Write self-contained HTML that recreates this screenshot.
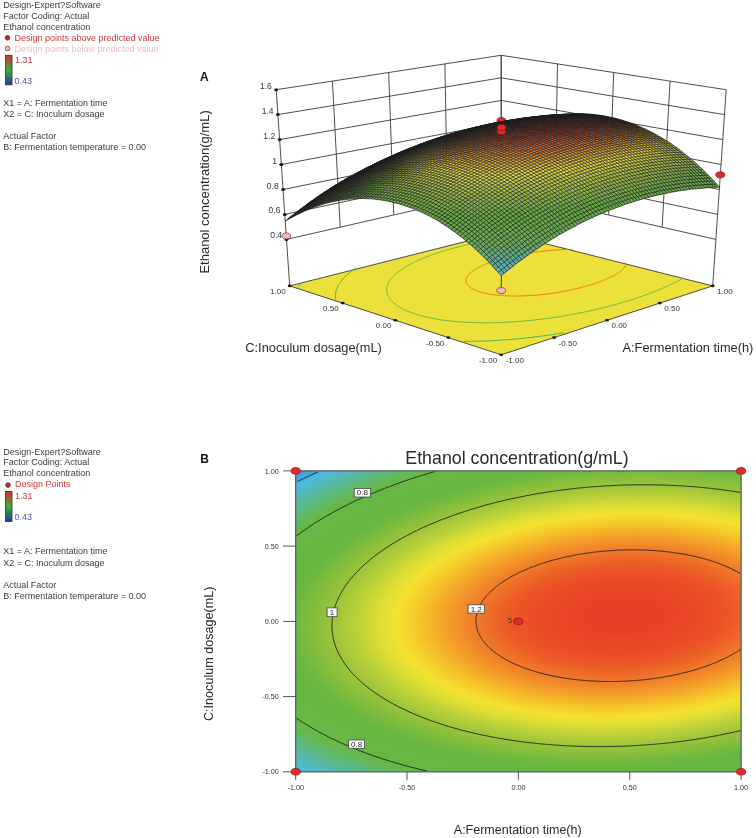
<!DOCTYPE html>
<html><head><meta charset="utf-8"><style>
html,body{margin:0;padding:0;background:#fff;width:756px;height:838px;overflow:hidden;position:relative}
svg{will-change:transform}
</style></head><body>
<svg width="756" height="838" viewBox="0 0 756 838" style="position:absolute;left:0;top:0" font-family="Liberation Sans, sans-serif">
<defs>
<linearGradient id="cb" x1="0" y1="0" x2="0" y2="1"><stop offset="0" stop-color="#d8302a"/><stop offset="0.5" stop-color="#3cae3c"/><stop offset="1" stop-color="#1c3c9c"/></linearGradient>
<radialGradient id="hm" gradientUnits="userSpaceOnUse" cx="0" cy="0" r="1" gradientTransform="matrix(500.5277 -10.4647 15.4902 -226.1302 621.59 615.69)"><stop offset="0.000" stop-color="#e84026"/><stop offset="0.025" stop-color="#e84026"/><stop offset="0.050" stop-color="#e84026"/><stop offset="0.075" stop-color="#e84226"/><stop offset="0.100" stop-color="#e94426"/><stop offset="0.125" stop-color="#e94726"/><stop offset="0.150" stop-color="#ea4a26"/><stop offset="0.175" stop-color="#eb4e26"/><stop offset="0.200" stop-color="#eb5326"/><stop offset="0.225" stop-color="#ec5a26"/><stop offset="0.250" stop-color="#ee6527"/><stop offset="0.275" stop-color="#ef7228"/><stop offset="0.300" stop-color="#f17f28"/><stop offset="0.325" stop-color="#f28f28"/><stop offset="0.350" stop-color="#f49f28"/><stop offset="0.375" stop-color="#f4b029"/><stop offset="0.400" stop-color="#f5c22a"/><stop offset="0.425" stop-color="#f5d22b"/><stop offset="0.450" stop-color="#f4e22e"/><stop offset="0.475" stop-color="#e5e032"/><stop offset="0.500" stop-color="#d3da36"/><stop offset="0.525" stop-color="#bdd238"/><stop offset="0.550" stop-color="#adcc39"/><stop offset="0.575" stop-color="#9dc43a"/><stop offset="0.600" stop-color="#8ec03c"/><stop offset="0.625" stop-color="#7fbd3d"/><stop offset="0.650" stop-color="#70b83f"/><stop offset="0.675" stop-color="#66b640"/><stop offset="0.700" stop-color="#66b742"/><stop offset="0.725" stop-color="#66b743"/><stop offset="0.750" stop-color="#66b744"/><stop offset="0.775" stop-color="#66b846"/><stop offset="0.800" stop-color="#62b860"/><stop offset="0.825" stop-color="#5db880"/><stop offset="0.850" stop-color="#57b8a0"/><stop offset="0.875" stop-color="#51babe"/><stop offset="0.900" stop-color="#4abbdc"/><stop offset="0.925" stop-color="#43a7e1"/><stop offset="0.950" stop-color="#3a85d4"/><stop offset="0.975" stop-color="#306dc6"/><stop offset="1.000" stop-color="#2554b6"/></radialGradient>
<clipPath id="cp"><rect x="295.7" y="470.9" width="445.4" height="300.9"/></clipPath>
</defs>
<text x="3.3" y="8.4" font-size="9" fill="#3c3c3c">Design-Expert?Software</text><text x="3.3" y="18.8" font-size="9" fill="#3c3c3c">Factor Coding: Actual</text><text x="3.3" y="30.0" font-size="9" fill="#3c3c3c">Ethanol concentration</text><circle cx="7.5" cy="37.8" r="2.3" fill="#b83030" stroke="#602020" stroke-width="0.8"/><text x="14.5" y="40.8" font-size="9" fill="#d23a3a">Design points above predicted value</text><circle cx="7.5" cy="48.5" r="2.3" fill="#f0c0c0" stroke="#604040" stroke-width="0.8"/><text x="14.5" y="51.5" font-size="9" fill="#f2bcbc">Design points below predicted value</text><rect x="5.5" y="55.3" width="6.5" height="29.5" fill="url(#cb)" stroke="#303030" stroke-width="0.8"/><text x="15" y="62.6" font-size="9" fill="#c83c3c">1.31</text><text x="14.5" y="83.7" font-size="9" fill="#4a5aa8">0.43</text>
<g font-size="9" fill="#3c3c3c"><text x="3.3" y="106.3">X1 = A: Fermentation time</text><text x="3.3" y="117.2">X2 = C: Inoculum dosage</text><text x="3.3" y="138.6">Actual Factor</text><text x="3.3" y="149.5">B: Fermentation temperature = 0.00</text></g>
<text x="3.3" y="454.5" font-size="9" fill="#3c3c3c">Design-Expert?Software</text><text x="3.3" y="464.9" font-size="9" fill="#3c3c3c">Factor Coding: Actual</text><text x="3.3" y="476.1" font-size="9" fill="#3c3c3c">Ethanol concentration</text><circle cx="8" cy="485.1" r="2.3" fill="#b83030" stroke="#602020" stroke-width="0.8"/><text x="15" y="487.2" font-size="9" fill="#d23a3a">Design Points</text><rect x="5.5" y="491.5" width="6.5" height="30.1" fill="url(#cb)" stroke="#303030" stroke-width="0.8"/><text x="15" y="498.5" font-size="9" fill="#c83c3c">1.31</text><text x="14.5" y="520.3" font-size="9" fill="#4a5aa8">0.43</text>
<g font-size="9" fill="#3c3c3c"><text x="3.3" y="554.4">X1 = A: Fermentation time</text><text x="3.3" y="565.5">X2 = C: Inoculum dosage</text><text x="3.3" y="587.8">Actual Factor</text><text x="3.3" y="598.6">B: Fermentation temperature = 0.00</text></g>
<text x="200" y="80.9" font-size="12" font-weight="bold" fill="#111">A</text>
<text x="200.3" y="462.7" font-size="12" font-weight="bold" fill="#111">B</text>
<path d="M286.5 239.4L501.2 190.5M501.2 190.5L715.9 239.4M284.8 214.4L501.2 168M501.2 168L717.6 214.4M283.1 189.5L501.2 145.4M501.2 145.4L719.3 189.5M281.3 164.5L501.2 122.9M501.2 122.9L721.1 164.5M279.6 139.6L501.2 100.4M501.2 100.4L722.8 139.6M277.9 114.6L501.2 77.8M501.2 77.8L724.5 114.6M276.2 89.7L501.2 55.3M501.2 55.3L726.2 89.7M340.2 227.1L332.4 81.1M393.8 214.9L388.7 72.5M447.5 202.7L444.9 63.9M501.2 190.5L501.2 55.3M554.9 202.7L557.5 63.9M608.6 214.9L613.7 72.5M662.2 227.1L670 81.1M289.7 285.9L276.2 89.7M712.7 285.9L726.2 89.7M501.2 232.5L501.2 55.3" stroke="#3a3a3a" stroke-width="0.9" fill="none"/>
<path d="M289.7 285.9 L501.2 354.8 L712.7 285.9 L501.2 232.5Z" fill="#ebe13a" stroke="#3a3a3a" stroke-width="0.9"/>
<path d="M301.1 283.1 300.1 284.5 299.2 285.8 298.4 287.2" stroke="#3a9ad8" stroke-width="0.9" fill="none"/>
<path d="M356.5 267.7 355.2 268.5 353.9 269.4 352.7 270.3 351.4 271.2 350.2 272.2 349.1 273.1 347.9 274.1 346.8 275 345.8 276 344.7 277 343.8 278.1 342.8 279.1 341.9 280.2 341.1 281.3 340.2 282.4 339.5 283.5 338.8 284.6 338.1 285.7 337.6 286.9 337 288.1 336.6 289.3 336.2 290.5 335.9 291.7 335.6 293 335.5 294.3 335.4 295.5 335.4 296.8 335.5 298.1 335.7 299.4M463.8 341.4 468.3 341.4 472.7 341.3 477.1 341.2 481.5 341.1 485.9 341 490.2 340.8 494.5 340.6 498.7 340.3 503 340 507.1 339.7 511.3 339.4 515.4 339 519.4 338.7 523.4 338.3 527.3 337.8 531.2 337.4 535 336.9 538.8 336.5 542.5 336 546.2 335.5 549.8 334.9 553.4 334.4 556.9 333.9 560.4 333.3 563.8 332.7" stroke="#3fae5a" stroke-width="0.9" fill="none"/>
<path d="M515.8 236 513.6 236.3 511.3 236.6 509.1 236.9 506.9 237.3 504.7 237.6 502.6 237.9 500.5 238.2 498.4 238.6 496.4 238.9 494.4 239.3 492.4 239.6 490.4 240 488.5 240.3 486.6 240.7 484.7 241 482.8 241.4 481 241.7 479.2 242.1 477.4 242.5 475.6 242.8 473.9 243.2 472.2 243.6 470.5 244 468.8 244.3 467.1 244.7 465.5 245.1 463.9 245.5 462.3 245.9 460.7 246.3 459.1 246.7 457.5 247.1 456 247.5 454.5 247.9 453 248.3 451.5 248.7 450 249.1 448.5 249.5 447 249.9 445.6 250.4 444.2 250.8 442.8 251.2 441.4 251.7 440 252.1 438.6 252.5 437.2 253 435.9 253.4 434.5 253.9 433.2 254.4 431.9 254.8 430.6 255.3 429.3 255.8 428 256.3 426.7 256.8 425.5 257.3 424.2 257.8 423 258.3 421.7 258.8 420.5 259.3 419.3 259.8 418.1 260.4 416.9 260.9 415.7 261.4 414.6 262 413.4 262.6 412.3 263.1 411.2 263.7 410.1 264.3 409 264.9 407.9 265.5 406.8 266.1 405.8 266.7 404.7 267.4 403.7 268 402.7 268.6 401.7 269.3 400.7 270 399.8 270.7 398.9 271.3 398 272 397.1 272.8 396.2 273.5 395.4 274.2 394.6 275 393.8 275.7 393.1 276.5 392.3 277.3 391.7 278.1 391 278.9 390.4 279.7 389.8 280.5 389.3 281.4 388.8 282.2 388.4 283.1 388 284 387.6 284.9 387.3 285.8 387.1 286.7 386.9 287.6 386.8 288.6 386.7 289.5 386.8 290.5 386.8 291.4 387 292.4 387.2 293.4 387.5 294.4 387.9 295.4 388.4 296.4 388.9 297.4 389.6 298.4 390.3 299.4 391.2 300.4 392.1 301.4 393.1 302.4 394.2 303.3 395.5 304.3 396.8 305.3 398.3 306.3 399.8 307.2 401.4 308.1 403.2 309.1 405.1 310 407 310.9 409.1 311.7 411.3 312.6 413.5 313.4 415.9 314.1 418.3 314.9 420.9 315.6 423.5 316.3 426.2 317 429 317.6 431.9 318.2 434.9 318.8 437.9 319.3 440.9 319.8 444.1 320.2 447.2 320.6 450.4 321 453.7 321.4 457 321.7 460.3 321.9 463.6 322.1 467 322.3 470.4 322.5 473.7 322.6 477.1 322.7 480.5 322.8 483.9 322.8 487.2 322.8 490.6 322.8 493.9 322.7 497.3 322.6 500.6 322.5 503.8 322.4 507.1 322.2 510.3 322 513.5 321.8 516.7 321.6 519.8 321.4 522.9 321.1 525.9 320.8 528.9 320.6 531.9 320.3 534.9 319.9 537.8 319.6 540.6 319.3 543.4 318.9 546.2 318.5 549 318.2 551.7 317.8 554.3 317.4 557 317 559.5 316.6 562.1 316.2 564.6 315.8 567.1 315.3 569.5 314.9 571.9 314.5 574.3 314 576.6 313.6 578.9 313.1 581.1 312.7 583.4 312.2 585.6 311.8 587.7 311.3 589.9 310.8 592 310.4 594 309.9 596.1 309.4 598.1 308.9 600.1 308.5 602 308 604 307.5 605.9 307 607.7 306.5 609.6 306.1 611.4 305.6 613.2 305.1 615 304.6 616.8 304.1 618.5 303.6 620.3 303.1 622 302.6 623.6 302.1 625.3 301.6 627 301.1 628.6 300.6 630.2 300.1 631.8 299.6 633.4 299.1 634.9 298.6 636.5 298.1 638 297.6 639.5 297.1 641 296.6 642.5 296 643.9 295.5 645.4 295 646.8 294.5 648.3 294 649.7 293.4 651.1 292.9 652.5 292.4 653.8 291.8 655.2 291.3 656.6 290.7 657.9 290.2 659.2 289.6 660.6 289.1 661.9 288.5 663.2 288 664.4 287.4 665.7 286.9 667 286.3 668.2 285.7 669.5 285.1 670.7 284.5 671.9 284 673.1 283.4 674.3 282.8 675.5 282.2 676.7 281.6 677.9 281 679 280.3 680.1 279.7 681.3 279.1 682.4 278.5 683.5 277.8" stroke="#5fb84a" stroke-width="0.9" fill="none"/>
<path d="M572.5 249.3 570.8 249.3 569.2 249.3 567.5 249.4 565.9 249.4 564.3 249.5 562.7 249.6 561.1 249.7 559.5 249.8 558 249.9 556.4 250 554.9 250.1 553.4 250.2 551.9 250.3 550.5 250.4 549 250.6 547.6 250.7 546.2 250.8 544.8 251 543.5 251.1 542.1 251.3 540.8 251.4 539.5 251.6 538.2 251.8 537 251.9 535.7 252.1 534.5 252.2 533.3 252.4 532.1 252.6 531 252.8 529.8 252.9 528.7 253.1 527.5 253.3 526.4 253.5 525.4 253.7 524.3 253.8 523.2 254 522.2 254.2 521.2 254.4 520.1 254.6 519.2 254.8 518.2 255 517.2 255.2 516.2 255.4 515.3 255.6 514.4 255.7 513.4 255.9 512.5 256.1 511.6 256.3 510.7 256.5 509.9 256.7 509 256.9 508.1 257.2 507.3 257.4 506.5 257.6 505.6 257.8 504.8 258 504 258.2 503.2 258.4 502.4 258.6 501.6 258.8 500.9 259 500.1 259.3 499.3 259.5 498.6 259.7 497.8 259.9 497.1 260.1 496.4 260.4 495.6 260.6 494.9 260.8 494.2 261 493.5 261.3 492.8 261.5 492.1 261.7 491.4 262 490.7 262.2 490.1 262.5 489.4 262.7 488.7 262.9 488.1 263.2 487.4 263.4 486.8 263.7 486.1 264 485.5 264.2 484.9 264.5 484.3 264.7 483.6 265 483 265.3 482.4 265.5 481.8 265.8 481.2 266.1 480.6 266.4 480 266.7 479.5 267 478.9 267.3 478.3 267.5 477.8 267.8 477.2 268.2 476.7 268.5 476.1 268.8 475.6 269.1 475.1 269.4 474.6 269.7 474.1 270.1 473.6 270.4 473.1 270.7 472.6 271.1 472.1 271.4 471.7 271.8 471.2 272.1 470.8 272.5 470.4 272.9 470 273.2 469.6 273.6 469.2 274 468.9 274.4 468.5 274.8 468.2 275.2 467.9 275.6 467.6 276 467.3 276.4 467.1 276.9 466.9 277.3 466.7 277.7 466.5 278.1 466.3 278.6 466.2 279 466.1 279.5 466.1 279.9 466 280.4 466.1 280.9 466.1 281.3 466.2 281.8 466.3 282.3 466.4 282.7 466.6 283.2 466.9 283.7 467.2 284.2 467.5 284.7 467.8 285.1 468.3 285.6 468.7 286.1 469.3 286.6 469.8 287 470.4 287.5 471.1 287.9 471.8 288.4 472.6 288.8 473.4 289.3 474.3 289.7 475.3 290.1 476.2 290.5 477.3 290.9 478.4 291.3 479.5 291.7 480.7 292.1 481.9 292.4 483.2 292.8 484.5 293.1 485.9 293.4 487.3 293.7 488.8 294 490.2 294.2 491.8 294.5 493.3 294.7 494.9 294.9 496.5 295.1 498.1 295.2 499.7 295.4 501.4 295.5 503 295.7 504.7 295.8 506.4 295.8 508.1 295.9 509.8 296 511.5 296 513.2 296 514.9 296.1 516.6 296 518.3 296 519.9 296 521.6 296 523.3 295.9 524.9 295.9 526.5 295.8 528.2 295.7 529.8 295.6 531.4 295.5 532.9 295.4 534.5 295.3 536 295.1 537.5 295 539 294.9 540.5 294.7 542 294.6 543.4 294.4 544.8 294.2 546.2 294.1 547.6 293.9 549 293.7 550.3 293.5 551.6 293.4 552.9 293.2 554.2 293 555.5 292.8 556.7 292.6 557.9 292.4 559.1 292.2 560.3 292 561.5 291.8 562.6 291.6 563.8 291.4 564.9 291.1 566 290.9 567.1 290.7 568.2 290.5 569.2 290.3 570.3 290.1 571.3 289.8 572.3 289.6 573.3 289.4 574.3 289.2 575.2 288.9 576.2 288.7 577.1 288.5 578.1 288.3 579 288 579.9 287.8 580.8 287.6 581.7 287.3 582.6 287.1 583.4 286.9 584.3 286.6 585.1 286.4 586 286.2 586.8 285.9 587.6 285.7 588.4 285.5 589.2 285.2 590 285 590.8 284.7 591.6 284.5 592.3 284.2 593.1 284 593.9 283.8 594.6 283.5 595.3 283.3 596.1 283 596.8 282.8 597.5 282.5 598.2 282.3 598.9 282 599.6 281.7 600.3 281.5 601 281.2 601.7 281 602.4 280.7 603 280.4 603.7 280.2 604.4 279.9 605 279.6 605.7 279.4 606.3 279.1 606.9 278.8 607.6 278.5 608.2 278.2 608.8 278 609.4 277.7 610 277.4 610.6 277.1 611.2 276.8 611.8 276.5 612.4 276.2 613 275.9 613.5 275.6 614.1 275.3 614.7 275 615.2 274.7 615.8 274.3 616.3 274 616.8 273.7 617.4 273.4 617.9 273 618.4 272.7 618.9 272.4 619.4 272 619.8 271.7 620.3 271.3 620.8 271 621.2 270.6 621.6 270.2 622 269.9 622.5 269.5 622.8 269.1 623.2 268.8 623.6 268.4 623.9 268 624.2 267.6 624.6 267.2 624.8 266.8 625.1 266.4 625.4 266 625.6 265.6 625.8 265.2 625.9 264.8 626.1 264.4 626.2 263.9 626.3 263.5 626.4 263.1 626.4 262.7" stroke="#f06a22" stroke-width="0.9" fill="none"/>
<ellipse cx="448.3" cy="337.6" rx="2" ry="1.3" fill="#1a1a1a"/><ellipse cx="554.1" cy="337.6" rx="2" ry="1.3" fill="#1a1a1a"/><ellipse cx="395.4" cy="320.3" rx="2" ry="1.3" fill="#1a1a1a"/><ellipse cx="607" cy="320.3" rx="2" ry="1.3" fill="#1a1a1a"/><ellipse cx="342.6" cy="303.1" rx="2" ry="1.3" fill="#1a1a1a"/><ellipse cx="659.8" cy="303.1" rx="2" ry="1.3" fill="#1a1a1a"/><ellipse cx="289.7" cy="285.9" rx="2" ry="1.3" fill="#1a1a1a"/><ellipse cx="712.7" cy="285.9" rx="2" ry="1.3" fill="#1a1a1a"/><ellipse cx="501.2" cy="354.8" rx="2" ry="1.3" fill="#1a1a1a"/><ellipse cx="286.5" cy="239.4" rx="2" ry="1.5" fill="#1a1a1a"/><ellipse cx="284.8" cy="214.4" rx="2" ry="1.5" fill="#1a1a1a"/><ellipse cx="283.1" cy="189.5" rx="2" ry="1.5" fill="#1a1a1a"/><ellipse cx="281.3" cy="164.5" rx="2" ry="1.5" fill="#1a1a1a"/><ellipse cx="279.6" cy="139.6" rx="2" ry="1.5" fill="#1a1a1a"/><ellipse cx="277.9" cy="114.6" rx="2" ry="1.5" fill="#1a1a1a"/><ellipse cx="276.2" cy="89.7" rx="2" ry="1.5" fill="#1a1a1a"/>
<g font-size="8.5" fill="#333" text-anchor="end"><text x="282.1" y="238.4">0.4</text><text x="280.4" y="213.4">0.6</text><text x="278.7" y="188.5">0.8</text><text x="276.9" y="163.5">1</text><text x="275.2" y="138.6">1.2</text><text x="273.5" y="113.6">1.4</text><text x="271.8" y="88.7">1.6</text></g><g font-size="8" fill="#333"><text x="285.7" y="293.9" text-anchor="end">1.00</text><text x="338.6" y="311.1" text-anchor="end">0.50</text><text x="391.4" y="328.3" text-anchor="end">0.00</text><text x="444.3" y="345.6" text-anchor="end">-0.50</text><text x="497.2" y="362.8" text-anchor="end">-1.00</text><text x="505.7" y="362.8">-1.00</text><text x="558.6" y="345.6">-0.50</text><text x="611.5" y="328.3">0.00</text><text x="664.3" y="311.1">0.50</text><text x="717.2" y="293.9">1.00</text></g>
<text x="245.3" y="352.1" font-size="12.8" fill="#2a2a2a">C:Inoculum dosage(mL)</text>
<text x="622.5" y="351.7" font-size="12.8" fill="#2a2a2a">A:Fermentation time(h)</text>
<text transform="translate(209.2 273.6) rotate(-90)" font-size="13" fill="#2a2a2a">Ethanol concentration(g/mL)</text>
<ellipse cx="501.4" cy="120.6" rx="4.4" ry="3.1" fill="#e02a2a" stroke="#8a1a1a" stroke-width="0.8"/>
<g transform="scale(0.25)"><path fill="#50b0c8" d="M2005 1103l12-10-12-13-12 10z"/><path fill="#58b0c0" d="M1993 1090l12-10-12-13-12 10z"/><path fill="#58b0b0" d="M1981 1077l12-10-12-13-11 10zM2017 1071l11-10-11-13-12 10z"/><path fill="#58a8a8" d="M1970 1064l11-10-11-12-12 9zM1993 1067l12-9-12-13-12 9zM2028 1061l12-9-12-13-11 9zM2063 1056l12-9-12-13-11 9z"/><path fill="#58a898" d="M1958 1051l12-9-12-12-12 9zM2017 1048l11-9-11-13-12 10zM2052 1043l11-9-11-13-12 9z"/><path fill="#60a890" d="M1946 1039l12-9-12-12-12 9zM1970 1042l11-10-11-12-12 10zM2005 1036l12-10-12-12-12 9zM2028 1039l12-9-12-13-11 9zM2063 1034l12-9-11-13-12 9zM2099 1030l11-8-11-14-12 9z"/><path fill="#60a880" d="M1934 1027l12-9-12-12-11 10zM1970 1020l11-9-11-12-12 10zM1993 1023l12-9-12-12-12 9zM2028 1017l12-8-12-13-11 9zM2052 1021l12-9-12-12-12 9zM2087 1017l12-9-12-13-12 9zM2122 1013l12-8-12-13-11 8z"/><path fill="#60a878" d="M1923 1016l11-10-12-11-11 10zM1946 1018l12-9-12-12-12 9zM1981 1011l12-9-12-12-11 9zM2005 1014l12-9-12-12-12 9zM2040 1009l12-9-12-12-12 8zM2064 1012l11-8-11-13-12 9zM2099 1008l12-8-12-13-12 8zM2134 1005l12-8-12-13-12 8z"/><path fill="#60a868" d="M1911 1005l11-10-11-11-12 10zM1946 997l12-9-12-11-12 9zM1970 999l11-9-12-11-11 9zM1993 1002l12-9-12-12-12 9zM2028 996l12-8-12-12-11 8zM2064 991l11-8-11-12-12 8zM2087 995l12-8-12-12-12 8zM2099 987l12-8-12-13-12 9zM2122 992l12-8-11-13-12 8zM2158 989l11-8-11-13-12 8zM2169 981l12-7-11-14-12 8z"/><path fill="#68a860" d="M1899 994l12-10-12-10-12 9zM1922 995l12-9-12-11-11 9zM1958 988l11-9-11-11-12 9zM1981 990l12-9-12-11-12 9zM2040 988l12-9-12-12-12 9zM2075 983l12-8-12-13-11 9zM2111 979l12-8-12-13-12 8zM2146 976l12-8-12-13-12 8zM2181 974l12-8-12-13-11 7z"/><path fill="#68a858" d="M1887 983l12-9-12-10-12 9zM1911 984l11-9-11-10-12 9zM1934 986l12-9-12-11-12 9zM1993 981l12-9-12-11-12 9zM2017 984l11-8-11-12-12 8zM2052 979l12-8-12-12-12 8zM2087 975l12-9-12-12-12 8zM2123 971l11-8-11-12-12 7zM2158 968l12-8-12-12-12 7zM2193 966l12-7-12-13-12 7z"/><path fill="#68a850" d="M1875 973l12-9-12-10-12 9zM1863 963l12-9-12-10-11 9zM1852 953l11-9-12-9-11 9zM1899 974l12-9-12-11-12 10zM1887 964l12-10-12-10-12 10zM1875 954l12-10-12-9-12 9zM1922 975l12-9-12-11-11 10zM1911 965l11-10-12-10-11 9zM1899 954l11-9-11-10-12 9zM1946 977l12-9-12-11-12 9zM1934 966l12-9-12-11-12 9zM1922 955l12-9-12-10-12 9zM1910 945l12-9-12-10-11 9zM1969 979l12-9-12-11-11 9zM1958 968l11-9-11-11-12 9zM1946 957l12-9-12-11-12 9zM1934 946l12-9-12-10-12 9zM1981 970l12-9-12-11-12 9zM1969 959l12-9-12-11-11 9zM1958 948l11-9-11-10-12 8zM2005 972l12-8-12-12-12 9zM1993 961l12-9-12-11-12 9zM1981 950l12-9-12-10-12 8zM2028 976l12-9-12-12-11 9zM2017 964l11-9-11-11-12 8zM2005 952l12-8-12-11-12 8zM2040 967l12-8-12-12-12 8zM2028 955l12-8-12-11-11 8zM2017 944l11-8-11-12-12 9zM2064 971l11-9-11-12-12 9zM2052 959l12-9-12-11-12 8zM2040 947l12-8-12-12-12 9zM2075 962l12-8-11-12-12 8zM2064 950l12-8-12-11-12 8zM2099 966l12-8-12-12-12 8zM2087 954l12-8-12-12-11 8zM2076 942l11-8-11-11-12 8zM2111 958l12-7-12-13-12 8zM2099 946l12-8-12-12-12 8zM2134 963l12-8-12-12-11 8zM2123 951l11-8-11-12-12 7zM2111 938l12-7-12-12-12 7zM2146 955l12-7-12-13-12 8zM2134 943l12-8-11-12-12 8zM2170 960l11-7-11-13-12 8zM2158 948l12-8-12-12-12 7zM2146 935l12-7-12-12-11 7zM2181 953l12-7-11-13-12 7zM2170 940l12-7-12-13-12 8zM2205 959l12-8-12-13-12 8zM2193 946l12-8-11-12-12 7zM2182 933l12-7-12-13-12 7zM2217 951l12-7-12-13-12 7zM2205 938l12-7-12-12-11 7zM2229 944l11-7-11-13-12 7zM2217 931l12-7-12-12-12 7zM2240 937l12-6-11-13-12 6zM2229 924l12-6-12-13-12 7zM2252 931l12-7-11-13-12 7zM2264 924l12-7-12-13-11 7zM2276 917l12-6-12-13-12 6z"/><path fill="#68a848" d="M1840 944l11-9-11-10-12 10zM1828 935l12-10-12-8-12 9zM1816 926l12-9-12-9-12 10zM1804 918l12-10-12-8-12 9zM1792 909l12-9-12-8-12 9zM1780 901l12-9-12-8-12 10zM1768 894l12-10-12-7-12 9zM1756 886l12-9-12-7-11 9zM1745 879l11-9-12-7-11 10zM1733 873l11-10-12-6-11 9zM1721 866l11-9-11-6-12 9zM1709 860l12-9-12-6-12 9zM1697 854l12-9-12-6-12 9zM1685 848l12-9-12-5-12 9zM1673 843l12-9-12-5-12 9zM1507 798l12-10-12-1-12 9zM1495 796l12-9-12-1-11 9zM1484 795l11-9-11 0-12 9zM1863 944l12-9-12-10-12 10zM1851 935l12-10-12-9-11 9zM1840 925l11-9-12-9-11 10zM1828 917l11-10-12-8-11 9zM1816 908l11-9-11-8-12 9zM1804 900l12-9-12-8-12 9zM1792 892l12-9-12-8-12 9zM1780 884l12-9-12-7-12 9zM1768 877l12-9-12-7-12 9zM1756 870l12-9-12-7-12 9zM1744 863l12-9-12-6-12 9zM1732 857l12-9-12-6-11 9zM1721 851l11-9-12-6-11 9zM1495 786l12-9-12 0-11 9zM1887 944l12-9-12-10-12 10zM1875 935l12-10-12-9-12 9zM1863 925l12-9-12-9-12 9zM1851 916l12-9-12-9-12 9zM1839 907l12-9-12-8-12 9zM1827 899l12-9-12-8-11 9zM1816 891l11-9-12-8-11 9zM1804 883l11-9-11-8-12 9zM1792 875l12-9-12-7-12 9zM1780 868l12-9-12-7-12 9zM1768 861l12-9-12-7-12 9zM1756 854l12-9-12-6-12 9zM1899 935l11-9-12-10-11 9zM1887 925l11-9-11-9-12 9zM1875 916l12-9-12-9-12 9zM1863 907l12-9-12-9-12 9zM1851 898l12-9-12-8-12 9zM1839 890l12-9-12-8-12 9zM1827 882l12-9-12-8-12 9zM1815 874l12-9-12-8-11 9zM1804 866l11-9-12-7-11 9zM1792 859l11-9-12-7-11 9zM1922 936l12-9-12-10-12 9zM1910 926l12-9-12-9-12 8zM1898 916l12-8-12-10-11 9zM1887 907l11-9-11-9-12 9zM1875 898l12-9-12-9-12 9zM1863 889l12-9-12-8-12 9zM1851 881l12-9-12-8-12 9zM1839 873l12-9-12-8-12 9zM1827 865l12-9-12-8-12 9zM1815 857l12-9-12-7-12 9zM1946 937l12-8-12-11-12 9zM1934 927l12-9-12-9-12 8zM1922 917l12-8-12-10-12 9zM1910 908l12-9-12-9-12 8zM1898 898l12-8-12-9-11 8zM1887 889l11-8-12-9-11 8zM1875 880l11-8-11-9-12 9zM1863 872l12-9-12-8-12 9zM1851 864l12-9-12-8-12 9zM1969 939l12-8-12-11-11 9zM1958 929l11-9-11-10-12 8zM1946 918l12-8-12-10-12 9zM1934 909l12-9-12-10-12 9zM1922 899l12-9-12-9-12 9zM1910 890l12-9-12-9-12 9zM1898 881l12-9-12-9-12 9zM1886 872l12-9-12-8-11 8zM1875 863l11-8-12-8-11 8zM1993 941l12-8-12-11-12 9zM1981 931l12-9-12-10-12 8zM1969 920l12-8-12-11-11 9zM1958 910l11-9-12-10-11 9zM1946 900l11-9-11-9-12 8zM1934 890l12-8-12-9-12 8zM1922 881l12-8-12-9-12 8zM1910 872l12-8-12-9-12 8zM1898 863l12-8-12-9-12 9zM2005 933l12-9-12-10-12 8zM1993 922l12-8-12-11-12 9zM1981 912l12-9-12-10-12 8zM1969 901l12-8-12-10-12 8zM1957 891l12-8-12-9-11 8zM1946 882l11-8-11-10-12 9zM1934 873l12-9-12-9-12 9zM1922 864l12-9-12-8-12 8zM2028 936l12-9-12-11-11 8zM2017 924l11-8-11-11-12 9zM2005 914l12-9-12-10-12 8zM1993 903l12-8-12-10-12 8zM1981 893l12-8-12-10-12 8zM1969 883l12-8-12-10-12 9zM1957 874l12-9-12-9-11 8zM1946 864l11-8-11-9-12 8zM2052 939l12-8-12-12-12 8zM2040 927l12-8-12-11-12 8zM2028 916l12-8-12-11-11 8zM2017 905l11-8-11-10-12 8zM2005 895l12-8-12-10-12 8zM1993 885l12-8-12-10-12 8zM1981 875l12-8-12-10-12 8zM1969 865l12-8-12-9-12 8zM2064 931l12-8-12-12-12 8zM2052 919l12-8-12-11-12 8zM2040 908l12-8-12-11-12 8zM2028 897l12-8-12-10-11 8zM2017 887l11-8-11-10-12 8zM2005 877l12-8-12-10-12 8zM1993 867l12-8-12-10-12 8zM2087 934l12-8-12-11-11 8zM2076 923l11-8-11-12-12 8zM2064 911l12-8-12-11-12 8zM2052 900l12-8-12-10-12 7zM2040 889l12-7-12-11-12 8zM2028 879l12-8-12-10-11 8zM2017 869l11-8-11-10-12 8zM2005 859l12-8-12-9-12 7zM2099 926l12-7-12-12-12 8zM2087 915l12-8-11-11-12 7zM2076 903l12-7-12-11-12 7zM2064 892l12-7-12-11-12 8zM2052 882l12-8-12-10-12 7zM2040 871l12-7-12-11-12 8zM2028 861l12-8-11-9-12 7zM2123 931l12-8-12-12-12 8zM2111 919l12-8-12-12-12 8zM2099 907l12-8-12-11-11 8zM2088 896l11-8-11-11-12 8zM2076 885l12-8-12-11-12 8zM2064 874l12-8-12-10-12 8zM2052 864l12-8-12-10-12 7zM2135 923l11-7-11-12-12 7zM2123 911l12-7-12-12-12 7zM2111 899l12-7-12-11-12 7zM2099 888l12-7-12-11-11 7zM2088 877l11-7-11-11-12 7zM2076 866l12-7-12-10-12 7zM2064 856l12-7-12-10-12 7zM2158 928l12-8-12-12-12 8zM2146 916l12-8-11-12-12 8zM2135 904l12-8-12-11-12 7zM2123 892l12-7-12-12-12 8zM2111 881l12-8-12-10-12 7zM2099 870l12-7-11-11-12 7zM2088 859l12-7-12-11-12 8zM2170 920l12-7-12-12-12 7zM2158 908l12-7-12-12-11 7zM2147 896l11-7-11-11-12 7zM2135 885l12-7-12-12-12 7zM2123 873l12-7-12-11-12 8zM2111 863l12-8-12-10-11 7zM2100 852l11-7-11-11-12 7zM2194 926l11-7-11-13-12 7zM2182 913l12-7-12-12-12 7zM2170 901l12-7-12-12-12 7zM2158 889l12-7-11-11-12 7zM2147 878l12-7-12-12-12 7zM2135 866l12-7-12-11-12 7zM2123 855l12-7-12-10-12 7zM2205 919l12-7-11-13-12 7zM2194 906l12-7-12-12-12 7zM2182 894l12-7-12-12-12 7zM2170 882l12-7-12-11-11 7zM2159 871l11-7-11-12-12 7zM2147 859l12-7-12-10-12 6zM2217 912l12-7-12-13-11 7zM2206 899l11-7-11-12-12 7zM2194 887l12-7-12-12-12 7zM2182 875l12-7-12-11-12 7zM2170 864l12-7-11-11-12 6zM2159 852l12-6-12-11-12 7zM2241 918l12-7-12-13-12 7zM2229 905l12-7-12-12-12 6zM2217 892l12-6-11-12-12 6zM2206 880l12-6-12-12-12 6zM2194 868l12-6-12-12-12 7zM2182 857l12-7-11-11-12 7zM2171 846l12-7-12-11-12 7zM2253 911l11-7-11-12-12 6zM2241 898l12-6-12-13-12 7zM2229 886l12-7-11-12-12 7zM2218 874l12-7-12-12-12 7zM2206 862l12-7-12-11-12 6zM2194 850l12-6-12-11-11 6zM2264 904l12-6-11-13-12 7zM2253 892l12-7-12-12-12 6zM2241 879l12-6-12-12-11 6zM2230 867l11-6-11-12-12 6zM2218 855l12-6-12-11-12 6zM2206 844l12-6-12-12-12 7zM2288 911l12-6-12-13-12 6zM2276 898l12-6-11-13-12 6zM2265 885l12-6-12-12-12 6zM2253 873l12-6-12-12-12 6zM2241 861l12-6-11-12-12 6zM2230 849l12-6-12-12-12 7zM2300 905l12-7-12-13-12 7zM2288 892l12-7-12-12-11 6zM2277 879l11-6-11-13-12 7zM2265 867l12-7-12-12-12 7zM2253 855l12-7-11-11-12 6zM2242 843l12-6-12-12-12 6zM2312 898l12-6-12-13-12 6zM2300 885l12-6-12-12-12 6zM2288 873l12-6-11-13-12 6zM2277 860l12-6-12-12-12 6zM2265 848l12-6-12-11-11 6zM2254 837l11-6-11-12-12 6zM2324 892l11-5-11-13-12 5zM2312 879l12-5-12-13-12 6zM2300 867l12-6-11-12-12 5zM2289 854l12-5-12-12-12 5zM2277 842l12-5-12-12-12 6zM2335 887l12-6-11-13-12 6zM2324 874l12-6-12-13-12 6zM2312 861l12-6-11-12-12 6zM2301 849l12-6-12-12-12 6zM2289 837l12-6-12-12-12 6zM2347 881l12-6-11-13-12 6zM2336 868l12-6-12-12-12 5zM2324 855l12-5-12-13-11 6zM2313 843l11-6-11-12-12 6zM2301 831l12-6-12-11-12 5zM2359 875l12-5-12-13-11 5zM2348 862l11-5-11-13-12 6zM2336 850l12-6-12-12-12 5zM2324 837l12-5-11-12-12 5zM2371 870l12-6-12-13-12 6zM2359 857l12-6-11-12-12 5zM2348 844l12-5-12-13-12 6zM2336 832l12-6-11-11-12 5zM2383 864l12-5-12-13-12 5zM2371 851l12-5-11-12-12 5zM2360 839l12-5-12-13-12 5zM2348 826l12-5-12-12-11 6zM2395 859l12-5-12-13-12 5zM2383 846l12-5-11-13-12 6zM2372 834l12-6-12-12-12 5zM2360 821l12-5-12-12-12 5zM2407 854l12-5-12-13-12 5zM2395 841l12-5-12-13-11 5zM2384 828l11-5-11-12-12 5zM2419 849l11-5-11-13-12 5zM2407 836l12-5-12-12-12 4zM2395 823l12-4-11-13-12 5zM2430 844l12-5-11-13-12 5zM2419 831l12-5-12-12-12 5zM2407 819l12-5-11-12-12 4zM2442 839l12-4-11-13-12 4zM2431 826l12-4-12-13-12 5zM2419 814l12-5-11-12-12 5zM2454 835l12-5-11-13-12 5zM2443 822l12-5-12-12-12 4zM2431 809l12-4-12-12-11 4zM2466 830l12-4-12-13-11 4zM2455 817l11-4-11-12-12 4zM2443 805l12-4-12-13-12 5zM2478 826l12-4-12-13-12 4zM2466 813l12-4-11-13-12 5zM2490 822l12-5-12-12-12 4zM2478 809l12-4-11-13-12 4zM2502 817l11-4-11-12-12 4zM2490 805l12-4-11-13-12 4zM2513 813l12-3-11-13-12 4zM2502 801l12-4-12-13-11 4zM2525 810l12-4-11-13-12 4zM2514 797l12-4-12-12-12 3zM2537 806l12-4-11-12-12 3zM2526 793l12-3-12-13-12 4zM2549 802l12-3-12-13-11 4zM2538 790l11-4-11-12-12 3zM2561 799l12-4-12-12-12 3zM2549 786l12-3-11-13-12 4zM2573 795l12-3-12-13-12 4zM2561 783l12-4-11-12-12 3zM2585 792l11-3-11-13-12 3zM2573 779l12-3-11-12-12 3zM2596 789l12-3-11-13-12 3zM2585 776l12-3-12-12-11 3zM2608 786l12-3-11-13-12 3zM2597 773l12-3-12-12-12 3zM2620 783l12-3-11-12-12 2zM2609 770l12-2-12-13-12 3zM2632 780l12-2-12-13-11 3zM2621 768l11-3-11-12-12 2zM2644 778l11-3-11-13-12 3zM2632 765l12-3-11-12-12 3zM2655 775l12-2-11-13-12 2zM2644 762l12-2-11-12-12 2zM2667 773l12-3-11-12-12 2zM2656 760l12-2-12-13-11 3zM2679 770l12-2-11-12-12 2zM2668 758l12-2-12-13-12 2zM2691 768l12-2-12-12-11 2zM2680 756l11-2-11-13-12 2zM2703 766l11-2-11-12-12 2zM2691 754l12-2-11-13-12 2zM2714 764l12-2-11-12-12 2zM2703 752l12-2-11-13-12 2zM2692 739l12-2-12-11-12 1zM2726 762l12-1-11-13-12 2zM2715 750l12-2-12-12-11 1zM2704 737l11-1-11-12-12 2zM2738 761l12-2-12-13-11 2zM2727 748l11-2-11-12-12 2zM2715 736l12-2-11-12-12 2zM2750 759l11-2-11-12-12 1zM2738 746l12-1-11-12-12 1zM2727 734l12-1-11-12-12 1zM2761 757l12-1-11-12-12 1zM2750 745l12-1-11-13-12 2zM2739 733l12-2-12-12-11 2zM2773 756l12-1-11-13-12 2zM2762 744l12-2-12-12-11 1zM2751 731l11-1-11-12-12 1zM2785 755l11-1-11-13-11 1zM2774 742l11-1-11-12-12 1zM2762 730l12-1-11-12-12 1zM2751 718l12-1-12-12-11 1zM2796 754l12-1-11-13-12 1zM2785 741l12-1-11-12-12 1zM2774 729l12-1-12-12-11 1zM2763 717l11-1-11-12-12 1zM2808 753l12-1-11-13-12 1zM2797 740l12-1-12-12-11 1zM2786 728l11-1-11-12-12 1zM2774 716l12-1-11-12-12 1zM2820 752l12-1-12-13-11 1zM2809 739l11-1-11-12-12 1zM2797 727l12-1-11-12-12 1zM2786 715l12-1-11-11-12 0zM2832 751l11-1-11-12-12 0zM2820 738l12 0-11-13-12 1zM2809 726l12-1-11-11-12 0zM2798 714l12 0-12-12-11 1zM2787 703l11-1-11-11-12 0zM2843 750l12-1-11-12-12 1zM2832 738l12-1-12-12-11 0zM2821 725l11 0-11-12-11 1zM2810 714l11-1-11-12-12 1zM2798 702l12-1-11-11-12 1zM2855 749l11 0-11-12-11 0zM2844 737l11 0-11-13-12 1zM2832 725l12-1-11-12-12 1zM2821 713l12-1-11-11-12 0zM2810 701l12 0-12-11-11 0zM2866 749l12 0-11-13-12 1zM2855 737l12-1-11-12-12 0zM2844 724l12 0-11-12-12 0zM2833 712l12 0-12-11-11 0zM2822 701l11 0-11-12-12 1z"/><path fill="#70a848" d="M1661 838l12-9-12-5-12 9zM1649 833l12-9-12-4-12 9zM1637 829l12-9-12-5-11 10zM1626 825l11-10-12-4-11 10zM1614 821l11-10-11-3-12 9zM1602 817l12-9-12-4-12 10zM1590 814l12-10-12-3-12 10zM1578 811l12-10-12-2-12 9zM1566 808l12-9-12-3-12 9zM1554 805l12-9-12-2-11 9zM1543 803l11-9-12-2-11 9zM1531 801l11-9-11-2-12 9zM1519 799l12-9-12-2-12 10zM1709 845l11-9-12-6-11 9zM1697 839l11-9-11-5-12 9zM1685 834l12-9-12-5-12 9zM1673 829l12-9-12-5-12 9zM1519 788l11-9-11-1-12 9zM1507 787l12-9-12-1-12 9zM1744 848l12-9-12-6-12 9zM1732 842l12-9-12-6-12 9zM1720 836l12-9-12-6-12 9zM1507 777l12-9-12 0-12 9zM1780 852l11-9-11-7-12 9zM1768 845l12-9-12-6-12 9zM1756 839l12-9-12-6-12 9zM1803 850l12-9-12-7-12 9zM1791 843l12-9-12-7-11 9zM1839 856l12-9-12-7-12 8zM1827 848l12-8-12-7-12 8zM1863 855l11-8-11-8-12 8zM1851 847l12-8-12-8-12 9zM1886 855l12-9-12-8-12 9zM1874 847l12-9-12-8-11 9zM1910 855l12-8-12-9-12 8zM1898 846l12-8-12-8-12 8zM1934 855l12-8-12-9-12 9zM1922 847l12-9-12-8-12 8zM1957 856l12-8-12-9-11 8zM1946 847l11-8-12-9-11 8zM1981 857l12-8-12-9-12 8zM1969 848l12-8-12-9-12 8zM1993 849l12-7-12-9-12 7zM2017 851l12-7-12-10-12 8zM2040 853l12-7-12-10-11 8zM2029 844l11-8-11-9-12 7zM2052 846l12-7-12-10-12 7zM2076 849l12-8-12-10-12 8zM2088 841l12-7-12-10-12 7zM2111 845l12-7-11-11-12 7zM2135 848l12-6-12-11-12 7zM2123 838l12-7-12-10-11 6zM2147 842l12-7-12-11-12 7zM2159 835l12-7-12-10-12 6zM2183 839l11-6-11-11-12 6zM2194 833l12-7-11-11-12 7zM2218 838l12-7-12-11-12 6zM2230 831l12-6-12-11-12 6zM2242 825l12-6-12-11-12 6zM2265 831l12-6-11-12-12 6zM2277 825l12-6-11-11-12 5zM2289 819l12-5-12-12-11 6zM2313 825l12-5-12-12-12 6zM2325 820l12-5-12-12-12 5zM2337 815l11-6-11-11-12 5zM2372 816l12-5-12-12-12 5zM2384 811l12-5-12-12-12 5zM2396 806l12-4-12-12-12 4zM2408 802l12-5-12-12-12 5zM2420 797l11-4-11-12-12 4zM2455 801l12-5-12-12-12 4zM2467 796l12-4-12-12-12 4zM2479 792l12-4-12-12-12 4zM2491 788l11-4-11-12-12 4zM2502 784l12-3-11-12-12 3zM2514 781l12-4-11-12-12 4zM2526 777l12-3-11-12-12 3zM2538 774l12-4-12-12-11 4zM2550 770l12-3-12-12-12 3zM2562 767l12-3-12-12-12 3zM2574 764l11-3-11-12-12 3zM2585 761l12-3-11-12-12 3zM2597 758l12-3-11-12-12 3zM2609 755l12-2-11-12-12 2zM2621 753l12-3-12-12-11 3zM2633 750l12-2-12-12-12 2zM2645 748l11-3-11-12-12 3zM2656 745l12-2-11-12-12 2zM2668 743l12-2-11-12-12 2zM2680 741l12-2-12-12-11 2zM2692 726l12-2-11-12-12 2zM2704 724l12-2-12-11-11 1zM2716 722l12-1-12-12-12 2zM2728 721l11-2-11-11-12 1zM2739 719l12-1-11-12-12 2zM2751 705l12-1-11-11-12 1zM2763 704l12-1-11-11-12 1zM2775 703l12 0-12-12-11 1zM2787 691l12-1-12-11-11 1zM2799 690l11 0-11-11-12 0zM2810 690l12-1-11-11-12 1z"/><path fill="#60a048" d="M1472 795l12-9-12-1-12 9z"/><path fill="#609840" d="M1460 794l12-9-12 0-11 9zM1449 794l11-9-12 0-11 9zM1472 785l11-9-11 0-12 9zM1472 776l11-9-11 0-12 9zM1483 767l12-9-12 0-11 9z"/><path fill="#589040" d="M1437 794l11-9-11 0-12 10zM1425 795l12-10-12 1-12 9zM1448 785l12-9-12 0-11 9zM1437 785l11-9-11 1-12 9zM1460 776l12-9-12 1-12 8z"/><path fill="#588840" d="M1413 795l12-9-12 1-11 9z"/><path fill="#508838" d="M1402 796l11-9-11 1-12 9zM1425 786l12-9-12 1-12 9zM1437 777l11-9-12 1-11 9zM1448 768l12-9-12 1-12 9z"/><path fill="#508038" d="M1390 797l12-9-12 1-11 10zM1413 787l12-9-12 1-11 9zM1402 788l11-9-11 1-12 9zM1425 778l11-9-11 1-12 9zM1413 779l12-9-12 2-11 8zM1436 769l12-9-12 1-11 9zM1448 760l12-8-12 1-12 8zM1460 752l11-9-11 1-12 9z"/><path fill="#487838" d="M1379 799l11-10-11 2-12 9zM1367 800l12-9-12 2-12 9zM1390 789l12-9-12 2-11 9zM1402 780l11-8-11 1-12 9zM1425 770l11-9-11 2-12 9zM1436 761l12-8-12 1-11 9z"/><path fill="#487030" d="M1355 802l12-9-12 2-11 9zM1367 793l11-9-11 2-12 9zM1390 782l12-9-12 2-12 9zM1402 773l11-9-12 2-11 9zM1413 764l12-8-12 2-12 8zM1436 754l12-8-12 1-11 9zM1448 746l11-9-11 2-12 8zM1459 737l12-8-12 2-11 8z"/><path fill="#407030" d="M1344 804l11-9-11 3-12 9zM1378 784l12-9-12 2-11 9zM1390 775l11-9-11 2-12 9zM1425 756l11-9-11 2-12 9z"/><path fill="#406830" d="M1332 807l12-9-12 2-11 9zM1321 809l11-9-11 3-12 9zM1355 795l12-9-12 2-11 10zM1344 798l11-10-11 3-12 9zM1367 786l11-9-11 3-12 8zM1355 788l12-8-12 2-11 9zM1378 777l12-9-12 3-11 9zM1401 766l12-8-12 2-11 8zM1390 768l11-8-11 2-12 9zM1413 758l12-9-12 2-12 9zM1436 747l12-8-12 2-11 8zM1425 749l11-8-11 2-12 8z"/><path fill="#386028" d="M1309 812l12-9-12 3-11 9zM1321 803l11-9-11 3-12 9zM1344 791l11-9-11 3-12 9zM1355 782l12-9-12 3-11 9zM1378 771l12-9-12 3-11 8zM1390 762l11-8-11 2-12 9zM1413 751l12-8-12 2-12 9zM1401 754l12-9-12 3-11 8zM1425 743l11-8-11 2-12 8zM1436 735l12-8-12 2-11 8z"/><path fill="#385830" d="M1298 815l11-9-11 4-11 9z"/><path fill="#305830" d="M1287 819l11-9-11 3-12 9z"/><path fill="#305030" d="M1275 822l12-9-12 4-11 9z"/><path fill="#284830" d="M1264 826l11-9-11 4-11 9zM1275 817l12-9-12 4-11 9z"/><path fill="#284838" d="M1253 830l11-9-11 5-12 9z"/><path fill="#204038" d="M1241 835l12-9-12 4-11 9z"/><path fill="#203830" d="M1230 839l11-9-11 5-11 9zM1241 830l12-9-12 5-11 9z"/><path fill="#183830" d="M1219 844l11-9-11 5-11 9z"/><path fill="#183030" d="M1208 849l11-9-11 5-12 10zM1230 835l11-9-11 5-11 9z"/><path fill="#102830" d="M1196 855l12-10-12 6-11 9z"/><path fill="#102028" d="M1185 860l11-9-11 6-11 9z"/><path fill="#101820" d="M1174 866l11-9-11 6-11 9zM1208 842l11-9-11 6-11 9z"/><path fill="#081820" d="M1163 872l11-9-11 6-11 9zM1185 857l12-9-11 6-12 9zM1174 863l12-9-12 6-11 9zM1186 854l11-9-11 6-12 9zM1174 860l12-9-11 6-12 9zM1186 851l11-9-11 7-11 8zM1197 842l11-9-11 7-11 9z"/><path fill="#081018" d="M1152 878l11-9-11 6-11 10z"/><path fill="#50b0c0" d="M2017 1093l11-9-11-13-12 9z"/><path fill="#58b0b8" d="M2005 1080l12-9-12-13-12 9zM2028 1084l12-9-12-14-11 10zM2040 1075l12-10-12-13-12 9z"/><path fill="#58a8a0" d="M1981 1054l12-9-12-13-11 10zM2005 1058l12-10-12-12-12 9zM2040 1052l12-9-12-13-12 9zM2075 1047l12-8-12-14-12 9z"/><path fill="#60a888" d="M1958 1030l12-10-12-11-12 9zM1981 1032l12-9-12-12-11 9zM2017 1026l11-9-11-12-12 9zM2040 1030l12-9-12-12-12 8zM2075 1025l12-8-12-13-11 8zM2110 1022l12-9-11-13-12 8z"/><path fill="#60a870" d="M1934 1006l12-9-12-11-12 9zM1958 1009l12-10-12-11-12 9zM2017 1005l11-9-11-12-12 9zM2052 1000l12-9-12-12-12 9zM2075 1004l12-9-12-12-11 8zM2111 1000l11-8-11-13-12 8zM2146 997l12-8-12-13-12 8z"/><path fill="#78a848" d="M1661 824l12-9-12-5-12 10zM1531 790l11-9-12-2-11 9zM1519 778l11-9-11-1-12 9zM1530 769l12-9-12 0-11 8zM1519 768l11-8-12-1-11 9zM1815 841l12-8-12-7-12 8zM2348 809l12-5-11-11-12 5zM2431 793l12-5-11-12-12 5zM2740 706l11-1-11-11-12 1z"/><path fill="#78b048" d="M1649 820l12-10-12-4-12 9zM1637 815l12-9-12-4-12 9zM1625 811l12-9-12-3-11 9zM1614 808l11-9-12-4-11 9zM1602 804l11-9-12-3-11 9zM1590 801l11-9-11-3-12 10zM1578 799l12-10-12-2-12 9zM1566 796l12-9-12-2-12 9zM1554 794l12-9-12-2-12 9zM1542 792l12-9-12-2-11 9zM1708 830l12-9-12-5-11 9zM1697 825l11-9-12-5-11 9zM1685 820l11-9-12-5-11 9zM1673 815l11-9-11-4-12 8zM1542 781l12-9-12-2-12 9zM1530 779l12-9-12-1-11 9zM1744 833l12-9-12-6-12 9zM1732 827l12-9-12-6-12 9zM1780 836l11-9-12-6-11 9zM1768 830l11-9-12-6-11 9zM1803 834l12-8-12-7-12 8zM1839 840l12-9-12-7-12 9zM1827 833l12-9-12-7-12 9zM1863 839l11-9-12-7-11 8zM1886 838l12-8-12-8-12 8zM1910 838l12-8-12-8-12 8zM1934 838l11-8-11-8-12 8zM1957 839l12-8-12-8-12 7zM1981 840l12-7-12-9-12 7zM2005 842l12-8-12-9-12 8zM1993 833l12-8-12-9-12 8zM2017 834l12-7-12-10-12 8zM2040 836l12-7-12-10-11 8zM2064 839l12-8-12-9-12 7zM2076 831l12-7-12-9-12 7zM2100 834l12-7-12-10-12 7zM2112 827l11-6-11-10-12 6zM2135 831l12-7-12-10-12 7zM2147 824l12-6-12-11-12 7zM2171 828l12-6-12-11-12 7zM2183 822l12-7-12-10-12 6zM2206 826l12-6-12-11-11 6zM2218 820l12-6-12-11-12 6zM2254 819l12-6-12-11-12 6zM2266 813l12-5-12-11-12 5zM2301 814l12-6-12-11-12 5zM2313 808l12-5-12-12-12 6zM2325 803l12-5-12-12-12 5zM2360 804l12-5-11-11-12 5zM2372 799l12-5-11-11-12 5zM2384 794l12-4-11-12-12 5zM2396 790l12-5-12-11-11 4zM2443 788l12-4-11-12-12 4zM2455 784l12-4-11-12-12 4zM2467 780l12-4-11-12-12 4zM2479 776l12-4-12-12-11 4zM2491 772l12-3-12-12-12 3zM2503 769l12-4-12-12-12 4zM2515 765l12-3-12-12-12 3zM2527 762l11-4-11-12-12 4zM2538 758l12-3-11-12-12 3zM2550 755l12-3-11-12-12 3zM2562 752l12-3-11-12-12 3zM2574 749l12-3-12-12-11 3zM2586 746l12-3-12-12-12 3zM2598 743l12-2-12-12-12 2zM2610 741l11-3-11-12-12 3zM2621 738l12-2-11-12-12 2zM2633 736l12-3-11-11-12 2zM2645 733l12-2-12-11-11 2zM2657 731l12-2-12-11-12 2zM2669 729l11-2-11-11-12 2zM2680 727l12-1-11-12-12 2zM2704 711l12-2-11-11-12 1zM2716 709l12-1-11-12-12 2zM2728 708l12-2-12-11-11 1zM2752 693l12-1-12-11-11 1zM2764 692l11-1-11-11-12 1zM2775 691l12 0-11-11-12 0zM2787 679l12 0-11-11-12 0zM2799 679l12-1-12-11-11 1z"/><path fill="#68a048" d="M1484 786l11-9-12-1-11 9z"/><path fill="#589840" d="M1460 785l12-9-12 0-12 9z"/><path fill="#487830" d="M1379 791l11-9-12 2-11 9zM1413 772l12-9-12 1-11 9zM1425 763l11-9-11 2-12 8z"/><path fill="#386030" d="M1332 800l12-9-12 3-11 9z"/><path fill="#385828" d="M1309 806l12-9-12 4-11 9zM1332 794l12-9-12 3-11 9zM1321 797l11-9-11 4-12 9zM1344 785l11-9-11 3-12 9zM1367 773l11-8-11 3-12 8zM1355 776l12-8-12 3-11 8zM1378 765l12-9-12 3-11 9zM1390 756l11-8-11 3-12 8zM1413 745l12-8-12 3-12 8zM1401 748l12-8-12 3-11 8zM1425 737l11-8-11 3-12 8zM1436 729l12-8-12 3-11 8zM1448 721l11-8-11 3-12 8z"/><path fill="#305028" d="M1298 810l11-9-11 3-11 9zM1287 813l11-9-11 4-12 9zM1309 801l12-9-12 3-11 9zM1332 788l12-9-12 4-11 9zM1344 779l11-8-11 3-12 9zM1378 759l12-8-12 3-11 8zM1413 740l12-8-12 2-12 9z"/><path fill="#284030" d="M1264 821l11-9-11 4-11 10z"/><path fill="#204030" d="M1253 826l11-10-11 5-12 9z"/><path fill="#182828" d="M1219 840l11-9-11 5-11 9zM1230 831l11-9-11 5-11 9z"/><path fill="#102828" d="M1208 845l11-9-11 6-12 9z"/><path fill="#102020" d="M1196 851l12-9-11 6-12 9zM1219 836l11-9-11 6-11 9zM1230 827l12-8-12 5-11 9zM1253 813l11-8-11 5-11 9z"/><path fill="#081818" d="M1163 869l11-9-11 6-11 9zM1197 848l11-9-11 6-11 9zM1208 839l11-9-11 6-11 9zM1197 845l11-9-11 6-11 9zM1208 836l11-9-11 6-11 9zM1208 833l12-8-11 6-12 9zM1220 825l11-9-11 7-11 8z"/><path fill="#60a898" d="M1993 1045l12-9-12-13-12 9zM2087 1039l12-9-12-13-12 8z"/><path fill="#80b048" d="M1661 810l12-8-12-5-12 9zM1649 806l12-9-12-4-12 9zM1637 802l12-9-12-3-12 9zM1625 799l12-9-12-4-12 9zM1613 795l12-9-12-3-12 9zM1601 792l12-9-12-2-11 8zM1590 789l11-8-12-3-11 9zM1578 787l11-9-11-2-12 9zM1566 785l12-9-12-2-12 9zM1554 783l12-9-12-2-12 9zM1720 821l12-9-12-5-12 9zM1708 816l12-9-12-5-12 9zM1696 811l12-9-12-5-12 9zM1684 806l12-9-12-4-11 9zM1673 802l11-9-12-4-11 8zM1578 776l11-9-12-2-11 9zM1566 774l11-9-11-2-12 9zM1554 772l12-9-12-1-12 8zM1542 770l12-8-12-2-12 9zM1756 824l11-9-11-6-12 9zM1744 818l12-9-12-6-12 9zM1732 812l12-9-12-5-12 9zM1791 827l12-8-12-7-12 9zM1779 821l12-9-12-6-12 9zM1767 815l12-9-12-6-11 9zM1815 826l12-9-12-7-12 9zM1803 819l12-9-12-6-12 8zM1851 831l11-8-11-7-12 8zM1839 824l12-8-12-7-12 8zM1874 830l12-8-12-7-12 8zM1862 823l12-8-12-8-11 9zM1898 830l12-8-12-8-12 8zM1886 822l12-8-12-7-12 8zM1922 830l12-8-12-8-12 8zM1910 822l12-8-12-8-12 8zM1945 830l12-7-12-9-11 8zM1934 822l11-8-11-8-12 8zM1969 831l12-7-12-9-12 8zM1957 823l12-8-12-8-12 7zM1981 824l12-8-12-9-12 8zM2005 825l12-8-12-8-12 7zM2029 827l11-8-11-9-12 7zM2052 829l12-7-12-10-12 7zM2040 819l12-7-12-9-11 7zM2064 822l12-7-12-10-12 7zM2088 824l12-7-12-9-12 7zM2100 817l12-6-12-10-12 7zM2123 821l12-7-11-10-12 7zM2135 814l12-7-12-10-11 7zM2159 818l12-7-12-10-12 6zM2171 811l12-6-12-10-12 6zM2195 815l11-6-11-10-12 6zM2206 809l12-6-11-10-12 6zM2230 814l12-6-12-11-12 6zM2242 808l12-6-12-11-12 6zM2254 802l12-5-12-11-12 5zM2278 808l11-6-11-11-12 6zM2289 802l12-5-11-11-12 5zM2301 797l12-6-11-11-12 6zM2313 791l12-5-11-11-12 5zM2337 798l12-5-12-12-12 5zM2349 793l12-5-12-12-12 5zM2361 788l12-5-12-12-12 5zM2373 783l12-5-12-11-12 4zM2408 785l12-4-12-12-12 5zM2420 781l12-5-12-11-12 4zM2432 776l12-4-12-11-12 4zM2444 772l12-4-12-11-12 4zM2456 768l12-4-12-11-12 4zM2468 764l11-4-11-11-12 4zM2479 760l12-3-11-12-12 4zM2610 726l12-2-12-11-11 2zM2622 724l12-2-12-12-12 3zM2634 722l11-2-11-12-12 2zM2645 720l12-2-11-12-12 2zM2657 718l12-2-11-12-12 2zM2669 716l12-2-12-12-11 2zM2681 714l12-2-12-11-12 1zM2693 712l11-1-11-12-12 2zM2693 699l12-1-12-11-11 1zM2705 698l12-2-12-11-12 2zM2717 696l11-1-11-11-12 1zM2728 695l12-1-11-11-12 1zM2740 694l12-1-11-11-12 1zM2741 682l11-1-11-11-12 1zM2752 681l12-1-11-11-12 1zM2764 680l12 0-12-11-11 0zM2776 680l11-1-11-11-12 1zM2776 668l12 0-12-11-11 1zM2788 668l11-1-11-10-12 0z"/><path fill="#68a040" d="M1495 777l12-9-12-1-12 9z"/><path fill="#689840" d="M1483 776l12-9-12 0-11 9zM1495 767l12-9-12 0-12 9zM1495 758l11-8-11 0-12 8z"/><path fill="#588838" d="M1448 776l12-8-12 0-11 9zM1460 768l11-9-11 0-12 9zM1471 759l12-9-12 1-11 8zM1460 759l11-8-11 1-12 8z"/><path fill="#304828" d="M1298 804l11-9-11 4-11 9z"/><path fill="#284828" d="M1287 808l11-9-11 4-12 9z"/><path fill="#284028" d="M1275 812l12-9-12 5-11 8z"/><path fill="#203828" d="M1264 816l11-8-11 4-11 9zM1253 821l11-9-11 5-12 9zM1275 808l12-9-12 4-11 9z"/><path fill="#183028" d="M1241 826l12-9-12 5-11 9z"/><path fill="#88b048" d="M1661 797l11-8-12-4-11 8zM1649 793l11-8-11-4-12 9zM1637 790l12-9-12-3-12 8zM1625 786l12-8-12-3-12 8zM1613 783l12-8-12-3-12 9zM1601 781l12-9-12-3-12 9zM1589 778l12-9-12-2-11 9zM1720 807l12-9-12-5-12 9zM1708 802l12-9-12-5-12 9zM1696 797l12-9-12-4-12 9zM1684 793l12-9-12-4-12 9zM1672 789l12-9-12-4-12 9zM1660 785l12-9-12-4-11 9zM1649 781l11-9-12-3-11 9zM1637 778l11-9-11-3-12 9zM1625 775l12-9-12-3-12 9zM1613 772l12-9-12-2-12 8zM1601 769l12-8-12-3-12 9zM1589 767l12-9-12-2-12 9zM1577 765l12-9-12-1-11 8zM1566 763l11-8-12-2-11 9zM1554 762l11-9-11-1-12 8zM1756 809l11-9-12-5-11 8zM1744 803l11-8-11-5-12 8zM1732 798l12-8-12-5-12 8zM1565 753l12-8-12-2-11 9zM1791 812l12-8-12-6-12 8zM1779 806l12-8-12-6-12 8zM1767 800l12-8-12-6-12 9zM1827 817l12-8-12-7-12 8zM1815 810l12-8-12-6-12 8zM1803 804l12-8-12-6-12 8zM1851 816l11-9-12-6-11 8zM1839 809l11-8-12-7-11 8zM1874 815l12-8-12-8-12 8zM1862 807l12-8-12-7-12 9zM1898 814l12-8-12-7-12 8zM1922 814l12-8-12-8-12 8zM1945 814l12-7-12-9-11 8zM1969 815l12-8-12-8-12 8zM1993 816l12-7-12-9-12 7zM2017 817l12-7-12-9-12 8zM2005 809l12-8-12-8-12 7zM2029 810l11-7-11-9-12 7zM2052 812l12-7-12-9-12 7zM2076 815l12-7-12-10-12 7zM2064 805l12-7-12-9-12 7zM2088 808l12-7-12-10-12 7zM2112 811l12-7-12-10-12 7zM2124 804l11-7-11-9-12 6zM2147 807l12-6-12-10-12 6zM2159 801l12-6-12-10-12 6zM2183 805l12-6-12-11-12 7zM2195 799l12-6-12-11-12 6zM2218 803l12-6-11-10-12 6zM2230 797l12-6-12-10-11 6zM2242 791l12-5-12-11-12 6zM2266 797l12-6-12-11-12 6zM2278 791l12-5-12-11-12 5zM2290 786l12-6-12-10-12 5zM2302 780l12-5-12-11-12 6zM2325 786l12-5-12-11-11 5zM2337 781l12-5-12-11-12 5zM2349 776l12-5-12-11-12 5zM2361 771l12-4-12-11-12 4zM2385 778l11-4-11-12-12 5zM2396 774l12-5-11-11-12 4zM2408 769l12-4-11-11-12 4zM2420 765l12-4-11-12-12 5zM2432 761l12-4-12-12-11 4zM2444 757l12-4-12-12-12 4zM2456 753l12-4-12-11-12 3zM2491 757l12-4-11-11-12 3zM2503 753l12-3-11-12-12 4zM2515 750l12-4-12-11-11 3zM2527 746l12-3-12-11-12 3zM2539 743l12-3-12-11-12 3zM2551 740l12-3-12-11-12 3zM2563 737l11-3-11-11-12 3zM2574 734l12-3-11-11-12 3zM2586 731l12-2-11-12-12 3zM2598 729l12-3-11-11-12 2zM2622 710l12-2-11-11-12 2zM2634 708l12-2-12-11-11 2zM2646 706l12-2-12-11-12 2zM2658 704l11-2-11-11-12 2zM2669 702l12-1-11-11-12 1zM2681 701l12-2-11-11-12 2zM2693 687l12-2-11-11-12 2zM2705 685l12-1-11-11-12 1zM2717 684l12-1-12-11-11 1zM2729 683l12-1-12-11-12 1zM2741 670l12-1-12-10-12 1zM2753 669l11 0-11-11-12 1zM2764 669l12-1-11-10-12 0zM2765 658l11-1-11-10-12 1zM2776 657l12 0-11-10-12 0z"/><path fill="#70a040" d="M1507 768l11-9-11-1-12 9zM1518 759l12-9-12 0-11 8z"/><path fill="#609040" d="M1472 767l11-9-12 1-11 9z"/><path fill="#406028" d="M1367 780l11-9-11 2-12 9zM1401 760l12-9-12 3-11 8zM1448 733l11-9-11 3-12 8zM1459 724l12-8-12 3-11 8zM1448 727l11-8-11 2-12 8z"/><path fill="#305020" d="M1321 792l11-9-11 3-12 9zM1332 783l12-9-12 4-11 8zM1355 771l12-9-12 4-11 8zM1367 762l11-8-11 3-12 9zM1390 751l11-8-11 3-12 8zM1401 743l12-9-12 4-11 8zM1425 732l11-8-11 2-12 8zM1436 724l12-8-12 3-11 7zM1448 716l11-8-11 3-12 8zM1459 708l12-8-12 3-11 8z"/><path fill="#304820" d="M1309 795l12-9-12 4-11 9zM1344 774l11-8-11 3-12 9zM1378 754l12-8-12 3-11 8zM1390 746l11-8-11 3-12 8zM1413 734l12-8-12 4-12 8zM1425 726l11-7-11 3-12 8zM1436 719l12-8-12 3-11 8zM1448 711l11-8-11 3-12 8z"/><path fill="#284020" d="M1298 799l11-9-11 4-11 9zM1287 803l11-9-11 5-12 9zM1309 790l12-8-11 4-12 8zM1321 782l11-9-11 4-11 9zM1344 769l11-8-11 4-12 8zM1355 761l12-8-12 3-11 9zM1378 749l12-8-12 4-11 8zM1390 741l11-8-11 4-12 8zM1413 730l12-8-12 3-12 8zM1425 722l11-8-11 3-12 8z"/><path fill="#203028" d="M1264 812l11-9-11 5-11 9z"/><path fill="#183020" d="M1253 817l11-9-11 5-12 9zM1275 803l12-8-11 4-12 9z"/><path fill="#182820" d="M1241 822l12-9-11 6-12 8zM1264 808l12-9-12 6-11 8z"/><path fill="#101818" d="M1219 833l11-9-11 6-11 9zM1230 824l12-9-11 6-12 9zM1219 830l12-9-12 6-11 9zM1253 810l11-9-11 6-11 8zM1242 815l11-8-11 6-11 8zM1231 821l11-8-11 6-12 8zM1219 827l12-8-11 6-12 8zM1253 807l12-9-12 6-11 9zM1242 813l11-9-11 6-11 9zM1231 819l11-9-11 6-11 9zM1253 804l12-8-11 6-12 8zM1242 810l12-8-12 6-11 8zM1231 816l11-8-11 6-11 9zM1254 802l11-8-11 6-12 8zM1242 808l12-8-11 6-12 8zM1265 794l11-8-11 6-11 8zM1254 800l11-8-11 6-11 8zM1265 792l12-8-12 6-11 8zM1277 784l11-8-11 6-12 8z"/><path fill="#58a8b0" d="M2052 1065l11-9-11-13-12 9z"/><path fill="#80a848" d="M1542 760l12-8-12-1-12 9zM1554 752l11-9-12-1-11 9z"/><path fill="#78a840" d="M1530 760l12-9-12-1-12 9z"/><path fill="#709840" d="M1507 758l11-8-12 0-11 8zM1518 750l12-9-12 0-12 9zM1506 750l12-9-12 0-11 9z"/><path fill="#609038" d="M1483 758l12-8-12 0-12 9z"/><path fill="#284820" d="M1321 786l11-8-11 4-12 8zM1332 778l12-9-12 4-11 9zM1355 766l12-9-12 4-11 8zM1367 757l11-8-11 4-12 8zM1401 738l12-8-12 3-11 8z"/><path fill="#203820" d="M1298 794l12-8-12 4-11 9zM1287 799l11-9-11 5-12 8z"/><path fill="#102018" d="M1242 819l11-9-11 5-12 9zM1264 805l12-9-12 5-11 9zM1276 796l11-8-11 5-12 8z"/><path fill="#60a860" d="M2005 993l12-9-12-12-12 9zM2134 984l12-8-12-13-11 8z"/><path fill="#90b048" d="M1720 793l12-8-12-5-12 8zM1708 788l12-8-12-5-12 9zM1577 755l12-9-12-1-12 8zM1755 795l12-9-12-5-11 9zM1577 745l12-9-12-1-12 8zM1791 798l12-8-12-6-12 8zM1589 736l12-8-12-1-12 8zM1827 802l11-8-11-7-12 9zM1886 807l12-8-12-8-12 8zM1910 806l12-8-12-7-12 8zM1934 806l11-8-11-7-12 7zM1957 807l12-8-12-8-12 7zM1981 807l12-7-12-8-12 7zM2040 803l12-7-12-9-11 7zM2100 801l12-7-12-9-12 6zM2135 797l12-6-11-10-12 7zM2171 795l12-7-12-10-12 7zM2207 793l12-6-12-11-12 6zM2254 786l12-6-12-10-12 5zM2314 775l11-5-11-11-12 5zM2373 767l12-5-12-11-12 5zM2385 762l12-4-12-11-12 4zM2468 749l12-4-12-11-12 4zM2480 745l12-3-12-12-12 4zM2492 742l12-4-12-11-12 3zM2504 738l11-3-11-11-12 3zM2515 735l12-3-11-12-12 4zM2527 732l12-3-11-12-12 3zM2539 729l12-3-11-12-12 3zM2551 726l12-3-12-11-11 2zM2563 723l12-3-12-11-12 3zM2575 720l12-3-12-11-12 3zM2587 717l12-2-12-11-12 2zM2599 715l11-2-11-12-12 3zM2610 713l12-3-11-11-12 2zM2670 690l12-2-12-11-12 2zM2682 688l11-1-11-11-12 1zM2717 672l12-1-11-10-12 1zM2729 671l12-1-12-10-11 1zM2753 658l12 0-12-10-11 0zM2753 648l12-1-11-10-12 1zM2765 647l12 0-12-10-11 0zM2754 637l11 0-11-10-12 1z"/><path fill="#90b848" d="M1696 784l12-9-12-4-12 9zM1684 780l12-9-12-4-12 9zM1672 776l12-9-12-3-12 8zM1660 772l12-8-12-4-12 9zM1648 769l12-9-12-3-11 9zM1637 766l11-9-12-2-11 8zM1625 763l11-8-11-3-12 9zM1613 761l12-9-12-2-12 8zM1601 758l12-8-12-2-12 8zM1589 756l12-8-12-2-12 9zM1744 790l11-9-12-5-11 9zM1732 785l11-9-12-5-11 9zM1720 780l11-9-11-4-12 8zM1589 746l12-8-12-2-12 9zM1779 792l12-8-12-6-12 8zM1767 786l12-8-12-5-12 8zM1815 796l12-9-12-6-12 9zM1803 790l12-9-12-5-12 8zM1850 801l12-9-12-6-12 8zM1838 794l12-8-12-7-11 8zM1874 799l12-8-12-6-12 7zM1898 799l12-8-12-7-12 7zM1922 798l12-7-12-8-12 8zM1945 798l12-7-12-8-11 8zM1969 799l12-7-12-9-12 8zM1993 800l12-7-12-9-12 8zM2017 801l12-7-12-9-12 8zM2029 794l11-7-11-9-12 7zM2052 796l12-7-12-9-12 7zM2076 798l12-7-12-9-12 7zM2088 791l12-6-12-10-12 7zM2112 794l12-6-12-10-12 7zM2147 791l12-6-12-10-11 6zM2183 788l12-6-12-10-12 6zM2195 782l12-6-12-10-12 6zM2219 787l11-6-11-10-12 5zM2230 781l12-6-11-10-12 6zM2266 780l12-5-12-11-12 6zM2278 775l12-5-12-11-12 5zM2325 770l12-5-11-11-12 5zM2337 765l12-5-11-10-12 4zM2349 760l12-4-11-11-12 5zM2397 758l12-4-12-11-12 4zM2409 754l12-5-12-11-12 5zM2421 749l11-4-11-11-12 4zM2432 745l12-4-11-11-12 4zM2623 697l11-2-11-11-12 2zM2634 695l12-2-11-11-12 2zM2646 693l12-2-11-11-12 2zM2658 691l12-1-12-11-11 1zM2694 674l12-1-12-10-12 1zM2706 673l11-1-11-10-12 1zM2729 660l12-1-11-10-12 1zM2741 659l12-1-11-10-12 1z"/><path fill="#80a840" d="M1542 751l11-9-11 0-12 8zM1553 742l12-8-12-1-11 9z"/><path fill="#78a040" d="M1530 750l12-8-12-1-12 9z"/><path fill="#689038" d="M1495 750l11-9-11 1-12 8zM1506 741l12-8-12 0-11 9z"/><path fill="#608838" d="M1483 750l12-8-12 0-12 9zM1495 742l11-9-11 1-12 8z"/><path fill="#588038" d="M1471 751l12-9-12 1-11 9zM1471 743l12-8-12 1-11 8z"/><path fill="#507830" d="M1448 753l12-9-12 2-12 8zM1460 744l11-8-12 1-11 9zM1471 736l12-8-12 1-12 8z"/><path fill="#305828" d="M1367 768l11-9-11 3-12 9z"/><path fill="#203818" d="M1310 786l11-9-11 5-12 8zM1321 777l11-8-11 4-11 9zM1344 765l11-9-11 5-12 8zM1332 769l12-8-11 4-12 8zM1355 756l12-8-12 4-11 9zM1367 748l11-8-11 4-12 8zM1390 737l12-8-12 4-12 7zM1402 729l11-8-11 4-12 8zM1425 717l11-7-11 3-12 8zM1436 710l12-8-12 4-11 7zM1448 702l12-7-12 4-12 7z"/><path fill="#203018" d="M1298 790l12-8-12 4-11 9zM1310 782l11-9-11 5-12 8zM1321 773l12-8-12 4-11 9zM1344 761l11-9-11 5-11 8zM1355 752l12-8-11 5-12 8zM1378 740l12-7-11 4-12 7zM1390 733l12-8-12 4-11 8zM1413 721l12-8-12 4-11 8zM1425 713l11-7-11 4-12 7zM1460 695l11-7-11 3-12 8zM1471 688l12-7-12 3-11 7z"/><path fill="#183018" d="M1287 795l11-9-11 5-11 8z"/><path fill="#182818" d="M1276 799l11-8-11 5-12 9zM1298 786l12-8-12 5-11 8zM1287 791l11-8-11 5-11 8z"/><path fill="#98b848" d="M1708 775l12-8-12-4-12 8zM1696 771l12-8-12-4-12 8zM1684 767l12-8-12-4-12 9zM1672 764l12-9-12-3-12 8zM1660 760l12-8-12-3-12 8zM1648 757l12-8-12-3-12 9zM1636 755l12-9-12-2-11 8zM1625 752l11-8-12-3-11 9zM1613 750l11-9-11-2-12 9zM1601 748l12-9-12-1-12 8zM1755 781l12-8-12-5-12 8zM1743 776l12-8-12-5-12 8zM1731 771l12-8-12-4-11 8zM1720 767l11-8-12-4-11 8zM1613 739l11-8-12-2-11 9zM1601 738l11-9-11-1-12 8zM1791 784l12-8-12-6-12 8zM1779 778l12-8-12-5-12 8zM1827 787l11-8-12-6-11 8zM1815 781l11-8-11-6-12 9zM1862 792l12-7-12-7-12 8zM1850 786l12-8-12-7-12 8zM1886 791l12-7-12-7-12 8zM1874 785l12-8-12-7-12 8zM1910 791l12-8-12-7-12 8zM1898 784l12-8-12-7-12 8zM1934 791l11-8-12-7-11 7zM1957 791l12-8-12-7-12 7zM1981 792l12-8-12-8-12 7zM2005 793l12-8-12-8-12 7zM1993 784l12-7-12-8-12 7zM2017 785l12-7-12-8-12 7zM2040 787l12-7-12-9-11 7zM2064 789l12-7-12-9-12 7zM2076 782l12-7-12-8-12 6zM2100 785l12-7-12-9-12 6zM2124 788l12-7-12-9-12 6zM2136 781l11-6-11-10-12 7zM2159 785l12-7-12-9-12 6zM2171 778l12-6-12-9-12 6zM2183 772l12-6-12-9-12 6zM2207 776l12-5-12-10-12 5zM2219 771l12-6-12-10-12 6zM2242 775l12-5-11-11-12 6zM2254 770l12-6-11-10-12 5zM2266 764l12-5-12-10-11 5zM2290 770l12-6-12-10-12 5zM2302 764l12-5-12-10-12 5zM2314 759l12-5-12-10-12 5zM2326 754l12-4-12-11-12 5zM2361 756l12-5-12-11-11 5zM2373 751l12-4-12-11-12 4zM2385 747l12-4-12-11-12 4zM2397 743l12-5-12-10-12 4zM2444 741l12-3-11-11-12 3zM2456 738l12-4-11-11-12 4zM2468 734l12-4-11-11-12 4zM2480 730l12-3-12-11-11 3zM2492 727l12-3-12-11-12 3zM2504 724l12-4-12-10-12 3zM2516 720l12-3-12-11-12 4zM2528 717l12-3-12-11-12 3zM2540 714l11-2-11-11-12 2zM2551 712l12-3-11-11-12 3zM2563 709l12-3-11-11-12 3zM2575 706l12-2-11-11-12 2zM2587 704l12-3-12-10-11 2zM2599 701l12-2-12-11-12 3zM2611 699l12-2-12-11-12 2zM2635 682l12-2-12-10-12 2zM2647 680l11-1-11-11-12 2zM2658 679l12-2-11-10-12 1zM2670 677l12-1-11-11-12 2zM2682 676l12-2-12-10-11 1zM2694 663l12-1-12-11-11 1zM2706 662l12-1-12-11-12 1zM2718 661l11-1-11-10-12 0zM2730 649l12-1-12-10-12 1zM2742 648l11 0-11-10-12 0zM2742 638l12-1-12-9-12 0z"/><path fill="#88a840" d="M1565 743l12-8-12-1-12 8zM1565 734l12-8-12-1-12 8zM1577 726l12-8-12-1-12 8z"/><path fill="#80a040" d="M1542 742l11-9-11 0-12 8zM1553 733l12-8-12 0-11 8z"/><path fill="#789840" d="M1530 741l12-8-12 0-12 8zM1542 733l11-8-12 0-11 8z"/><path fill="#709838" d="M1518 741l12-8-12 0-12 8zM1530 733l11-8-11 0-12 8z"/><path fill="#608038" d="M1483 742l12-8-12 1-12 8zM1495 734l11-8-12 1-11 8zM1506 726l12-8-12 0-12 9z"/><path fill="#284018" d="M1332 773l12-8-12 4-11 8zM1367 753l11-8-11 3-12 8zM1401 733l12-8-11 4-12 8zM1436 714l12-8-12 4-11 7zM1448 706l11-7-11 3-12 8z"/><path fill="#101810" d="M1264 801l12-8-11 5-12 9zM1287 788l12-9-12 6-11 8zM1276 793l11-8-11 5-11 8zM1265 798l11-8-11 6-12 8zM1299 779l11-8-11 5-12 9zM1287 785l12-9-12 6-11 8zM1276 790l11-8-11 6-11 8zM1265 796l11-8-11 6-11 8zM1321 766l12-8-12 5-11 8zM1310 771l11-8-11 5-11 8zM1299 776l11-8-11 6-12 8zM1287 782l12-8-11 6-12 8zM1276 788l12-8-12 6-11 8zM1310 768l12-7-12 5-11 8zM1299 774l11-8-11 6-11 8zM1288 780l11-8-11 6-12 8zM1276 786l12-8-11 6-12 8zM1356 745l11-7-11 4-12 8zM1322 761l11-8-11 5-12 8zM1310 766l12-8-11 6-12 8zM1299 772l12-8-12 6-11 8zM1288 778l11-8-11 6-11 8zM1322 758l11-7-11 5-11 8zM1311 764l11-8-11 6-12 8zM1299 770l12-8-12 6-11 8zM1288 776l11-8-11 7-11 7zM1322 756l11-7-11 6-11 7zM1311 762l11-7-11 6-12 7zM1299 768l12-7-11 6-12 8zM1333 749l12-8-11 6-12 8zM1322 755l12-8-12 6-11 8zM1311 761l11-8-11 7-11 7zM1334 747l11-7-11 6-12 7zM1322 753l12-7-11 7-12 7zM1345 740l12-7-12 6-11 7zM1334 746l11-7-11 6-11 8zM1345 739l12-7-11 6-12 7zM1357 732l12-7-12 6-11 7z"/><path fill="#a0b848" d="M1708 763l11-8-12-4-11 8zM1696 759l11-8-11-4-12 8zM1684 755l12-8-12-3-12 8zM1672 752l12-8-12-3-12 8zM1660 749l12-8-12-3-12 8zM1648 746l12-8-12-3-12 9zM1636 744l12-9-12-2-12 8zM1624 741l12-8-12-2-11 8zM1767 773l12-8-12-5-12 8zM1755 768l12-8-12-5-12 8zM1743 763l12-8-12-4-12 8zM1612 729l12-8-12-1-11 8zM1803 776l12-9-12-5-12 8zM1791 770l12-8-12-5-12 8zM1624 721l12-8-12-1-12 8zM1838 779l12-8-12-6-12 8zM1826 773l12-8-12-5-11 7zM1862 778l12-8-12-6-12 7zM1886 777l12-8-12-7-12 8zM1922 783l11-7-11-8-12 8zM1910 776l12-8-12-6-12 7zM1945 783l12-7-12-8-12 8zM1969 783l12-7-12-8-12 8zM1981 776l12-7-12-8-12 7zM2005 777l12-7-12-8-12 7zM2029 778l11-7-11-8-12 7zM2052 780l12-7-12-8-12 6zM2088 775l12-6-12-9-12 7zM2112 778l12-6-12-9-12 6zM2124 772l12-7-12-9-12 7zM2147 775l12-6-11-10-12 6zM2159 769l12-6-12-10-11 6zM2195 766l12-5-12-10-12 6zM2231 765l12-6-12-9-12 5zM2243 759l12-5-12-10-12 6zM2278 759l12-5-12-10-12 5zM2290 754l12-5-12-10-12 5zM2338 750l12-5-12-10-12 4zM2350 745l11-5-11-10-12 5zM2361 740l12-4-11-10-12 4zM2409 738l12-4-12-10-12 4zM2421 734l12-4-12-10-12 4zM2433 730l12-3-12-11-12 4zM2445 727l12-4-12-11-12 4zM2457 723l12-4-12-10-12 3zM2469 719l11-3-11-11-12 4zM2480 716l12-3-11-11-12 3zM2552 698l12-3-12-10-12 2zM2564 695l12-2-12-11-12 3zM2576 693l11-2-11-11-12 2zM2587 691l12-3-11-10-12 2zM2599 688l12-2-11-10-12 2zM2611 686l12-2-12-10-11 2zM2623 684l12-2-12-10-12 2zM2659 667l12-2-12-10-12 1zM2671 665l11-1-11-10-12 1zM2682 664l12-1-11-11-12 2zM2694 651l12-1-11-10-12 1zM2706 650l12 0-11-10-12 0zM2718 650l12-1-12-10-11 1zM2718 639l12-1-11-9-12 0zM2730 638l12 0-12-10-11 1zM2719 629l11-1-11-9-12 0zM2730 628l12 0-11-10-12 1z"/><path fill="#90a840" d="M1577 735l12-8-12-1-12 8zM1589 718l11-8-12-1-11 8zM1600 710l12-8-12-1-12 8z"/><path fill="#709038" d="M1518 733l12-8-12 0-12 8zM1530 725l11-8-11 0-12 8zM1541 717l12-8-12 0-11 8z"/><path fill="#688838" d="M1506 733l12-8-12 1-11 8zM1518 725l12-8-12 1-12 8z"/><path fill="#588030" d="M1483 735l11-8-11 1-12 8zM1494 727l12-9-12 2-11 8z"/><path fill="#486830" d="M1448 739l11-8-11 2-12 8zM1459 731l12-8-12 1-11 9z"/><path fill="#406828" d="M1436 741l12-8-12 2-11 8z"/><path fill="#182810" d="M1310 778l11-9-11 5-12 9zM1333 765l11-8-11 4-12 8zM1321 769l12-8-12 5-11 8zM1344 757l12-8-12 4-11 8zM1356 749l11-8-11 4-12 8zM1379 737l11-8-11 4-12 8zM1390 729l12-8-12 5-11 7zM1413 717l12-7-12 4-11 7zM1425 710l11-8-11 4-12 8zM1448 699l12-8-12 4-12 7zM1436 702l12-7-11 4-12 7zM1460 691l11-7-11 4-12 7zM1471 684l12-7-12 4-11 7z"/><path fill="#102010" d="M1298 783l12-9-11 5-12 9zM1310 774l11-8-11 5-11 8zM1344 753l12-8-12 5-11 8zM1379 733l11-7-11 4-12 8zM1390 726l12-8-12 5-11 7zM1413 714l12-8-12 5-11 7zM1425 706l12-7-12 4-12 8zM1460 688l11-7-11 4-12 7z"/><path fill="#a0c048" d="M1731 759l12-8-12-5-12 9zM1719 755l12-9-12-3-12 8zM1636 733l12-8-12-2-12 8zM1624 731l12-8-12-2-12 8zM1779 765l12-8-12-5-12 8zM1815 767l11-7-12-6-11 8zM1850 771l12-7-12-6-12 7zM1933 776l12-8-12-7-11 7zM1957 776l12-8-12-7-12 7zM2064 773l12-6-12-9-12 7zM2100 769l12-6-12-9-12 6zM2207 761l12-6-12-10-12 6zM2255 754l11-5-11-10-12 5zM2302 749l12-5-12-10-12 5zM2373 736l12-4-11-11-12 5zM2492 713l12-3-11-11-12 3zM2504 710l12-4-11-10-12 3zM2516 706l12-3-12-10-11 3zM2528 703l12-2-12-11-12 3zM2540 701l12-3-12-11-12 3zM2635 670l12-2-12-10-11 2zM2647 668l12-1-12-11-12 2zM2683 652l11-1-11-10-12 2z"/><path fill="#a8c048" d="M1707 751l12-8-12-4-11 8zM1696 747l11-8-12-3-11 8zM1684 744l11-8-11-3-12 8zM1672 741l12-8-12-3-12 8zM1660 738l12-8-12-3-12 8zM1648 735l12-8-12-2-12 8zM1767 760l12-8-12-5-12 8zM1755 755l12-8-12-4-12 8zM1743 751l12-8-12-5-12 8zM1731 746l12-8-12-3-12 8zM1719 743l12-8-12-4-12 8zM1660 727l11-8-11-2-12 8zM1648 725l12-8-12-2-12 8zM1636 723l12-8-12-2-12 8zM1803 762l11-8-12-5-11 8zM1791 757l11-8-11-5-12 8zM1779 752l12-8-12-5-12 8zM1838 765l12-7-12-6-12 8zM1826 760l12-8-12-6-12 8zM1874 770l12-8-12-6-12 8zM1862 764l12-8-12-6-12 8zM1898 769l12-7-12-7-12 7zM1886 762l12-7-12-6-12 7zM1922 768l11-7-12-7-11 8zM1910 762l11-8-11-6-12 7zM1945 768l12-7-12-7-12 7zM1969 768l12-7-12-7-12 7zM1993 769l12-7-12-8-12 7zM2017 770l12-7-12-8-12 7zM2005 762l12-7-12-8-12 7zM2040 771l12-6-11-9-12 7zM2029 763l12-7-12-8-12 7zM2052 765l12-7-12-8-11 6zM2076 767l12-7-12-8-12 6zM2088 760l12-6-12-9-12 7zM2112 763l12-7-12-9-12 7zM2136 765l12-6-12-9-12 6zM2124 756l12-6-12-9-12 6zM2148 759l11-6-11-9-12 6zM2171 763l12-6-12-10-12 6zM2183 757l12-6-12-9-12 5zM2195 751l12-6-12-9-12 6zM2219 755l12-5-12-10-12 5zM2231 750l12-6-12-9-12 5zM2266 749l12-5-11-10-12 5zM2278 744l12-5-11-10-12 5zM2290 739l12-5-11-10-12 5zM2314 744l12-5-12-10-12 5zM2326 739l12-4-12-11-12 5zM2338 735l12-5-12-10-12 4zM2350 730l12-4-12-10-12 4zM2385 732l12-4-11-11-12 4zM2397 728l12-4-11-11-12 4zM2409 724l12-4-12-11-11 4zM2421 720l12-4-12-10-12 3zM2433 716l12-4-12-10-12 4zM2445 712l12-3-12-11-12 4zM2457 709l12-4-12-10-12 3zM2469 705l12-3-12-10-12 3zM2540 687l12-2-11-11-12 3zM2552 685l12-3-12-10-11 2zM2564 682l12-2-12-10-12 2zM2576 680l12-2-12-11-12 3zM2588 678l12-2-12-11-12 2zM2600 676l11-2-11-11-12 2zM2611 674l12-2-11-11-12 2zM2623 672l12-2-11-10-12 1zM2647 656l12-1-11-10-12 1zM2659 655l12-1-12-10-11 1zM2671 654l12-2-12-9-12 1zM2683 641l12-1-12-9-12 1zM2695 640l12 0-12-10-12 1zM2707 640l11-1-11-10-12 1zM2707 629l12 0-12-10-12 1z"/><path fill="#98b040" d="M1601 728l11-8-12-1-11 8zM1600 719l12-8-12-1-11 8zM1612 711l12-8-12-1-12 8zM2742 628l12-1-12-9-11 0z"/><path fill="#90b040" d="M1589 727l11-8-11-1-12 8z"/><path fill="#88a040" d="M1565 725l12-8-12 0-12 8zM1577 717l11-8-11 0-12 8z"/><path fill="#809840" d="M1553 725l12-8-12-1-12 9z"/><path fill="#789838" d="M1541 725l12-9-12 1-11 8z"/><path fill="#587830" d="M1483 728l11-8-11 1-12 8zM1494 720l12-8-12 1-11 8zM1506 712l12-8-12 1-12 8z"/><path fill="#507030" d="M1471 729l12-8-12 2-12 8zM1483 721l11-8-11 2-12 8zM1494 713l12-8-12 2-11 8z"/><path fill="#b0c048" d="M1707 739l12-8-12-3-12 8zM1695 736l12-8-12-3-11 8zM1684 733l11-8-12-3-11 8zM1672 730l11-8-12-3-11 8zM1767 747l12-8-12-4-12 8zM1755 743l12-8-12-4-12 7zM1743 738l12-7-12-4-12 8zM1731 735l12-8-12-4-12 8zM1660 717l11-8-12-2-11 8zM1648 715l11-8-11-2-12 8zM1814 754l12-8-12-5-12 8zM1802 749l12-8-12-5-11 8zM1850 758l12-8-12-6-12 8zM1838 752l12-8-12-5-12 7zM1874 756l12-7-12-7-12 8zM1898 755l12-7-12-7-12 8zM1933 761l12-7-12-7-12 7zM1921 754l12-7-12-7-11 8zM1957 761l12-7-12-7-12 7zM1981 761l12-7-12-7-12 7zM1993 754l12-7-12-7-12 7zM2017 755l12-7-12-7-12 6zM2041 756l11-6-11-8-12 6zM2064 758l12-6-12-9-12 7zM2076 752l12-7-12-8-12 6zM2100 754l12-7-12-8-12 6zM2136 750l12-6-12-9-12 6zM2159 753l12-6-11-9-12 6zM2171 747l12-5-11-9-12 5zM2207 745l12-5-12-9-12 5zM2219 740l12-5-12-10-12 6zM2243 744l12-5-12-10-12 6zM2255 739l12-5-12-10-12 5zM2267 734l12-5-12-10-12 5zM2302 734l12-5-12-10-11 5zM2314 729l12-5-12-9-12 4zM2362 726l12-5-12-10-12 5zM2374 721l12-4-12-10-12 4zM2386 717l12-4-12-10-12 4zM2398 713l11-4-11-10-12 4zM2481 702l12-3-12-10-12 3zM2493 699l12-3-12-11-12 4zM2505 696l11-3-11-10-12 2zM2516 693l12-3-11-10-12 3zM2528 690l12-3-11-10-12 3zM2588 665l12-2-12-10-12 2zM2600 663l12-2-12-10-12 2zM2612 661l12-1-12-10-12 1zM2624 660l11-2-11-10-12 2zM2635 658l12-2-11-10-12 2zM2648 645l11-1-11-10-12 1zM2659 644l12-1-11-10-12 1zM2671 643l12-2-12-9-11 1zM2683 631l12-1-11-9-12 0zM2695 630l12-1-12-9-11 1zM2695 620l12-1-11-9-12 1z"/><path fill="#a0b040" d="M1612 720l12-8-12-1-12 8zM1624 703l12-8-12-1-12 8zM2731 618l11 0-11-9-12 0z"/><path fill="#809838" d="M1565 717l12-8-12 0-12 7zM1565 709l12-8-12 0-12 8zM1577 701l11-8-11 0-12 8z"/><path fill="#789038" d="M1553 716l12-7-12 0-12 8zM1553 709l12-8-12 0-12 8zM1565 701l12-8-12 0-12 8z"/><path fill="#708838" d="M1530 717l11-8-11 1-12 8zM1541 709l12-8-12 1-11 8z"/><path fill="#688030" d="M1518 718l12-8-12 0-12 8zM1530 710l11-8-12 1-11 7zM1541 702l12-8-12 1-12 8z"/><path fill="#607830" d="M1506 718l12-8-12 2-12 8zM1518 710l11-7-11 1-12 8zM1529 703l12-8-12 1-11 8z"/><path fill="#486828" d="M1471 723l12-8-12 1-12 8zM1483 715l11-8-11 2-12 7z"/><path fill="#283818" d="M1378 745l12-8-12 3-11 8zM1413 725l12-8-12 4-11 8zM1459 699l12-7-11 3-12 7zM1471 692l12-8-12 4-11 7zM1483 684l11-7-11 4-12 7zM1494 677l12-7-11 4-12 7zM1541 654l12-7-12 3-11 7z"/><path fill="#182010" d="M1333 761l11-8-11 5-12 8zM1367 741l12-8-12 5-11 7zM1402 721l11-7-11 4-12 8zM1448 695l12-7-12 4-11 7zM1483 677l12-7-12 4-12 7zM1495 670l11-6-11 4-12 6zM1530 654l11-7-11 4-12 6zM1541 647l12-6-12 3-11 7z"/><path fill="#b0c848" d="M1719 731l12-8-12-3-12 8zM1707 728l12-8-12-3-12 8zM1695 725l12-8-12-3-12 8zM1683 722l12-8-12-3-12 8zM1671 719l12-8-12-2-11 8zM1791 744l11-8-12-5-11 8zM1826 746l12-7-12-6-12 8zM1862 750l12-8-12-5-12 7zM1945 754l12-7-12-7-12 7zM1969 754l12-7-12-7-12 7zM2112 747l12-6-12-8-12 6zM2183 742l12-6-12-9-11 6zM2326 724l12-4-12-10-12 5zM2409 709l12-3-11-11-12 4zM2421 706l12-4-11-10-12 3zM2576 667l12-2-12-10-11 2z"/><path fill="#a8b848" d="M1636 713l12-8-12-1-12 8z"/><path fill="#a0b840" d="M1624 712l12-8-12-1-12 8z"/><path fill="#90a040" d="M1588 709l12-8-12 0-11 8zM1600 701l12-7-12-1-12 8z"/><path fill="#889838" d="M1577 709l11-8-11 0-12 8zM1588 701l12-8-12 0-11 8zM1588 693l12-8-12 1-11 7zM1600 685l12-7-12 0-12 8zM1612 678l12-7-12 0-12 7z"/><path fill="#486028" d="M1471 716l12-7-12 2-12 8zM1483 709l11-8-11 2-12 8zM1494 701l12-8-12 2-11 8zM1506 693l12-7-12 2-12 7zM1518 686l11-7-11 2-12 7z"/><path fill="#405828" d="M1459 719l12-8-12 2-11 8zM1471 711l12-8-12 2-12 8zM1483 703l11-8-11 3-12 7z"/><path fill="#183010" d="M1367 744l12-7-12 4-11 8zM1402 725l11-8-11 4-12 8z"/><path fill="#101808" d="M1333 758l11-8-11 5-12 8zM1321 763l12-8-11 6-12 7zM1344 750l12-8-12 6-11 7zM1333 755l11-7-11 5-11 8zM1367 738l12-8-12 5-11 7zM1356 742l11-7-11 5-12 8zM1344 748l12-8-11 5-12 8zM1333 753l12-8-12 6-11 7zM1379 730l11-7-11 4-12 8zM1367 735l12-8-11 5-12 8zM1356 740l12-8-12 6-11 7zM1345 745l11-7-11 5-12 8zM1333 751l12-8-12 6-11 7zM1402 718l11-7-11 4-12 8zM1390 723l12-8-12 5-11 7zM1379 727l11-7-11 5-11 7zM1368 732l11-7-11 5-12 8zM1356 738l12-8-12 6-11 7zM1345 743l11-7-11 5-12 8zM1413 711l12-8-11 5-12 7zM1402 715l12-7-12 5-12 7zM1390 720l12-7-11 5-12 7zM1379 725l12-7-12 5-11 7zM1368 730l11-7-11 5-12 8zM1356 736l12-8-11 6-12 7zM1345 741l12-7-12 6-11 7zM1437 699l11-7-11 4-12 7zM1425 703l12-7-12 5-11 7zM1414 708l11-7-11 5-12 7zM1402 713l12-7-12 5-11 7zM1391 718l11-7-11 5-12 7zM1379 723l12-7-12 5-11 7zM1368 728l11-7-11 6-11 7zM1357 734l11-7-11 6-12 7zM1448 692l12-7-12 4-11 7zM1437 696l11-7-11 5-12 7zM1425 701l12-7-12 5-11 7zM1414 706l11-7-11 5-12 7zM1402 711l12-7-12 5-11 7zM1391 716l11-7-11 5-12 7zM1379 721l12-7-11 6-12 7zM1368 727l12-7-12 6-11 7zM1357 733l11-7-11 6-12 7zM1471 681l12-7-12 4-11 7zM1460 685l11-7-11 5-12 6zM1448 689l12-6-12 4-11 7zM1437 694l11-7-11 5-12 7zM1425 699l12-7-12 5-11 7zM1414 704l11-7-11 5-12 7zM1402 709l12-7-11 5-12 7zM1391 714l12-7-12 6-11 7zM1380 720l11-7-11 6-12 7zM1368 726l12-7-11 6-12 7zM1483 674l12-6-12 4-12 6zM1471 678l12-6-11 4-12 7zM1460 683l12-7-12 4-12 7zM1448 687l12-7-11 5-12 7zM1437 692l12-7-12 5-12 7zM1425 697l12-7-11 5-12 7zM1414 702l12-7-12 6-11 6zM1403 707l11-6-11 5-12 7zM1391 713l12-7-12 6-11 7zM1380 719l11-7-11 6-11 7zM1369 725l11-7-11 7-12 6zM1495 668l11-7-11 4-12 7zM1483 672l12-7-12 4-11 7zM1472 676l11-7-11 5-12 6zM1460 680l12-6-12 4-11 7zM1449 685l11-7-11 5-12 7zM1437 690l12-7-12 6-11 6zM1426 695l11-6-11 5-12 7zM1414 701l12-7-12 6-11 6zM1403 706l11-6-11 6-12 6zM1391 712l12-6-11 6-12 6zM1380 718l12-6-12 6-11 7zM1518 657l12-6-12 4-12 6zM1506 661l12-6-11 4-12 6zM1495 665l12-6-12 4-12 6zM1483 669l12-6-12 4-11 7zM1472 674l11-7-11 5-12 6zM1460 678l12-6-12 5-11 6zM1449 683l11-6-11 5-12 7zM1437 689l12-7-12 6-11 6zM1426 694l11-6-11 5-12 7zM1414 700l12-7-11 6-12 7zM1403 706l12-7-12 6-11 7zM1392 712l11-7-11 6-12 7zM1530 651l11-7-11 4-12 7zM1518 655l12-7-12 4-11 7zM1507 659l11-7-11 4-12 7zM1495 663l12-7-12 5-12 6zM1483 667l12-6-11 5-12 6zM1472 672l12-6-12 5-12 6zM1460 677l12-6-11 5-12 6zM1449 682l12-6-12 5-12 7zM1437 688l12-7-11 6-12 6zM1426 693l12-6-12 6-11 6zM1415 699l11-6-11 6-12 6zM1541 644l12-6-11 4-12 6zM1530 648l12-6-12 4-12 6zM1518 652l12-6-12 4-11 6zM1507 656l11-6-11 5-12 6zM1495 661l12-6-12 4-11 7zM1484 666l11-7-11 5-12 7zM1472 671l12-7-12 6-11 6zM1461 676l11-6-11 5-12 6zM1449 681l12-6-12 6-11 6zM1438 687l11-6-11 5-12 7zM1426 693l12-7-12 6-11 7zM1542 642l11-6-11 4-12 6zM1530 646l12-6-12 4-12 6zM1518 650l12-6-12 5-11 6zM1507 655l11-6-11 4-12 6zM1495 659l12-6-12 5-11 6zM1484 664l11-6-11 5-12 7zM1472 670l12-7-12 6-11 6zM1461 675l11-6-11 5-12 7zM1449 681l12-7-11 6-12 6zM1553 636l12-6-12 4-11 6zM1542 640l11-6-11 4-12 6zM1530 644l12-6-12 5-12 6zM1518 649l12-6-11 4-12 6zM1507 653l12-6-12 5-12 6zM1495 658l12-6-11 5-12 6zM1484 663l12-6-12 6-12 6zM1472 669l12-6-11 5-12 6zM1461 674l12-6-12 6-11 6zM1553 634l12-6-11 4-12 6zM1542 638l12-6-12 5-12 6zM1530 643l12-6-12 4-11 6zM1519 647l11-6-11 5-12 6zM1507 652l12-6-12 6-11 5zM1496 657l11-5-11 5-12 6zM1484 663l12-6-12 6-11 5zM1565 628l12-6-12 5-11 5zM1554 632l11-5-11 4-12 6zM1542 637l12-6-12 5-12 5zM1530 641l12-5-11 5-12 5zM1519 646l12-5-12 5-12 6zM1507 652l12-6-12 5-11 6zM1496 657l11-6-11 6-12 6zM1565 627l12-6-12 4-11 6zM1554 631l11-6-11 5-12 6zM1542 636l12-6-12 5-11 6zM1531 641l11-6-11 5-12 6zM1519 646l12-6-12 6-12 5zM1577 621l12-5-12 4-12 5zM1565 625l12-5-11 5-12 5zM1554 630l12-5-12 5-12 5zM1542 635l12-5-12 5-11 5zM1531 640l11-5-11 5-12 6zM1577 620l12-5-12 4-11 6zM1566 625l11-6-11 5-12 6zM1554 630l12-6-12 5-12 6zM1589 615l12-6-12 5-12 5zM1577 619l12-5-11 5-12 5zM1566 624l12-5-12 5-12 5zM1589 614l12-5-12 5-11 5zM1601 609l12-5-12 5-12 5z"/><path fill="#b8c848" d="M1779 739l11-8-11-4-12 8zM1767 735l12-8-12-4-12 8zM1755 731l12-8-12-4-12 8zM1743 727l12-8-12-4-12 8zM1683 711l12-7-12-3-12 8zM1671 709l12-8-12-2-12 8zM1814 741l12-8-12-5-12 8zM1802 736l12-8-12-4-12 7zM1850 744l12-7-12-6-12 8zM1886 749l12-8-12-6-12 7zM1874 742l12-7-12-6-12 8zM1910 748l11-8-11-6-12 7zM1933 747l12-7-12-7-12 7zM1957 747l12-7-12-7-12 7zM1981 747l12-7-12-7-12 7zM2005 747l12-6-12-8-12 7zM2029 748l12-6-12-8-12 7zM2052 750l12-7-12-8-11 7zM2064 743l12-6-12-8-12 6zM2088 745l12-6-12-8-12 6zM2124 741l12-6-12-8-12 6zM2148 744l12-6-12-9-12 6zM2160 738l12-5-12-9-12 5zM2195 736l12-5-12-10-12 6zM2231 735l12-6-12-9-12 5zM2243 729l12-5-12-9-12 5zM2279 729l12-5-12-10-12 5zM2291 724l11-5-11-9-12 4zM2302 719l12-4-11-10-12 5zM2338 720l12-4-12-10-12 4zM2350 716l12-5-12-10-12 5zM2362 711l12-4-12-10-12 4zM2433 702l12-4-11-10-12 4zM2445 698l12-3-11-10-12 3zM2457 695l12-3-12-10-11 3zM2469 692l12-3-12-11-12 4zM2481 689l12-4-12-10-12 3zM2493 685l12-2-12-11-12 3zM2505 683l12-3-12-10-12 2zM2517 680l12-3-12-10-12 3zM2529 677l12-3-12-10-12 3zM2541 674l11-2-11-10-12 2zM2552 672l12-2-11-10-12 2zM2564 670l12-3-11-10-12 3zM2600 651l12-1-12-10-11 2zM2612 650l12-2-12-10-12 2zM2624 648l12-2-12-9-12 1zM2636 646l12-1-12-10-12 2zM2660 633l11-1-11-10-12 1zM2671 632l12-1-11-10-12 1zM2672 621l12 0-12-10-12 1z"/><path fill="#c0c848" d="M1731 723l12-8-12-3-12 8zM1719 720l12-8-12-3-12 8zM1707 717l12-8-12-3-12 8zM1695 714l12-8-12-2-12 7zM1790 731l12-7-12-5-11 8zM1779 727l11-8-12-4-11 8zM1767 723l11-8-12-4-11 8zM1683 701l12-7-12-2-12 7zM1838 739l12-8-12-5-12 7zM1826 733l12-7-12-5-12 7zM1814 728l12-7-12-5-12 8zM1683 692l12-8-12-1-12 7zM1862 737l12-8-12-5-12 7zM1898 741l12-7-12-6-12 7zM1886 735l12-7-12-6-12 7zM1921 740l12-7-12-6-11 7zM1945 740l12-7-12-7-12 7zM1969 740l12-7-12-7-12 7zM1993 740l12-7-12-7-12 7zM2017 741l12-7-12-7-12 6zM2041 742l11-7-11-7-12 6zM2076 737l12-6-12-8-12 6zM2100 739l12-6-12-8-12 6zM2112 733l12-6-12-8-12 6zM2136 735l12-6-12-8-12 6zM2172 733l11-6-11-9-12 6zM2183 727l12-6-11-8-12 5zM2207 731l12-6-12-9-12 5zM2219 725l12-5-12-9-12 5zM2255 724l12-5-12-9-12 5zM2267 719l12-5-12-9-12 5zM2314 715l12-5-11-10-12 5zM2326 710l12-4-11-10-12 4zM2374 707l12-4-12-10-12 4zM2386 703l12-4-12-10-12 4zM2398 699l12-4-12-9-12 3zM2410 695l12-3-12-10-12 4zM2422 692l12-4-12-10-12 4zM2434 688l12-3-12-10-12 3zM2541 662l12-2-12-10-12 2zM2553 660l12-3-12-9-12 2zM2565 657l11-2-11-9-12 2zM2576 655l12-2-11-9-12 2zM2588 653l12-2-11-9-12 2zM2624 637l12-2-12-9-11 1zM2636 635l12-1-12-9-12 1zM2648 634l12-1-12-10-12 2zM2660 622l12-1-12-9-12 1z"/><path fill="#b8c048" d="M1659 707l12-8-12-1-11 7zM1671 699l12-7-12-2-12 8zM2684 621l11-1-11-9-12 0z"/><path fill="#b0b848" d="M1648 705l11-7-11-2-12 8z"/><path fill="#a8b840" d="M1636 704l12-8-12-1-12 8zM2707 619l12 0-12-9-11 0zM2719 619l12-1-12-9-12 1zM2707 610l12-1-11-9-12 1z"/><path fill="#98a840" d="M1612 702l12-8-12 0-12 7z"/><path fill="#708830" d="M1553 701l12-8-12 1-12 8z"/><path fill="#587030" d="M1518 704l11-8-11 1-12 8z"/><path fill="#587028" d="M1506 705l12-8-12 2-12 8zM1518 697l11-7-11 1-12 8z"/><path fill="#506828" d="M1494 707l12-8-12 2-11 8zM1506 699l12-8-12 2-12 8zM1518 691l11-7-11 2-12 7z"/><path fill="#385820" d="M1459 713l12-8-12 3-11 8z"/><path fill="#c8c848" d="M1755 719l11-8-11-3-12 7zM1743 715l12-7-12-4-12 8zM1707 706l12-7-12-3-12 8zM1695 704l12-8-12-2-12 7zM1695 694l12-8-12-2-12 8zM1850 731l12-7-12-5-12 7zM1910 734l11-7-12-6-11 7zM2052 735l12-6-12-8-11 7zM2148 729l12-5-12-9-12 6zM2231 720l12-5-12-9-12 5zM2279 714l12-4-12-10-12 5zM2338 706l12-5-11-9-12 4zM2446 685l11-3-11-10-12 3zM2457 682l12-4-11-9-12 3zM2469 678l12-3-11-9-12 3zM2481 675l12-3-11-9-12 3zM2493 672l12-2-12-10-11 3zM2505 670l12-3-12-10-12 3zM2517 667l12-3-12-9-12 2zM2529 664l12-2-12-10-12 3zM2612 638l12-1-11-10-12 2zM2648 613l12-1-11-9-12 1zM2660 612l12-1-12-8-11 0z"/><path fill="#c8d048" d="M1731 712l12-8-12-3-12 8zM1719 709l12-8-12-2-12 7zM1802 724l12-8-12-4-12 7zM1790 719l12-7-12-4-12 7zM1778 715l12-7-12-4-12 7zM1838 726l12-7-12-5-12 7zM1874 729l12-7-12-5-12 7zM1898 728l11-7-11-6-12 7zM1933 733l12-7-12-6-12 7zM1957 733l12-7-12-7-12 7zM1981 733l12-7-12-7-12 7zM2005 733l12-6-12-8-12 7zM2029 734l12-6-12-8-12 7zM2064 729l12-6-12-8-12 6zM2088 731l12-6-12-8-12 6zM2124 727l12-6-12-8-12 6zM2160 724l12-6-12-8-12 5zM2195 721l12-5-11-9-12 6zM2243 715l12-5-12-9-12 5zM2291 710l12-5-12-9-12 4zM2303 705l12-5-12-9-12 5zM2350 701l12-4-12-9-11 4zM2362 697l12-4-12-9-12 4zM2374 693l12-4-12-9-12 4zM2577 644l12-2-12-10-12 2zM2589 642l11-2-11-9-12 1zM2600 640l12-2-11-9-12 2zM2636 625l12-2-11-9-12 2zM2648 623l12-1-12-9-11 1z"/><path fill="#b8c040" d="M1659 698l12-8-12-1-11 7zM1671 690l12-7-12-2-12 8zM2684 611l12-1-12-9-12 1z"/><path fill="#b0b840" d="M1648 696l11-7-12-1-11 7zM1659 689l12-8-12-1-12 8zM2696 610l11 0-11-9-12 0zM2696 601l12-1-12-8-12 0z"/><path fill="#a8b040" d="M1636 695l11-7-11-1-12 7zM1647 688l12-8-12-1-11 8zM2719 609l12 0-12-9-11 0z"/><path fill="#a0a840" d="M1624 694l12-7-12-1-12 8zM1636 687l11-8-12 0-11 7z"/><path fill="#90a038" d="M1612 694l12-8-12 0-12 7zM1600 693l12-7-12-1-12 8zM1612 686l12-8-12 0-12 7z"/><path fill="#809038" d="M1577 693l11-7-12 0-11 7zM1588 686l12-8-12 0-12 8zM1600 678l12-7-12 0-12 7z"/><path fill="#788830" d="M1565 693l11-7-11 1-12 7zM1576 686l12-8-12 1-11 8zM1588 678l12-7-12 1-12 7z"/><path fill="#708030" d="M1553 694l12-7-12 0-12 8zM1565 687l11-8-11 1-12 7zM1576 679l12-7-12 1-11 7zM1588 672l12-7-12 0-12 8z"/><path fill="#687830" d="M1541 695l12-8-12 1-12 8zM1553 687l12-7-12 1-12 7zM1565 680l11-7-11 1-12 7zM1576 673l12-8-12 2-11 7z"/><path fill="#607030" d="M1529 696l12-8-12 2-11 7z"/><path fill="#385020" d="M1471 705l12-7-12 2-12 8zM1483 698l11-8-11 3-12 7zM1494 690l12-7-12 3-11 7z"/><path fill="#d0d048" d="M1766 711l12-7-12-4-11 8zM1755 708l11-8-12-3-11 7zM1743 704l11-7-11-3-12 7zM1731 701l12-7-12-3-12 8zM1719 699l12-8-12-2-12 7zM1707 696l12-7-12-3-12 8zM1826 721l12-7-12-5-12 7zM1814 716l12-7-12-4-12 7zM1802 712l12-7-12-5-12 8zM1790 708l12-8-12-3-12 7zM1778 704l12-7-12-4-12 7zM1862 724l12-7-12-6-12 8zM1850 719l12-8-12-5-12 8zM1838 714l12-8-12-4-12 7zM1886 722l12-7-12-6-12 8zM1874 717l12-8-12-5-12 7zM1921 727l12-7-12-6-12 7zM1909 721l12-7-12-6-11 7zM1945 726l12-7-12-6-12 7zM1933 720l12-7-12-6-12 7zM1969 726l12-7-12-6-12 6zM1993 726l12-7-12-6-12 6zM2017 727l12-7-12-7-12 6zM2041 728l11-7-11-7-12 6zM2029 720l12-6-12-7-12 6zM2052 721l12-6-11-7-12 6zM2076 723l12-6-12-8-12 6zM2100 725l12-6-12-8-12 6zM2112 719l12-6-12-8-12 6zM2136 721l12-6-12-8-12 6zM2148 715l12-5-12-9-12 6zM2172 718l12-5-12-9-12 6zM2184 713l12-6-12-8-12 5zM2207 716l12-5-12-9-11 5zM2219 711l12-5-12-9-12 5zM2231 706l12-5-12-9-12 5zM2255 710l12-5-12-9-12 5zM2267 705l12-5-12-9-12 5zM2279 700l12-4-12-9-12 4zM2315 700l12-4-12-9-12 4zM2327 696l12-4-12-9-12 4zM2339 692l11-4-11-10-12 5zM2350 688l12-4-11-10-12 4zM2386 689l12-3-12-10-12 4zM2398 686l12-4-12-10-12 4zM2410 682l12-4-12-9-12 3zM2422 678l12-3-12-9-12 3zM2434 675l12-3-12-10-12 4zM2446 672l12-3-12-10-12 3zM2458 669l12-3-12-10-12 3zM2470 666l12-3-12-10-12 3zM2482 663l11-3-11-10-12 3zM2493 660l12-3-11-9-12 2zM2505 657l12-2-11-10-12 3zM2517 655l12-3-11-9-12 2zM2529 652l12-2-12-10-11 3zM2541 650l12-2-12-10-12 2zM2553 648l12-2-12-10-12 2zM2565 646l12-2-12-10-12 2zM2589 631l12-2-12-9-12 1zM2601 629l12-2-12-9-12 2zM2613 627l11-1-11-9-12 1zM2624 626l12-1-11-9-12 1zM2625 616l12-2-12-9-12 2zM2637 614l11-1-11-9-12 1z"/><path fill="#98a038" d="M1624 686l11-7-11-1-12 8zM1624 678l11-7-11 0-12 7zM1635 671l12-7-12 0-11 7z"/><path fill="#607028" d="M1541 688l12-7-12 1-12 8zM1553 681l12-7-12 1-12 7zM1565 674l11-7-11 1-12 7z"/><path fill="#586828" d="M1529 690l12-8-12 2-11 7zM1541 682l12-7-12 2-12 7zM1553 675l12-7-12 2-12 7z"/><path fill="#405820" d="M1494 695l12-7-12 2-11 8zM1506 688l12-7-12 2-12 7zM1518 681l11-7-11 2-12 7z"/><path fill="#384820" d="M1471 700l12-7-12 3-12 7zM1483 693l11-7-11 3-12 7zM1494 686l12-7-12 2-11 8z"/><path fill="#304020" d="M1459 703l12-7-12 3-11 7z"/><path fill="#d8d048" d="M1766 700l12-7-12-3-12 7zM1754 697l12-7-12-3-11 7zM1743 694l11-7-12-3-11 7zM1731 691l11-7-12-3-11 8zM1719 689l11-8-11-2-12 7zM1826 709l12-7-12-5-12 8zM1814 705l12-8-12-4-12 7zM1802 700l12-7-12-4-12 8zM1790 697l12-8-12-3-12 7zM1862 711l12-7-12-5-12 7zM1850 706l12-7-12-4-12 7zM1898 715l11-7-12-5-11 6zM1886 709l11-6-12-6-11 7zM1921 714l12-7-12-6-12 7zM1957 719l12-6-12-7-12 7zM1945 713l12-7-12-6-12 7zM1981 719l12-6-12-7-12 7zM1969 713l12-7-12-6-12 6zM2005 719l12-6-12-7-12 7zM1993 713l12-7-12-6-12 6zM2017 713l12-6-12-7-12 6zM2041 714l12-6-12-8-12 7zM2064 715l12-6-12-8-11 7zM2088 717l12-6-12-8-12 6zM2100 711l12-6-12-8-12 6zM2124 713l12-6-12-8-12 6zM2136 707l12-6-12-8-12 6zM2160 710l12-6-12-8-12 5zM2172 704l12-5-12-8-12 5zM2196 707l11-5-11-8-12 5zM2207 702l12-5-11-8-12 5zM2243 701l12-5-12-9-12 5zM2255 696l12-5-12-9-12 5zM2291 696l12-5-12-9-12 5zM2303 691l12-4-12-9-12 4zM2315 687l12-4-12-9-12 4zM2362 684l12-4-11-9-12 3zM2374 680l12-4-11-9-12 4zM2386 676l12-4-11-9-12 4zM2398 672l12-3-11-9-12 3zM2410 669l12-3-12-10-11 4zM2422 666l12-4-12-9-12 3zM2434 662l12-3-12-9-12 3zM2494 648l12-3-12-9-12 3zM2506 645l12-2-12-9-12 2zM2518 643l11-3-11-9-12 3zM2529 640l12-2-11-9-12 2zM2541 638l12-2-11-9-12 2zM2553 636l12-2-11-9-12 2zM2565 634l12-2-12-9-11 2zM2577 632l12-1-12-10-12 2zM2589 620l12-2-12-9-11 2zM2601 618l12-1-12-9-12 1zM2613 617l12-1-12-9-12 1z"/><path fill="#d0c848" d="M1707 686l12-7-12-2-12 7z"/><path fill="#c8c840" d="M1695 684l12-7-12-2-12 8zM1707 677l11-7-11-2-12 7zM2649 603l11 0-11-9-12 1z"/><path fill="#c0c040" d="M1683 683l12-8-12-1-12 7zM2672 602l12-1-12-8-11 0zM2661 593l11 0-11-9-12 1z"/><path fill="#b8b840" d="M1671 681l12-7-12-1-12 7zM2684 601l12 0-12-9-12 1zM2684 592l12 0-12-9-11 1z"/><path fill="#b0b040" d="M1659 680l12-7-12-1-12 7zM2708 600l11 0-11-9-12 1zM2696 592l12-1-12-8-12 0z"/><path fill="#a8a840" d="M1647 679l12-7-12-1-12 8z"/><path fill="#a0a838" d="M1635 679l12-8-12 0-11 7zM1647 671l12-7-12 0-12 7z"/><path fill="#506028" d="M1529 684l12-7-12 2-11 7zM1541 677l12-7-12 1-12 8zM1553 670l12-7-12 1-12 7z"/><path fill="#304018" d="M1471 696l12-7-12 3-12 7zM1483 689l11-8-11 3-12 8zM1494 681l12-7-12 3-11 7zM1506 674l12-7-12 3-12 7zM1553 651l12-7-12 3-12 7z"/><path fill="#203010" d="M1436 706l12-7-12 3-11 8zM1483 681l12-7-12 3-12 7z"/><path fill="#e0d048" d="M1778 693l12-7-12-3-12 7zM2076 709l12-6-12-7-12 5zM2327 683l12-5-12-9-12 5zM2446 659l12-3-12-9-12 3zM2482 650l12-2-12-9-12 2z"/><path fill="#e0d848" d="M1766 690l12-7-12-4-12 8zM1754 687l12-8-12-2-12 7zM1742 684l12-7-12-3-12 7zM1838 702l12-7-12-5-12 7zM1826 697l12-7-12-4-12 7zM1874 704l11-7-11-5-12 7zM1909 708l12-7-12-5-12 7zM1933 707l12-7-12-6-12 7zM1957 706l12-6-12-6-12 6zM2029 707l12-7-12-6-12 6zM2053 708l11-7-11-7-12 6zM2112 705l12-6-12-8-12 6zM2148 701l12-5-12-8-12 5zM2184 699l12-5-12-9-12 6zM2219 697l12-5-11-8-12 5zM2231 692l12-5-11-8-12 5zM2267 691l12-4-12-9-12 4zM2279 687l12-5-12-9-12 5zM2339 678l12-4-12-9-12 4zM2351 674l12-3-12-9-12 3zM2458 656l12-3-12-9-12 3zM2470 653l12-3-12-9-12 3zM2565 623l12-2-11-8-12 1zM2577 621l12-1-11-9-12 2z"/><path fill="#d8d040" d="M1730 681l12-7-12-2-11 7zM2613 607l12-2-12-8-12 1zM2625 605l12-1-12-8-12 1z"/><path fill="#d0c840" d="M1719 679l11-7-12-2-11 7zM1718 670l12-7-12-2-11 7zM2637 604l12-1-12-8-12 1zM2637 595l12-1-12-8-12 1z"/><path fill="#c8c040" d="M1695 675l12-7-12-1-12 7zM1707 668l11-7-11-1-12 7zM2660 603l12-1-11-9-12 1zM2649 594l12-1-12-8-12 1z"/><path fill="#c0b840" d="M1683 674l12-7-12-1-12 7zM2672 593l12-1-11-8-12 0z"/><path fill="#b8b040" d="M1671 673l12-7-12-1-12 7z"/><path fill="#a8a838" d="M1659 672l12-7-12-1-12 7zM1659 664l12-7-12 0-12 7zM1671 657l12-7-12 0-12 7z"/><path fill="#909838" d="M1624 671l11-7-11 0-12 7z"/><path fill="#889030" d="M1612 671l12-7-12 0-12 7zM1624 664l11-7-12 0-11 7z"/><path fill="#808830" d="M1600 671l12-7-12 1-12 7zM1612 664l11-7-11 1-12 7zM1623 657l12-7-12 1-11 7z"/><path fill="#485820" d="M1529 679l12-8-12 3-11 7zM1541 671l12-7-12 2-12 8z"/><path fill="#405020" d="M1506 683l12-7-12 3-12 7zM1529 674l12-8-12 3-11 7zM1518 676l11-7-11 2-12 8z"/><path fill="#e0d840" d="M1814 693l12-7-12-4-12 7zM1802 689l12-7-12-3-12 7zM1790 686l12-7-12-4-12 8zM1778 683l12-8-12-3-12 7zM1766 679l12-7-12-2-12 7zM1754 677l12-7-12-3-12 7zM1862 699l12-7-12-4-12 7zM1850 695l12-7-12-5-12 7zM1838 690l12-7-12-4-12 7zM1897 703l12-7-12-5-12 6zM1885 697l12-6-12-5-11 6zM1921 701l12-7-12-5-12 7zM1945 700l12-6-12-6-12 6zM1981 706l12-6-12-7-12 7zM1969 700l12-7-12-6-12 7zM2005 706l12-6-12-7-12 7zM2017 700l12-6-12-7-12 6zM2041 700l12-6-12-6-12 6zM2064 701l12-5-12-8-11 6zM2088 703l12-6-12-7-12 6zM2100 697l12-6-12-7-12 6zM2124 699l12-6-12-7-12 5zM2160 696l12-5-12-8-12 5zM2196 694l12-5-12-9-12 5zM2208 689l12-5-12-9-12 5zM2243 687l12-5-11-8-12 5zM2291 682l12-4-12-9-12 4zM2303 678l12-4-12-9-12 4zM2363 671l12-4-12-9-12 4zM2375 667l12-4-12-9-12 4zM2387 663l12-3-12-9-12 3zM2399 660l11-4-11-9-12 4zM2410 656l12-3-11-9-12 3zM2506 634l12-3-12-9-12 3zM2518 631l12-2-12-9-12 2zM2530 629l12-2-12-9-12 2zM2542 627l12-2-12-9-12 2zM2554 625l11-2-11-9-12 2zM2578 611l11-2-11-8-12 1zM2589 609l12-1-11-9-12 2z"/><path fill="#e0d040" d="M1742 674l12-7-12-2-12 7zM1826 686l12-7-12-4-12 7zM1814 682l12-7-12-3-12 7zM1802 679l12-7-12-3-12 6zM1790 675l12-6-12-3-12 6zM1778 672l12-6-12-3-12 7zM1766 670l12-7-12-3-12 7zM1874 692l11-6-12-5-11 7zM1862 688l11-7-11-4-12 6zM1850 683l12-6-12-5-12 7zM1909 696l12-7-12-5-12 7zM1897 691l12-7-12-5-12 7zM1885 686l12-7-12-5-12 7zM1933 694l12-6-12-6-12 7zM1921 689l12-7-12-5-12 7zM1957 694l12-7-12-6-12 7zM1993 700l12-7-12-6-12 6zM1981 693l12-6-12-6-12 6zM2005 693l12-6-12-6-12 6zM2029 694l12-6-12-7-12 6zM2053 694l11-6-11-6-12 6zM2076 696l12-6-12-7-12 5zM2088 690l12-6-12-7-12 6zM2112 691l12-5-12-8-12 6zM2136 693l12-5-12-8-12 6zM2148 688l12-5-12-8-12 5zM2172 691l12-6-12-8-12 6zM2184 685l12-5-12-8-12 5zM2220 684l12-5-12-8-12 4zM2232 679l12-5-12-8-12 5zM2255 682l12-4-12-9-11 5zM2267 678l12-5-12-8-12 4zM2279 673l12-4-12-8-12 4zM2291 669l12-4-12-9-12 5zM2315 674l12-5-12-8-12 4zM2327 669l12-4-12-8-12 4zM2339 665l12-3-12-9-12 4zM2351 662l12-4-12-9-12 4zM2363 658l12-4-12-8-12 3zM2422 653l12-3-11-9-12 3zM2434 650l12-3-11-9-12 3zM2446 647l12-3-12-9-11 3zM2458 644l12-3-12-9-12 3zM2470 641l12-2-12-9-12 2zM2482 639l12-3-12-9-12 3zM2494 636l12-2-12-9-12 2zM2530 618l12-2-12-8-12 1zM2542 616l12-2-12-8-12 2zM2554 614l12-1-12-9-12 2zM2566 613l12-2-12-9-12 2zM2601 608l12-1-12-9-11 1z"/><path fill="#d8c840" d="M1730 672l12-7-12-2-12 7zM1754 667l12-7-12-2-12 7zM1742 665l12-7-12-2-12 7zM2601 598l12-1-11-8-12 1zM2613 597l12-1-11-8-12 1zM2625 596l12-1-12-8-11 1z"/><path fill="#c0b838" d="M1695 667l12-7-12-1-12 7zM1707 660l11-7-12-1-11 7zM2661 584l12 0-12-8-12 0zM2673 584l11-1-11-8-12 1z"/><path fill="#b8b038" d="M1683 666l12-7-12-1-12 7zM1695 659l11-7-11-1-12 7zM1706 652l12-7-12-1-11 7zM2684 583l12 0-11-8-12 0zM2673 575l12 0-12-8-12 1z"/><path fill="#b0a838" d="M1671 665l12-7-12-1-12 7zM1683 658l12-7-12-1-12 7z"/><path fill="#a0a038" d="M1647 664l12-7-12-1-12 8zM1659 657l12-7-12 0-12 6z"/><path fill="#989838" d="M1635 664l12-8-12 1-11 7z"/><path fill="#788030" d="M1600 665l12-7-12 0-12 7zM1612 658l11-7-11 1-12 6z"/><path fill="#707828" d="M1588 665l12-7-12 2-12 7zM1600 658l12-6-12 1-12 7zM1612 652l11-7-11 1-12 7z"/><path fill="#687028" d="M1576 667l12-7-12 1-11 7zM1588 660l12-7-12 1-12 7zM1600 653l12-7-12 1-12 7zM1612 646l11-7-11 2-12 6zM1623 639l12-6-12 1-11 7z"/><path fill="#606828" d="M1565 668l11-7-11 2-12 7zM1576 661l12-7-12 2-11 7zM1588 654l12-7-12 2-12 7zM1600 647l12-6-12 1-12 7z"/><path fill="#384818" d="M1506 679l12-8-12 3-12 7zM1565 648l11-6-11 2-12 7z"/><path fill="#d0c040" d="M1730 663l12-7-12-2-12 7z"/><path fill="#c8c038" d="M1718 661l12-7-12-1-11 7zM2637 586l12-1-12-8-11 1zM2649 585l12-1-12-8-12 1z"/><path fill="#989830" d="M1647 656l12-6-12 0-12 7zM1659 650l12-7-12 0-12 7zM1671 643l12-7-12 0-12 7z"/><path fill="#909030" d="M1635 657l12-7-12 0-12 7zM1647 650l12-7-12 0-12 7zM1659 643l12-7-12 1-12 6zM1671 636l12-6-12 0-12 7z"/><path fill="#586028" d="M1565 663l11-7-11 1-12 7z"/><path fill="#505820" d="M1553 664l12-7-12 3-12 6zM1565 657l11-6-11 2-12 7zM1576 651l12-7-12 2-11 7zM1588 644l12-7-12 3-12 6z"/><path fill="#485020" d="M1541 666l12-6-12 2-12 7zM1553 660l12-7-12 2-12 7zM1565 653l11-7-11 2-12 7zM1576 646l12-6-12 2-11 6z"/><path fill="#404820" d="M1529 669l12-7-12 3-11 6z"/><path fill="#384018" d="M1518 671l11-6-11 2-12 7zM1529 665l12-7-11 3-12 6zM1541 658l12-7-12 3-11 7zM1576 642l12-7-12 3-11 6zM1588 635l12-6-12 3-12 6zM1600 629l12-6-12 3-12 6zM1612 623l12-6-12 3-12 6z"/><path fill="#e0c840" d="M1838 679l12-7-12-3-12 6zM1826 675l12-6-12-4-12 7zM1814 672l12-7-12-3-12 7zM1802 669l12-7-12-3-12 7zM1790 666l12-7-12-3-12 7zM1778 663l12-7-12-3-12 7zM1873 681l12-7-12-4-11 7zM1862 677l11-7-12-4-11 6zM1850 672l11-6-11-4-12 7zM1909 684l12-7-12-5-12 7zM1897 679l12-7-12-4-12 6zM1945 688l12-7-12-5-12 6zM1933 682l12-6-12-5-12 6zM1969 687l12-6-12-6-12 6zM1957 681l12-6-12-5-12 6zM1993 687l12-6-12-6-12 6zM2017 687l12-6-12-6-12 6zM2041 688l12-6-12-7-12 6zM2064 688l12-5-11-7-12 6zM2053 682l12-6-12-7-12 6zM2076 683l12-6-12-7-11 6zM2100 684l12-6-12-7-12 6zM2124 686l12-6-12-7-12 5zM2112 678l12-5-12-7-12 5zM2136 680l12-5-12-7-12 5zM2160 683l12-6-12-7-12 5zM2172 677l12-5-12-7-12 5zM2196 680l12-5-12-8-12 5zM2208 675l12-4-12-8-12 4zM2220 671l12-5-12-8-12 5zM2244 674l11-5-11-8-12 5zM2255 669l12-4-11-8-12 4zM2267 665l12-4-11-9-12 5zM2303 665l12-4-12-9-12 4zM2315 661l12-4-12-9-12 4zM2327 657l12-4-12-8-12 3zM2339 653l12-4-12-8-12 4zM2375 654l12-3-12-9-12 4zM2387 651l12-4-12-8-12 3zM2399 647l12-3-12-9-12 4zM2411 644l12-3-12-9-12 3zM2423 641l12-3-12-9-12 3zM2435 638l11-3-11-9-12 3zM2446 635l12-3-11-8-12 2zM2458 632l12-2-11-9-12 3zM2470 630l12-3-11-9-12 3zM2482 627l12-2-11-9-12 2zM2494 625l12-3-12-8-11 2zM2506 622l12-2-12-8-12 2zM2518 620l12-2-12-9-12 3zM2530 608l12-2-12-9-12 2zM2542 606l12-2-12-8-12 1zM2554 604l12-2-12-8-12 2zM2566 602l12-1-12-9-12 2zM2578 601l12-2-12-8-12 1zM2590 599l11-1-11-8-12 1z"/><path fill="#d8c040" d="M1766 660l12-7-12-2-12 7zM1790 656l12-7-12-2-12 6z"/><path fill="#d0b840" d="M1754 658l12-7-12-2-12 7zM2602 589l12-1-12-8-12 1z"/><path fill="#d0b838" d="M1742 656l12-7-12-1-12 6zM2614 588l11-1-11-8-12 1z"/><path fill="#c8b838" d="M1730 654l12-6-12-2-12 7z"/><path fill="#c0b038" d="M1718 653l12-7-12-1-12 7zM2637 577l12-1-11-7-12 0zM2649 576l12 0-12-8-11 1zM2661 576l12-1-12-7-12 0z"/><path fill="#b8a838" d="M1695 651l11-7-11-1-12 7zM1718 645l12-7-12-1-12 7zM2638 569l11-1-11-7-12 0zM2649 568l12 0-11-8-12 1zM2661 568l12-1-12-7-11 0z"/><path fill="#b0a038" d="M1683 650l12-7-12 0-12 7z"/><path fill="#a0a030" d="M1671 650l12-7-12 0-12 7z"/><path fill="#888830" d="M1635 650l12-7-12 1-12 7zM1647 643l12-6-12 0-12 7z"/><path fill="#808030" d="M1623 651l12-7-12 1-11 7z"/><path fill="#586020" d="M1576 656l12-7-12 2-11 6zM1588 649l12-7-12 2-12 7zM1600 642l12-6-12 1-12 7z"/><path fill="#404818" d="M1541 662l12-7-12 3-12 7zM1553 655l12-7-12 3-12 7zM1588 640l12-7-12 2-12 7zM1600 633l12-6-12 2-12 6zM1612 627l11-6-11 2-12 6zM1623 621l12-6-11 2-12 6z"/><path fill="#303818" d="M1518 667l12-6-12 3-12 6zM1530 661l11-7-11 3-12 7zM1565 644l11-6-11 3-12 6zM1576 638l12-6-12 3-11 6zM1588 632l12-6-12 2-12 7z"/><path fill="#283018" d="M1506 670l12-6-12 3-11 7z"/><path fill="#202810" d="M1495 674l11-7-11 3-12 7zM1506 667l12-7-12 4-11 6zM1518 660l12-6-12 3-12 7zM1541 650l12-6-12 3-11 7zM1553 644l12-6-12 3-12 6zM1565 638l12-7-12 4-12 6zM1600 622l12-6-12 3-12 6zM1612 616l12-5-12 3-12 5z"/><path fill="#e0c040" d="M1838 669l12-7-12-4-12 7zM1826 665l12-7-12-3-12 7zM1814 662l12-7-12-3-12 7zM1802 659l12-7-12-3-12 7zM1885 674l12-6-12-5-12 7zM1873 670l12-7-12-4-12 7zM1861 666l12-7-12-4-11 7zM1850 662l11-7-12-3-11 6zM1921 677l12-6-12-5-12 6zM1909 672l12-6-12-5-12 7zM1897 668l12-7-12-4-12 6zM1945 676l12-6-12-5-12 6zM1933 671l12-6-12-5-12 6zM1981 681l12-6-12-6-12 6zM1969 675l12-6-12-5-12 6zM2005 681l12-6-12-6-12 6zM1993 675l12-6-12-6-12 6zM2029 681l12-6-12-6-12 6zM2017 675l12-6-12-6-12 6zM2041 675l12-6-12-6-12 6zM2065 676l11-6-11-6-12 5zM2088 677l12-6-12-6-12 5zM2100 671l12-5-12-7-12 6zM2124 673l12-5-12-7-12 5zM2148 675l12-5-12-8-12 6zM2160 670l12-5-12-8-12 5zM2184 672l12-5-12-7-12 5zM2196 667l12-4-12-8-12 5zM2208 663l12-5-12-8-12 5zM2232 666l12-5-12-8-12 5zM2244 661l12-4-12-8-12 4zM2256 657l12-5-12-7-12 4zM2279 661l12-5-11-8-12 4zM2291 656l12-4-11-8-12 4zM2303 652l12-4-11-8-12 4zM2315 648l12-3-11-9-12 4zM2351 649l12-3-12-9-12 4zM2363 646l12-4-12-8-12 3zM2375 642l12-3-12-9-12 4zM2387 639l12-4-12-8-12 3zM2399 635l12-3-12-8-12 3zM2411 632l12-3-12-8-12 3zM2423 629l12-3-12-8-12 3zM2435 626l12-2-12-9-12 3zM2447 624l12-3-12-8-12 2zM2459 621l12-3-12-8-12 3zM2471 618l12-2-12-8-12 2zM2483 616l11-2-11-9-12 3zM2494 614l12-2-11-9-12 2zM2506 612l12-3-11-8-12 2zM2518 609l12-1-12-9-11 2zM2530 597l12-1-11-8-12 1z"/><path fill="#d8b838" d="M1778 653l12-6-12-2-12 6z"/><path fill="#d0b038" d="M1766 651l12-6-12-2-12 6zM1790 647l12-7-12-2-12 7zM2566 583l12-1-12-8-11 1zM2578 582l12-1-12-8-12 1zM2590 581l12-1-12-8-12 1z"/><path fill="#c8b038" d="M1754 649l12-6-12-2-12 7zM1742 648l12-7-12-2-12 7zM2602 580l12-1-12-8-12 1zM2614 579l12-1-12-8-12 1zM2626 578l11-1-11-8-12 1z"/><path fill="#c0a838" d="M1730 646l12-7-12-1-12 7zM1754 641l12-7-12-1-12 6zM2602 571l12-1-12-7-12 0zM2614 570l12-1-12-7-12 1zM2626 569l12 0-12-8-12 1z"/><path fill="#b0a030" d="M1706 644l12-7-12 0-11 6z"/><path fill="#a8a030" d="M1695 643l11-6-12-1-11 7z"/><path fill="#a89830" d="M1683 643l11-7-11 0-12 7zM1706 637l12-7-12 0-12 6z"/><path fill="#808028" d="M1635 644l12-7-12 1-12 7zM1647 637l12-6-12 1-12 6z"/><path fill="#787828" d="M1623 645l12-7-12 1-11 7zM1635 638l12-6-12 1-12 6z"/><path fill="#283010" d="M1518 664l12-7-12 3-12 7zM1530 657l11-7-11 4-12 6zM1553 647l12-6-12 3-12 6zM1565 641l11-6-11 3-12 6zM1576 635l12-7-11 3-12 7zM1624 614l11-6-11 3-12 5z"/><path fill="#e0b840" d="M1838 658l11-6-11-3-12 6zM1826 655l12-6-12-3-12 6zM1814 652l12-6-12-3-12 6zM1885 663l12-6-12-4-12 6zM1873 659l12-6-12-4-12 6zM1861 655l12-6-12-4-12 7zM1849 652l12-7-12-3-11 7zM1921 666l12-6-12-5-12 6zM1909 661l12-6-12-4-12 6zM1957 670l12-6-12-6-12 7zM1945 665l12-7-12-5-12 7zM1981 669l12-6-12-5-12 6zM2005 669l12-6-12-6-12 6zM2029 669l12-6-12-6-12 6zM2053 669l12-5-12-7-12 6zM2076 670l12-5-11-7-12 6zM2088 665l12-6-12-6-11 5zM2112 666l12-5-12-7-12 5zM2136 668l12-6-12-7-12 6zM2148 662l12-5-12-7-12 5zM2172 665l12-5-12-8-12 5zM2184 660l12-5-12-7-12 4zM2220 658l12-5-12-7-12 4zM2232 653l12-4-12-8-12 5zM2268 652l12-4-12-8-12 5zM2280 648l12-4-12-8-12 4zM2292 644l12-4-12-8-12 4zM2327 645l12-4-12-8-11 3zM2339 641l12-4-12-8-12 4zM2351 637l12-3-12-8-12 3zM2363 634l12-4-12-8-12 4zM2375 630l12-3-12-8-12 3zM2387 627l12-3-12-8-12 3zM2459 610l12-2-12-8-12 2zM2471 608l12-3-12-8-12 3zM2483 605l12-2-12-8-12 2zM2495 603l12-2-12-8-12 2zM2507 601l11-2-11-8-12 2zM2518 599l12-2-11-8-12 2zM2542 596l12-2-12-8-11 2zM2554 594l12-2-12-8-12 2z"/><path fill="#d8b038" d="M1802 649l12-6-12-3-12 7zM1826 646l11-7-12-3-11 7zM2519 589l12-1-12-8-12 2zM2531 588l11-2-11-8-12 2zM2542 586l12-2-11-7-12 1zM2554 584l12-1-11-8-12 2z"/><path fill="#d0a838" d="M1778 645l12-7-12-2-12 7zM1802 640l12-6-12-2-12 6z"/><path fill="#c8a838" d="M1766 643l12-7-12-2-12 7z"/><path fill="#b8a038" d="M1742 639l12-6-12-1-12 6z"/><path fill="#b8a030" d="M1730 638l12-6-12-1-12 6z"/><path fill="#b09830" d="M1718 637l12-6-12-1-12 7zM1742 632l12-7-12-1-12 7zM2638 561l12-1-12-7-12 0zM2650 560l11 0-11-7-12 0z"/><path fill="#a09830" d="M1694 636l12-6-12 0-11 6z"/><path fill="#989030" d="M1683 636l11-6-11 0-12 6z"/><path fill="#888828" d="M1659 637l12-7-12 1-12 6z"/><path fill="#606820" d="M1612 641l11-7-11 2-12 6zM1623 634l12-6-12 1-11 7z"/><path fill="#182008" d="M1506 664l12-7-12 4-11 7zM1588 625l12-6-12 4-11 6zM1635 605l12-6-11 3-12 6zM1647 599l12-5-12 3-11 5zM1647 597l12-5-12 3-11 5zM1659 592l12-6-12 4-12 5zM1659 590l12-5-12 3-11 5zM1671 585l12-5-12 3-12 5zM1671 583l12-5-12 4-12 5zM1683 578l12-5-12 4-12 5zM1695 573l12-4-12 4-12 4zM1695 573l12-5-12 4-12 4zM1707 568l12-4-12 4-12 4zM1719 564l12-5-12 4-12 5zM1719 563l12-4-12 4-12 4z"/><path fill="#e0b040" d="M1838 649l11-7-12-3-11 7zM1897 657l12-6-12-4-12 6zM1933 660l12-7-12-4-12 6zM1969 664l12-6-12-6-12 6zM1993 663l12-6-12-5-12 6zM2017 663l12-6-12-6-12 6zM2041 663l12-6-12-6-12 6zM2065 664l12-6-12-6-12 5zM2124 661l12-6-12-6-12 5zM2160 657l12-5-12-7-12 5zM2196 655l12-5-12-7-12 5zM2244 649l12-4-12-8-12 4zM2304 640l12-4-12-7-12 3zM2399 624l12-3-12-8-12 3zM2411 621l12-3-12-8-12 3zM2423 618l12-3-12-8-12 3zM2435 615l12-2-12-8-12 2zM2447 613l12-3-12-8-12 3z"/><path fill="#d8a838" d="M1814 643l11-7-11-2-12 6zM1837 639l12-6-12-3-12 6z"/><path fill="#c8a038" d="M1790 638l12-6-12-2-12 6zM1778 636l12-6-12-2-12 6zM2566 574l12-1-11-8-12 2zM2578 573l12-1-12-8-11 1zM2590 572l12-1-12-8-12 1z"/><path fill="#c0a030" d="M1766 634l12-6-12-1-12 6z"/><path fill="#b89830" d="M1754 633l12-6-12-2-12 7zM2602 563l12-1-12-7-12 0zM2614 562l12-1-12-7-12 1zM2626 561l12 0-12-8-12 1z"/><path fill="#a89030" d="M1730 631l12-7-12 0-12 6zM1718 630l12-6-12-1-12 7zM1742 624l12-6-12 0-12 6zM2638 553l12 0-12-7-12 0z"/><path fill="#a09030" d="M1706 630l12-7-12 0-12 7z"/><path fill="#988830" d="M1694 630l12-7-12 0-11 7z"/><path fill="#908828" d="M1683 630l11-7-11 1-12 6z"/><path fill="#888028" d="M1671 630l12-6-12 0-12 7zM1683 624l11-7-11 1-12 6z"/><path fill="#807828" d="M1659 631l12-7-12 1-12 7zM1671 624l12-6-12 1-12 6zM1683 618l11-6-11 1-12 6z"/><path fill="#787028" d="M1647 632l12-7-12 1-12 7zM1659 625l12-6-12 1-12 6z"/><path fill="#707028" d="M1635 633l12-7-12 2-12 6z"/><path fill="#585820" d="M1612 636l11-7-11 2-12 6zM1623 629l12-6-12 2-11 6zM1635 623l12-6-12 2-12 6zM1647 617l12-6-12 2-12 6z"/><path fill="#505020" d="M1600 637l12-6-12 2-12 7zM1612 631l11-6-11 2-12 6zM1623 625l12-6-12 2-11 6z"/><path fill="#e0b038" d="M1885 653l12-6-12-4-12 6zM1873 649l12-6-12-4-12 6zM1861 645l12-6-12-3-12 6zM1921 655l12-6-12-5-12 7zM1957 658l12-6-12-5-12 6zM1981 658l12-6-12-6-12 6zM2005 657l12-6-12-5-12 6zM2053 657l12-5-12-6-12 5zM2077 658l11-5-11-7-12 6zM2100 659l12-5-12-7-12 6zM2136 655l12-5-12-6-12 5zM2172 652l12-4-12-7-12 4zM2208 650l12-4-12-8-12 5zM2256 645l12-5-12-7-12 4zM2268 640l12-4-12-7-12 4zM2316 636l11-3-11-8-12 4zM2327 633l12-4-11-8-12 4zM2339 629l12-3-11-8-12 3zM2495 593l12-2-12-8-12 2zM2507 591l12-2-12-7-12 1z"/><path fill="#e0a838" d="M1849 642l12-6-12-3-12 6zM1909 651l12-7-12-4-12 7zM1897 647l12-7-12-3-12 6zM1885 643l12-6-12-4-12 6zM1873 639l12-6-12-3-12 6zM1945 653l12-6-12-4-12 6zM1933 649l12-6-12-5-12 6zM1921 644l12-6-12-4-12 6zM1969 652l12-6-12-4-12 5zM1957 647l12-5-12-5-12 6zM1993 652l12-6-12-5-12 5zM2029 657l12-6-12-5-12 5zM2017 651l12-5-12-6-12 6zM2041 651l12-5-12-6-12 6zM2065 652l12-6-12-6-12 6zM2088 653l12-6-11-6-12 5zM2112 654l12-5-12-7-12 5zM2124 649l12-5-12-7-12 5zM2148 650l12-5-12-6-12 5zM2160 645l12-4-12-7-12 5zM2184 648l12-5-12-7-12 5zM2196 643l12-5-12-7-12 5zM2220 646l12-5-12-7-12 4zM2232 641l12-4-12-7-12 4zM2244 637l12-4-12-7-12 4zM2280 636l12-4-12-7-12 4zM2292 632l12-3-12-8-12 4zM2304 629l12-4-12-8-12 4zM2351 626l12-4-11-8-12 4zM2363 622l12-3-11-8-12 3zM2375 619l12-3-11-8-12 3zM2387 616l12-3-12-8-11 3zM2399 613l12-3-12-8-12 3zM2411 610l12-3-12-8-12 3zM2423 607l12-2-12-8-12 2zM2435 605l12-3-12-8-12 3zM2447 602l12-2-12-8-12 2zM2459 600l12-3-12-7-12 2zM2471 597l12-2-12-8-12 3zM2483 595l12-2-12-8-12 2z"/><path fill="#d0a038" d="M1825 636l12-6-12-2-11 6zM1814 634l11-6-12-3-11 7zM2519 580l12-2-12-7-12 1zM2531 578l12-1-12-8-12 2zM2543 577l12-2-12-7-12 1zM2555 575l11-1-11-7-12 1z"/><path fill="#c89838" d="M1802 632l11-7-11-2-12 7zM1825 628l12-7-12-2-12 6z"/><path fill="#c09830" d="M1790 630l12-7-12-1-12 6zM2567 565l11-1-11-7-12 1zM2578 564l12-1-11-7-12 1zM2590 563l12 0-12-8-11 1z"/><path fill="#b89030" d="M1778 628l12-6-12-2-12 7zM1766 627l12-7-12-1-12 6zM2590 555l12 0-11-7-12 0z"/><path fill="#b09030" d="M1754 625l12-6-12-1-12 6zM2602 555l12-1-12-7-11 1zM2614 554l12-1-12-6-12 0zM2626 553l12 0-12-7-12 1z"/><path fill="#a08830" d="M1730 624l12-6-12-1-12 6z"/><path fill="#a08828" d="M1718 623l12-6-12 0-12 6z"/><path fill="#988028" d="M1706 623l12-6-12 0-12 6zM1730 617l12-6-12 0-12 6z"/><path fill="#908028" d="M1694 623l12-6-12 0-11 7zM1718 617l12-6-12 0-12 6z"/><path fill="#706820" d="M1647 626l12-6-12 1-12 7zM1659 620l12-6-12 1-12 6zM1671 614l12-6-12 1-12 6zM1694 607l12-6-12 1-11 6z"/><path fill="#606020" d="M1635 628l12-7-12 2-12 6zM1647 621l12-6-12 2-12 6zM1659 615l12-6-12 2-12 6zM1671 609l12-6-12 2-12 6z"/><path fill="#d8a038" d="M1861 636l12-6-12-3-12 6zM1849 633l12-6-12-3-12 6zM2483 585l12-2-12-7-12 2zM2495 583l12-1-12-8-12 2zM2507 582l12-2-12-8-12 2z"/><path fill="#d09838" d="M1837 630l12-6-12-3-12 7zM1861 627l12-6-12-3-12 6z"/><path fill="#c09030" d="M1813 625l12-6-12-2-11 6zM1802 623l11-6-11-1-12 6z"/><path fill="#b88830" d="M1790 622l12-6-12-2-12 6zM1813 617l12-6-12-1-11 6zM2555 558l12-1-12-7-12 1zM2567 557l12-1-12-7-12 1zM2579 556l11-1-11-7-12 1z"/><path fill="#b08830" d="M1778 620l12-6-12-1-12 6z"/><path fill="#a88830" d="M1766 619l12-6-12-1-12 6zM1754 618l12-6-12-1-12 7zM2614 547l12-1-12-7-11 1zM2626 546l12 0-12-7-12 0z"/><path fill="#a08028" d="M1742 618l12-7-12 0-12 6zM1766 612l12-6-12-1-12 6z"/><path fill="#907828" d="M1706 617l12-6-12 0-12 6zM1730 611l12-6-12 0-12 6z"/><path fill="#887828" d="M1694 617l12-6-12 1-11 6zM1718 611l12-6-12 0-12 6z"/><path fill="#787020" d="M1671 619l12-6-12 1-12 6zM1694 612l12-6-12 1-11 6z"/><path fill="#181808" d="M1553 641l12-6-12 3-12 6zM1565 635l12-6-12 3-12 6zM1553 638l12-6-12 4-11 6zM1577 629l11-6-11 3-12 6zM1565 632l12-6-12 4-12 6zM1600 619l12-5-12 3-12 6zM1588 623l12-6-11 3-12 6zM1577 626l12-6-12 4-12 6zM1565 630l12-6-12 4-12 6zM1612 614l12-6-12 3-12 6zM1600 617l12-6-12 4-11 5zM1589 620l11-5-11 3-12 6zM1577 624l12-6-12 4-12 6zM1624 608l12-6-12 4-12 5zM1612 611l12-5-12 3-12 6zM1600 615l12-6-12 4-11 5zM1589 618l11-5-11 4-12 5zM1577 622l12-5-12 4-12 6zM1636 602l11-5-11 3-12 6zM1624 606l12-6-12 4-12 5zM1612 609l12-5-12 3-12 6zM1600 613l12-6-11 4-12 6zM1589 617l12-6-12 5-12 5zM1636 600l11-5-11 3-12 6zM1624 604l12-6-12 4-12 5zM1612 607l12-5-12 4-11 5zM1601 611l11-5-11 4-12 6zM1589 616l12-6-12 5-12 5zM1647 595l12-5-11 3-12 5zM1636 598l12-5-12 4-12 5zM1624 602l12-5-12 4-12 5zM1612 606l12-5-12 4-11 5zM1601 610l11-5-11 4-12 6zM1648 593l11-5-11 4-12 5zM1636 597l12-5-12 4-12 5zM1624 601l12-5-12 4-12 5zM1612 605l12-5-11 4-12 5zM1601 609l12-5-12 5-12 5zM1659 588l12-5-12 4-11 5zM1648 592l11-5-11 4-12 5zM1636 596l12-5-12 4-12 5zM1624 600l12-5-12 4-11 5zM1613 604l11-5-11 5-12 5zM1659 587l12-5-11 4-12 5zM1648 591l12-5-12 4-12 5zM1636 595l12-5-12 4-12 5zM1624 599l12-5-11 5-12 5zM1671 582l12-5-12 4-11 5zM1660 586l11-5-11 4-12 5zM1648 590l12-5-12 5-12 4zM1636 594l12-4-12 4-11 5zM1683 577l12-4-12 3-12 5zM1671 581l12-5-11 5-12 4zM1660 585l12-4-12 4-12 5zM1683 576l12-4-12 4-11 5zM1672 581l11-5-11 4-12 5zM1695 572l12-4-12 4-12 4zM1683 576l12-4-11 4-12 4zM1707 568l12-5-12 4-12 5z"/><path fill="#e0a038" d="M1909 640l12-6-12-3-12 6zM1897 637l12-6-12-4-12 6zM1885 633l12-6-12-3-12 6zM1945 643l12-6-12-4-12 5zM1933 638l12-5-12-5-12 6zM1981 646l12-5-12-5-12 6zM1969 642l12-6-12-5-12 6zM2005 646l12-6-12-5-12 6zM1993 641l12-6-12-5-12 6zM2029 646l12-6-12-5-12 5zM2053 646l12-6-12-5-12 5zM2077 646l12-5-12-6-12 5zM2100 647l12-5-12-6-11 5zM2089 641l11-5-11-6-12 5zM2112 642l12-5-12-6-12 5zM2136 644l12-5-12-7-12 5zM2148 639l12-5-12-7-12 5zM2172 641l12-5-12-7-12 5zM2184 636l12-5-12-6-12 4zM2208 638l12-4-12-7-12 4zM2220 634l12-4-12-7-12 4zM2232 630l12-4-12-8-12 5zM2256 633l12-4-12-8-12 5zM2268 629l12-4-12-8-12 4zM2280 625l12-4-12-7-12 3zM2316 625l12-4-12-7-12 3zM2328 621l12-3-12-8-12 4zM2340 618l12-4-12-7-12 3zM2352 614l12-3-12-7-12 3zM2364 611l12-3-12-7-12 3zM2376 608l11-3-11-7-12 3zM2387 605l12-3-11-7-12 3zM2399 602l12-3-11-7-12 3zM2411 599l12-2-11-8-12 3zM2423 597l12-3-11-7-12 2zM2435 594l12-2-12-8-11 3zM2447 592l12-2-12-8-12 2zM2459 590l12-3-12-7-12 2zM2471 587l12-2-12-7-12 2z"/><path fill="#d89838" d="M1873 630l12-6-12-3-12 6zM1897 627l12-6-12-3-12 6z"/><path fill="#c89038" d="M1849 624l12-6-12-3-12 6zM2519 571l12-2-12-7-12 1zM2531 569l12-1-12-7-12 1z"/><path fill="#c89030" d="M1837 621l12-6-12-2-12 6zM2543 568l12-1-12-8-12 2z"/><path fill="#c08830" d="M1825 619l12-6-12-2-12 6zM1849 615l12-5-12-3-12 6zM2519 562l12-1-12-7-12 1zM2531 561l12-2-12-7-12 2zM2543 559l12-1-12-7-12 1z"/><path fill="#b88030" d="M1802 616l11-6-12-2-11 6zM1825 611l12-6-12-1-12 6zM2531 552l12-1-12-6-12 1zM2543 551l12-1-12-7-12 2z"/><path fill="#b08030" d="M1790 614l11-6-11-1-12 6zM1813 610l12-6-12-2-12 6zM2555 550l12-1-12-6-12 0zM2567 549l12-1-12-6-12 1zM2579 548l12 0-12-7-12 1zM2591 548l11-1-11-7-12 1z"/><path fill="#a88030" d="M1778 613l12-6-12-1-12 6zM2602 547l12 0-11-7-12 0z"/><path fill="#a07828" d="M1754 611l12-6-12 0-12 6zM1778 606l12-6-12-1-12 6zM2603 540l11-1-11-6-12 0zM2614 539l12 0-11-6-12 0z"/><path fill="#987828" d="M1742 611l12-6-12 0-12 6z"/><path fill="#807028" d="M1706 611l12-6-12 1-12 6z"/><path fill="#786820" d="M1683 613l11-6-11 1-12 6zM1706 606l12-6-12 1-12 6zM1730 599l12-5-12 0-12 6z"/><path fill="#505018" d="M1635 619l12-6-12 2-12 6zM1683 599l11-6-11 2-12 6z"/><path fill="#303010" d="M1600 626l12-6-12 2-12 6zM1612 620l12-6-12 2-12 6zM1659 600l12-6-12 3-12 5zM1671 594l12-5-12 2-12 6zM1706 581l12-5-12 2-11 5z"/><path fill="#282810" d="M1588 628l12-6-12 3-11 6zM1635 608l12-6-12 3-11 6zM1647 602l12-5-12 2-12 6zM1683 589l12-6-12 3-12 5z"/><path fill="#202010" d="M1577 631l11-6-11 4-12 6zM1659 597l12-6-12 3-12 5z"/><path fill="#e09838" d="M1921 634l12-6-12-3-12 6zM1909 631l12-6-12-4-12 6zM1957 637l12-6-12-4-12 6zM1945 633l12-6-12-4-12 5zM1933 628l12-5-12-4-12 6zM1981 636l12-6-12-5-12 6zM2017 640l12-5-12-6-12 6zM2005 635l12-6-12-4-12 5zM2041 640l12-5-12-6-12 6zM2029 635l12-6-12-5-12 5zM2065 640l12-5-12-6-12 6zM2053 635l12-6-12-5-12 5zM2077 635l12-5-12-6-12 5zM2100 636l12-5-11-6-12 5zM2124 637l12-5-12-6-12 5zM2136 632l12-5-12-6-12 5zM2160 634l12-5-12-6-12 4zM2172 629l12-4-12-7-12 5zM2196 631l12-4-12-7-12 5zM2208 627l12-4-12-7-12 4zM2244 626l12-5-12-7-12 4zM2256 621l12-4-12-7-12 4zM2292 621l12-4-12-7-12 4zM2304 617l12-3-12-8-12 4zM2316 614l12-4-12-7-12 3zM2328 610l12-3-12-7-12 3zM2340 607l12-3-12-8-12 4zM2352 604l12-3-12-8-12 3z"/><path fill="#d09038" d="M1885 624l12-6-12-3-12 6zM2483 576l12-2-12-7-12 2zM2495 574l12-2-12-7-12 2zM2507 572l12-1-12-8-12 2z"/><path fill="#d08838" d="M1873 621l12-6-12-3-12 6zM1897 618l12-6-12-3-12 6zM1921 615l12-5-12-4-12 6zM2436 575l12-2-12-7-12 2zM2448 573l12-2-12-7-12 2zM2460 571l11-2-11-7-12 2z"/><path fill="#c88830" d="M1861 618l12-6-12-2-12 5zM2471 569l12-2-11-7-12 2zM2483 567l12-2-11-7-12 2zM2495 565l12-2-12-6-11 1zM2507 563l12-1-12-7-12 2z"/><path fill="#c08030" d="M1837 613l12-6-12-2-12 6zM1861 610l12-6-12-2-12 5z"/><path fill="#a87830" d="M1801 608l12-6-12-1-11 6z"/><path fill="#a87828" d="M1790 607l11-6-11-1-12 6zM2555 543l12-1-12-7-12 1zM2567 542l12-1-12-6-12 0zM2579 541l12-1-12-6-12 1zM2591 540l12 0-12-7-12 1z"/><path fill="#987028" d="M1766 605l12-6-12 0-12 6zM1790 600l11-6-12 0-11 5zM1778 599l11-5-11-1-12 6zM2591 533l12 0-12-6-12 0zM2603 533l12 0-12-6-12 0z"/><path fill="#907028" d="M1754 605l12-6-12 0-12 6zM1742 605l12-6-12 0-12 6z"/><path fill="#887028" d="M1730 605l12-6-12 0-12 6z"/><path fill="#806820" d="M1718 605l12-6-12 1-12 6zM1742 599l12-6-12 1-12 5z"/><path fill="#686020" d="M1683 608l11-6-11 1-12 6z"/><path fill="#585018" d="M1659 611l12-6-12 2-12 6zM1671 605l12-6-12 2-12 6zM1694 597l12-5-12 1-11 6zM1706 592l12-6-12 2-12 5zM1730 585l12-5-12 1-12 5z"/><path fill="#504818" d="M1647 613l12-6-12 2-12 6zM1694 593l12-5-12 2-11 5z"/><path fill="#404018" d="M1635 615l12-6-12 2-11 6zM1647 609l12-6-12 2-12 6zM1659 603l12-6-12 3-12 5z"/><path fill="#383818" d="M1624 617l11-6-11 3-12 6z"/><path fill="#d89038" d="M1921 625l12-6-12-4-12 6zM1909 621l12-6-12-3-12 6zM1957 627l12-6-12-4-12 6zM1945 623l12-6-12-4-12 6zM1993 630l12-5-12-5-12 5zM1981 625l12-5-12-4-12 5zM2017 629l12-5-12-5-12 6zM2041 629l12-5-12-5-12 5zM2065 629l12-5-12-5-12 5zM2089 630l12-5-12-6-12 5zM2124 626l12-5-11-6-12 5zM2148 627l12-4-12-7-12 5zM2160 623l12-5-12-6-12 4zM2184 625l12-5-12-6-12 4zM2196 620l12-4-12-7-12 5zM2232 618l12-4-12-6-12 4zM2244 614l12-4-12-6-12 4zM2280 614l12-4-12-7-12 4zM2292 610l12-4-12-7-12 4zM2304 606l12-3-12-7-12 3zM2316 603l12-3-12-7-12 3zM2435 584l12-2-11-7-12 2zM2447 582l12-2-11-7-12 2zM2459 580l12-2-11-7-12 2zM2471 578l12-2-12-7-11 2z"/><path fill="#c88030" d="M1885 615l12-6-12-3-12 6zM1873 612l12-6-12-2-12 6z"/><path fill="#b87830" d="M1849 607l12-5-12-2-12 5zM1873 604l12-6-12-2-12 6zM2519 554l12-2-12-6-11 1z"/><path fill="#b07830" d="M1837 605l12-5-12-2-12 6zM1825 604l12-6-12-1-12 5z"/><path fill="#a87028" d="M1813 602l12-5-12-2-12 6zM1837 598l12-6-12-1-12 6z"/><path fill="#a07028" d="M1801 601l12-6-12-1-11 6zM2567 535l12-1-12-6-12 0zM2579 534l12-1-12-6-12 1z"/><path fill="#906828" d="M1766 599l12-6-12 0-12 6zM1789 594l12-6-12 0-11 5zM1778 593l11-5-11 0-12 5zM2591 527l12 0-12-6-12 0z"/><path fill="#886828" d="M1754 599l12-6-12 0-12 6z"/><path fill="#786020" d="M1718 600l12-6-12 1-12 6zM1742 594l12-6-12 1-12 5z"/><path fill="#706020" d="M1706 601l12-6-12 1-12 6zM1730 594l12-5-12 0-12 6z"/><path fill="#685820" d="M1694 602l12-6-12 1-11 6zM1718 595l12-6-12 1-12 6z"/><path fill="#605818" d="M1683 603l11-6-11 2-12 6zM1706 596l12-6-12 2-12 5z"/><path fill="#484818" d="M1659 607l12-6-12 2-12 6zM1671 601l12-6-12 2-12 6z"/><path fill="#383810" d="M1635 611l12-6-12 3-11 6zM1683 592l11-6-11 3-12 5zM1718 579l12-5-12 2-12 5z"/><path fill="#e09038" d="M1969 631l12-6-12-4-12 6zM2112 631l12-5-11-6-12 5zM2220 623l12-5-12-6-12 4zM2268 617l12-3-12-7-12 3zM2364 601l12-3-12-8-12 3zM2376 598l12-3-12-8-12 3zM2388 595l12-3-12-7-12 2zM2400 592l12-3-12-7-12 3zM2412 589l12-2-12-8-12 3zM2424 587l11-3-11-7-12 2z"/><path fill="#d88838" d="M1933 619l12-6-12-3-12 5zM1969 621l12-5-12-4-12 5zM1957 617l12-5-12-4-12 5zM2005 625l12-6-12-4-12 5zM1993 620l12-5-12-5-12 6zM2029 624l12-5-12-5-12 5zM2017 619l12-5-12-5-12 6zM2053 624l12-5-12-5-12 5zM2041 619l12-5-12-5-12 5zM2077 624l12-5-12-5-12 5zM2065 619l12-5-12-5-12 5zM2101 625l12-5-12-6-12 5zM2089 619l12-5-12-5-12 5zM2113 620l12-5-12-6-12 5zM2136 621l12-5-11-5-12 4zM2148 616l12-4-12-6-11 5zM2172 618l12-4-12-7-12 5zM2184 614l12-5-12-6-12 4zM2208 616l12-4-12-7-12 4zM2220 612l12-4-12-7-12 4zM2256 610l12-3-12-7-12 4zM2268 607l12-4-12-7-12 4zM2280 603l12-4-12-6-12 3zM2292 599l12-3-12-7-12 4zM2328 600l12-4-12-7-12 4zM2340 596l12-3-12-7-12 3zM2352 593l12-3-12-7-12 3zM2364 590l12-3-12-7-12 3zM2376 587l12-2-12-7-12 2zM2388 585l12-3-12-7-12 3zM2400 582l12-3-12-6-12 2zM2412 579l12-2-12-7-12 3zM2424 577l12-2-12-7-12 2z"/><path fill="#d08030" d="M1909 612l12-6-12-3-12 6zM1933 610l12-6-12-3-12 5z"/><path fill="#c87830" d="M1897 609l12-6-12-2-12 5zM1921 606l12-5-12-3-12 5zM1945 604l12-5-12-3-12 5zM2424 568l12-2-12-7-12 2zM2436 566l12-2-12-7-12 2zM2448 564l12-2-12-7-12 2zM2460 562l12-2-12-7-12 2z"/><path fill="#c07830" d="M1885 606l12-5-12-3-12 6zM1909 603l12-5-12-3-12 6zM2472 560l12-2-12-7-12 2zM2484 558l11-1-11-7-12 1zM2495 557l12-2-11-7-12 2zM2507 555l12-1-11-7-12 1z"/><path fill="#b87030" d="M1861 602l12-6-12-2-12 6zM1885 598l12-5-12-3-12 6zM2472 551l12-1-12-7-12 2zM2484 550l12-2-12-6-12 1zM2496 548l12-1-12-6-12 1z"/><path fill="#b07030" d="M1849 600l12-6-12-2-12 6zM2508 547l11-1-11-7-12 2zM2519 546l12-1-11-7-12 1zM2531 545l12-2-12-6-11 1zM2543 543l12 0-12-7-12 1z"/><path fill="#a86828" d="M1825 597l12-6-12-1-12 5zM1849 592l12-5-12-2-12 6zM2508 539l12-1-12-6-12 1zM2520 538l11-1-11-6-12 1zM2531 537l12-1-11-6-12 1zM2543 536l12-1-12-6-11 1z"/><path fill="#a06828" d="M1813 595l12-5-12-1-12 5zM1837 591l12-6-12-1-12 6zM2555 535l12 0-12-7-12 1z"/><path fill="#986828" d="M1801 594l12-5-12-1-12 6zM2567 528l12-1-12-6-12 1zM2579 527l12 0-12-6-12 0z"/><path fill="#886020" d="M1766 593l12-5-12 0-12 5zM1789 588l12-6-12 0-11 6z"/><path fill="#806020" d="M1754 593l12-5-12 0-12 6zM1778 588l11-6-11 0-12 6z"/><path fill="#303810" d="M1647 605l12-5-12 2-12 6z"/><path fill="#202008" d="M1624 611l11-6-11 3-12 6zM1671 591l12-5-12 3-12 5zM1659 594l12-5-12 3-12 5zM1683 586l12-5-12 2-12 6zM1671 589l12-6-12 3-12 6zM1706 578l12-5-12 3-11 5zM1695 581l11-5-11 2-12 5zM1683 583l12-5-12 3-12 5zM1671 586l12-5-12 4-12 5zM1718 573l12-5-12 3-12 5zM1706 576l12-5-11 2-12 5zM1695 578l12-5-12 3-12 5zM1683 581l12-5-12 4-12 5zM1730 568l12-5-12 3-12 5zM1718 571l12-5-12 3-11 4zM1707 573l11-4-11 3-12 4zM1695 576l12-4-12 3-12 5zM1683 580l12-5-12 3-12 5zM1730 566l12-5-12 3-12 5zM1718 569l12-5-12 3-11 5zM1707 572l11-5-11 3-12 5zM1695 575l12-5-12 3-12 5zM1742 561l12-5-12 3-12 5zM1730 564l12-5-12 3-12 5zM1718 567l12-5-11 3-12 5zM1707 570l12-5-12 4-12 4zM1742 559l12-4-12 3-12 4zM1730 562l12-4-12 3-11 4zM1719 565l11-4-11 3-12 5zM1707 569l12-5-12 4-12 5zM1754 555l12-5-12 3-12 5zM1742 558l12-5-12 4-12 4zM1730 561l12-4-11 3-12 4zM1719 564l12-4-12 4-12 4zM1766 550l12-4-12 3-12 4zM1754 553l12-4-12 3-12 5zM1742 557l12-5-12 4-11 4zM1731 560l11-4-11 3-12 5zM1766 549l12-4-12 3-12 4zM1754 552l12-4-12 4-12 4zM1742 556l12-4-11 3-12 4zM1731 559l12-4-12 4-12 4zM1778 545l12-4-12 3-12 4zM1766 548l12-4-12 4-12 4zM1754 552l12-4-12 3-11 4zM1743 555l11-4-11 4-12 4zM1790 541l12-4-12 3-12 4zM1778 544l12-4-12 4-12 4zM1766 548l12-4-12 3-12 4zM1754 551l12-4-12 4-11 4zM1790 540l12-4-12 4-12 4zM1778 544l12-4-12 3-12 4zM1802 536l12-3-12 3-12 4zM1790 540l12-4-12 4-12 3zM1814 533l12-4-12 4-12 3zM1826 529l12-3-12 3-12 4z"/><path fill="#d88038" d="M1945 613l12-5-12-4-12 6zM1981 616l12-6-12-4-12 6zM1969 612l12-6-12-4-12 6zM2005 615l12-6-12-4-12 5zM1993 610l12-5-12-4-12 5zM2029 614l12-5-12-5-12 5zM2053 614l12-5-12-5-12 5zM2077 614l12-5-12-5-12 5zM2101 614l12-5-12-5-12 5zM2125 615l12-4-12-6-12 4zM2137 611l11-5-11-6-12 5zM2160 612l12-5-12-5-12 4zM2172 607l12-4-12-6-12 5zM2196 609l12-4-12-6-12 4zM2208 605l12-4-12-6-12 4zM2232 608l12-4-12-7-12 4zM2244 604l12-4-12-7-12 4zM2256 600l12-4-12-6-12 3zM2268 596l12-3-12-7-12 4zM2304 596l12-3-12-7-12 3zM2316 593l12-4-12-6-12 3zM2328 589l12-3-12-6-12 3zM2340 586l12-3-12-6-12 3zM2352 583l12-3-12-6-12 3zM2364 580l12-2-12-7-12 3zM2376 578l12-3-12-7-12 3z"/><path fill="#c07030" d="M1897 601l12-6-12-2-12 5zM1921 598l12-5-12-3-12 5zM2424 559l12-2-12-7-12 3zM2436 557l12-2-12-6-12 1zM2448 555l12-2-12-6-12 2zM2460 553l12-2-12-6-12 2z"/><path fill="#b06830" d="M1873 596l12-6-12-1-12 5z"/><path fill="#b06828" d="M1861 594l12-5-12-2-12 5zM1885 590l12-5-12-2-12 6zM2484 542l12-1-12-7-12 2zM2496 541l12-2-12-6-12 1z"/><path fill="#986028" d="M1825 590l12-6-12-1-12 6zM1813 589l12-6-12 0-12 5zM1837 584l12-5-12-1-12 5zM2543 529l12-1-11-5-12 0zM2555 528l12 0-12-6-11 1z"/><path fill="#906028" d="M1801 588l12-5-12-1-12 6zM2567 521l12 0-12-6-12 1z"/><path fill="#785820" d="M1766 588l12-6-12 0-12 6zM1754 588l12-6-12 1-12 6zM1778 582l11-5-11 0-12 5z"/><path fill="#705820" d="M1742 589l12-6-12 1-12 5zM1766 582l12-5-12 1-12 5z"/><path fill="#685818" d="M1730 589l12-5-12 1-12 5z"/><path fill="#605018" d="M1718 590l12-5-12 1-12 6zM1742 584l12-6-12 2-12 5z"/><path fill="#484018" d="M1683 595l11-5-11 2-12 5zM1718 582l12-5-12 2-12 5z"/><path fill="#403810" d="M1671 597l12-5-12 2-12 6zM1706 584l12-5-12 2-12 5zM1742 572l12-5-12 2-12 5z"/><path fill="#d07838" d="M1957 608l12-6-12-3-12 5zM1981 606l12-5-12-4-12 5zM2340 577l12-3-12-7-12 3zM2388 575l12-2-12-7-12 2zM2400 573l12-3-12-7-12 3z"/><path fill="#c87030" d="M1933 601l12-5-12-3-12 5zM1957 599l12-5-12-4-12 6zM1981 597l12-5-12-4-12 6zM2388 566l12-3-12-6-12 2zM2400 563l12-2-12-6-12 2zM2412 561l12-2-12-6-12 2z"/><path fill="#b86830" d="M1909 595l12-5-12-3-12 6zM1897 593l12-6-12-2-12 5z"/><path fill="#a86028" d="M1873 589l12-6-12-2-12 6zM1897 585l12-5-12-2-12 5zM2496 533l12-1-12-6-12 1z"/><path fill="#a06028" d="M1861 587l12-6-12-1-12 5zM1849 585l12-5-12-1-12 5zM2508 532l12-1-12-6-12 1zM2520 531l12-1-12-6-12 1zM2532 530l11-1-11-6-12 1z"/><path fill="#905828" d="M1825 583l12-5-12-1-12 6zM1849 579l12-5-12-1-12 5zM2544 523l11-1-11-6-12 1zM2555 522l12-1-12-5-11 0z"/><path fill="#885820" d="M1813 583l12-6-12 0-12 5zM1801 582l12-5-12 0-12 5zM1825 577l12-5-12 0-12 5zM2555 516l12-1-12-5-11 0zM2567 515l12 0-12-5-12 0z"/><path fill="#805820" d="M1789 582l12-5-12 0-11 5z"/><path fill="#685020" d="M1754 583l12-5-12 0-12 6z"/><path fill="#584818" d="M1718 586l12-5-12 1-12 6zM1742 580l12-6-12 2-12 5z"/><path fill="#504018" d="M1706 588l12-6-12 2-12 6zM1730 581l12-5-12 1-12 5zM1742 576l12-6-12 2-12 5zM1766 569l12-5-12 1-12 5z"/><path fill="#404010" d="M1694 590l12-6-12 2-11 6z"/><path fill="#d07030" d="M1969 602l12-5-12-3-12 5zM1993 601l12-5-12-4-12 5zM2017 600l12-5-12-4-12 5zM2304 576l12-3-12-6-12 3zM2352 574l12-3-12-6-12 2zM2364 571l12-3-12-6-12 3zM2376 568l12-2-12-7-12 3z"/><path fill="#c06830" d="M1945 596l12-6-12-3-12 6zM1933 593l12-6-12-2-12 5zM2376 559l12-2-12-6-12 2z"/><path fill="#b86030" d="M1921 590l12-5-12-3-12 5zM1945 587l12-5-12-3-12 6zM1969 585l12-5-12-3-12 5zM2424 550l12-1-12-7-12 2zM2436 549l12-2-12-6-12 1zM2448 547l12-2-12-6-12 2z"/><path fill="#b06028" d="M1909 587l12-5-12-2-12 5zM1933 585l12-6-12-2-12 5z"/><path fill="#a85828" d="M1885 583l12-5-12-2-12 5zM1909 580l12-5-12-2-12 5zM1933 577l12-5-12-2-12 5zM2460 537l12-1-12-6-12 1zM2472 536l12-2-12-6-12 2zM2484 534l12-1-12-6-12 1z"/><path fill="#a05828" d="M1873 581l12-5-12-1-12 5zM1897 578l12-5-12-2-12 5zM1885 576l12-5-12-1-12 5zM2484 527l12-1-12-6-12 2z"/><path fill="#985828" d="M1861 580l12-5-12-1-12 5zM2496 526l12-1-12-6-12 1zM2508 525l12-1-12-6-12 1zM2520 524l12-1-12-5-12 0zM2532 523l12 0-12-6-12 1z"/><path fill="#905820" d="M1837 578l12-5-12-1-12 5z"/><path fill="#805020" d="M1813 577l12-5-12-1-12 6zM1825 572l12-6-12 0-12 5zM2544 510l11 0-11-5-12 0zM2555 510l12 0-11-5-12 0z"/><path fill="#785020" d="M1801 577l12-6-12 0-12 6zM1789 577l12-6-12 1-11 5zM1813 571l12-5-12 0-12 5z"/><path fill="#705020" d="M1778 577l11-5-11 0-12 6z"/><path fill="#685018" d="M1766 578l12-6-12 1-12 5z"/><path fill="#604818" d="M1754 578l12-5-12 1-12 6zM1778 572l11-5-11 1-12 5zM1766 573l12-5-12 1-12 5z"/><path fill="#383010" d="M1694 586l12-5-11 2-12 6zM1730 574l12-5-12 2-12 5zM1766 562l12-5-12 2-12 5z"/><path fill="#d87838" d="M2017 609l12-5-12-4-12 5zM2005 605l12-5-12-4-12 5zM2041 609l12-5-12-5-12 5zM2029 604l12-5-12-4-12 5zM2065 609l12-5-12-5-12 5zM2053 604l12-5-12-5-12 5zM2089 609l12-5-12-5-12 5zM2077 604l12-5-12-5-12 5zM2113 609l12-4-12-6-12 5zM2101 604l12-5-12-5-12 5zM2125 605l12-5-12-5-12 4zM2148 606l12-4-11-6-12 4zM2160 602l12-5-11-5-12 4zM2184 603l12-4-12-6-12 4zM2196 599l12-4-12-6-12 4zM2220 601l12-4-12-6-12 4zM2232 597l12-4-12-6-12 4zM2244 593l12-3-12-6-12 3zM2256 590l12-4-12-6-12 4zM2280 593l12-4-12-6-12 3zM2292 589l12-3-12-7-12 4zM2304 586l12-3-12-7-12 3zM2316 583l12-3-12-7-12 3zM2328 580l12-3-12-7-12 3z"/><path fill="#c86830" d="M1969 594l12-6-12-3-12 5zM1993 592l12-5-12-4-12 5zM2017 591l12-5-12-4-12 5zM2041 590l12-5-12-4-12 5zM2340 567l12-2-12-7-12 3zM2352 565l12-3-12-6-12 2zM2364 562l12-3-12-6-12 3z"/><path fill="#c06030" d="M1957 590l12-5-12-3-12 5zM1981 588l12-5-12-3-12 5zM2005 587l12-5-12-3-12 4zM2340 558l12-2-12-6-12 2zM2388 557l12-2-12-6-12 2zM2400 555l12-2-12-7-12 3zM2412 553l12-3-12-6-12 2z"/><path fill="#b05828" d="M1921 582l12-5-12-2-12 5zM1945 579l12-5-12-2-12 5zM1969 577l12-5-12-2-12 4zM2424 542l12-1-12-6-12 1zM2436 541l12-2-12-6-12 2zM2448 539l12-2-12-6-12 2z"/><path fill="#985028" d="M1873 575l12-5-12-2-12 6zM1897 571l12-5-12-1-12 5zM2472 522l12-2-12-5-12 1zM2484 520l12-1-12-5-12 1z"/><path fill="#905020" d="M1861 574l12-6-12-1-12 6zM1873 568l12-5-12-1-12 5zM2508 518l12 0-12-6-12 1zM2520 518l12-1-12-5-12 0zM2532 517l12-1-12-5-12 1z"/><path fill="#885020" d="M1849 573l12-6-12 0-12 5zM1837 572l12-5-12-1-12 6zM2544 516l11 0-11-6-12 1z"/><path fill="#704820" d="M1801 571l12-5-12 1-12 5z"/><path fill="#684818" d="M1789 572l12-5-12 0-11 5zM1801 567l12-5-12 0-12 5z"/><path fill="#584018" d="M1754 574l12-5-12 1-12 6zM1778 568l11-5-11 1-12 5zM1789 563l12-5-12 1-11 5z"/><path fill="#483810" d="M1730 577l12-5-12 2-12 5zM1754 570l12-5-12 2-12 5zM1766 565l12-5-12 2-12 5zM1789 559l12-5-11 2-12 4z"/><path fill="#282808" d="M1695 583l11-5-11 3-12 5zM1730 571l12-5-12 2-12 5z"/><path fill="#d06830" d="M2005 596l12-5-12-4-12 5zM2029 595l12-5-12-4-12 5zM2053 594l12-5-12-4-12 5zM2065 589l12-4-12-4-12 4zM2089 589l12-4-12-5-12 5zM2113 590l12-5-12-4-12 4zM2149 586l12-4-12-5-12 4zM2185 583l12-4-12-5-12 4zM2220 581l12-3-11-6-12 4zM2232 578l12-4-11-6-12 4zM2268 577l12-4-12-6-12 4zM2280 573l12-3-12-6-12 3zM2316 573l12-3-12-6-12 3zM2328 570l12-3-12-6-12 3z"/><path fill="#b85828" d="M1957 582l12-5-12-3-12 5zM2400 546l12-2-12-6-12 2zM2412 544l12-2-12-6-12 2z"/><path fill="#a85028" d="M1921 575l12-5-12-2-12 5zM1945 572l12-5-12-2-12 5zM1969 570l12-5-12-3-12 5zM2412 536l12-1-12-6-12 2zM2424 535l12-2-12-6-12 2zM2436 533l12-2-12-5-12 1zM2448 531l12-1-12-6-12 2z"/><path fill="#a05028" d="M1909 573l12-5-12-2-12 5zM1933 570l12-5-12-2-12 5zM2460 530l12-2-12-5-12 1zM2472 528l12-1-12-5-12 1z"/><path fill="#905028" d="M1885 570l12-5-12-2-12 5zM2496 519l12-1-12-5-12 1z"/><path fill="#884820" d="M1861 567l12-5-12 0-12 5zM1885 563l12-4-12-1-12 4zM2496 513l12-1-12-5-12 1zM2508 512l12 0-12-6-12 1zM2520 512l12-1-12-5-12 0z"/><path fill="#804820" d="M1849 567l12-5-12-1-12 5zM1873 562l12-4-12-1-12 5zM1861 562l12-5-12-1-12 5zM2532 511l12-1-12-5-12 1zM2520 506l12-1-12-5-12 1z"/><path fill="#784820" d="M1837 566l12-5-12 0-12 5zM1825 566l12-5-12 0-12 5zM1849 561l12-5-12 0-12 5zM2532 505l12 0-12-5-12 0zM2544 505l12 0-12-5-12 0z"/><path fill="#704818" d="M1813 566l12-5-12 1-12 5z"/><path fill="#604018" d="M1789 567l12-5-12 1-11 5zM1813 562l12-5-12 0-12 5zM1801 562l12-5-12 1-12 5z"/><path fill="#302810" d="M1718 576l12-5-12 2-12 5zM1742 569l12-5-12 2-12 5zM1754 564l12-5-12 2-12 5z"/><path fill="#d87038" d="M2041 599l12-5-12-4-12 5zM2065 599l12-5-12-5-12 5zM2089 599l12-5-12-5-12 5zM2113 599l12-4-12-5-12 4zM2137 600l12-4-12-6-12 5zM2149 596l12-4-12-6-12 4zM2172 597l12-4-11-6-12 5zM2184 593l12-4-11-6-12 4zM2208 595l12-4-12-6-12 4zM2220 591l12-4-12-6-12 4zM2232 587l12-3-12-6-12 3zM2268 586l12-3-12-6-12 3zM2280 583l12-4-12-6-12 4zM2292 579l12-3-12-6-12 3z"/><path fill="#c05830" d="M1993 583l12-4-12-4-12 5zM2017 582l12-5-12-3-12 5zM2041 581l12-5-12-3-12 4zM2029 577l12-4-12-4-12 5zM2053 576l12-4-12-4-12 5zM2077 576l12-4-12-4-12 4zM2257 562l12-4-12-5-12 3zM2292 561l12-3-11-6-12 3zM2304 558l12-3-11-5-12 2zM2316 555l12-3-11-5-12 3zM2328 552l12-2-11-6-12 3zM2352 556l12-3-12-6-12 3zM2364 553l12-2-12-6-12 2z"/><path fill="#b85830" d="M1981 580l12-5-12-3-12 5zM2005 579l12-5-12-3-12 4zM2376 551l12-2-12-6-12 2zM2388 549l12-3-12-6-12 3z"/><path fill="#b05028" d="M1957 574l12-4-12-3-12 5zM1981 572l12-5-12-2-12 5zM2005 571l12-5-12-3-12 4zM2376 543l12-3-12-5-11 2zM2388 540l12-2-12-5-12 2zM2400 538l12-2-12-5-12 2z"/><path fill="#984828" d="M1921 568l12-5-12-2-12 5zM1909 566l12-5-12-1-12 5zM1933 563l12-5-12-2-12 5zM2460 523l12-1-12-6-12 2z"/><path fill="#904820" d="M1897 565l12-5-12-1-12 4zM1921 561l12-5-12-1-12 5zM2448 518l12-2-12-5-12 1zM2460 516l12-1-12-5-12 1zM2472 515l12-1-12-5-12 1zM2484 514l12-1-12-5-12 1z"/><path fill="#704020" d="M1837 561l12-5-12 0-12 5zM1861 556l12-4-12 0-12 4zM2520 500l12 0-12-5-12 1zM2532 500l12 0-12-5-12 0z"/><path fill="#684018" d="M1825 561l12-5-12 1-12 5zM1837 556l12-4-12 0-12 5z"/><path fill="#503818" d="M1778 564l11-5-11 1-12 5zM1801 558l12-5-12 1-12 5z"/><path fill="#403010" d="M1754 567l12-5-12 2-12 5zM1778 560l12-4-12 1-12 5zM1790 556l11-5-11 2-12 4zM1813 550l12-5-12 1-12 5z"/><path fill="#c86030" d="M2029 586l12-5-12-4-12 5zM2053 585l12-4-12-5-12 5zM2077 585l12-5-12-4-12 5zM2113 581l12-5-12-4-12 4zM2221 572l12-4-12-5-12 4zM2256 571l12-4-11-5-12 3zM2268 567l12-3-11-6-12 4zM2304 567l12-3-12-6-12 3zM2316 564l12-3-12-6-12 3zM2328 561l12-3-12-6-12 3z"/><path fill="#b85028" d="M1993 575l12-4-12-4-12 5zM2017 574l12-5-12-3-12 5zM2041 573l12-5-12-3-12 4zM2029 569l12-4-12-4-12 5zM2053 568l12-4-12-4-12 5zM2077 568l12-5-12-4-12 5zM2257 553l12-3-12-5-12 3zM2293 552l12-2-12-6-12 3zM2305 550l12-3-12-6-12 3zM2317 547l12-3-12-5-12 2zM2340 550l12-3-11-5-12 2zM2352 547l12-2-11-6-12 3zM2364 545l12-2-11-6-12 2z"/><path fill="#a04828" d="M1957 567l12-5-12-2-12 5zM1945 565l12-5-12-2-12 5zM1969 562l12-4-12-3-12 5zM2412 529l12-2-12-5-12 2zM2424 527l12-1-12-6-12 2zM2436 526l12-2-12-5-12 1zM2448 524l12-1-12-5-12 1z"/><path fill="#904020" d="M1909 560l12-5-12-1-12 5zM1933 556l12-4-12-2-12 5zM1957 553l12-4-12-2-12 5zM2413 515l11-1-11-5-12 1zM2424 514l12-2-11-4-12 1zM2436 512l12-1-12-5-11 2z"/><path fill="#884020" d="M1897 559l12-5-12-1-12 5zM1921 555l12-5-12-1-12 5zM1945 552l12-5-12-1-12 4zM2448 511l12-1-12-5-12 1zM2460 510l12-1-12-5-12 1zM2472 509l12-1-12-5-12 1z"/><path fill="#804020" d="M1885 558l12-5-12-1-12 5zM1909 554l12-5-12-1-12 5zM1897 553l12-5-12-1-12 5zM2484 508l12-1-12-5-12 1zM2496 507l12-1-12-4-12 0zM2508 506l12 0-12-5-12 1z"/><path fill="#784020" d="M1873 557l12-5-12 0-12 4zM1885 552l12-5-12 0-12 5zM2496 502l12-1-12-5-12 1zM2508 501l12-1-12-4-12 0z"/><path fill="#704018" d="M1849 556l12-4-12 0-12 4z"/><path fill="#603818" d="M1825 557l12-5-12 0-12 5zM1849 552l12-5-12 0-12 5zM1837 552l12-5-12 1-12 4zM1861 547l12-5-12 1-12 4z"/><path fill="#583818" d="M1813 557l12-5-12 1-12 5zM1825 552l12-4-12 1-12 4z"/><path fill="#282008" d="M1742 566l12-5-12 2-12 5zM1766 559l12-5-12 2-12 5zM1778 554l12-4-12 2-12 4zM1801 548l12-5-11 2-12 5z"/><path fill="#d86830" d="M2077 594l12-5-12-4-12 4zM2137 590l12-4-12-5-12 4zM2173 587l12-4-12-5-12 4zM2208 585l12-4-11-5-12 3zM2256 580l12-3-12-6-12 3z"/><path fill="#a84828" d="M1993 567l12-4-12-3-12 5zM1981 565l12-5-12-2-12 4zM2005 563l12-5-12-2-12 4zM2029 561l12-4-12-3-12 4zM2329 536l12-2-12-5-12 2zM2341 534l12-2-12-5-12 2zM2376 535l12-2-11-6-12 2zM2388 533l12-2-11-5-12 1zM2400 531l12-2-12-5-11 2z"/><path fill="#984028" d="M1957 560l12-5-12-2-12 5zM2365 522l12-2-12-4-12 2zM2412 522l12-2-11-5-12 2z"/><path fill="#984020" d="M1945 558l12-5-12-1-12 4zM1969 555l12-4-12-2-12 4zM1993 553l12-4-12-2-12 4zM1981 551l12-4-12-2-12 4zM2005 549l12-5-12-2-12 5zM2029 547l12-4-12-3-12 4zM2377 520l12-1-12-5-12 2zM2389 519l12-2-12-5-12 2zM2401 517l12-2-12-5-12 2zM2424 520l12-1-12-5-11 1zM2436 519l12-1-12-6-12 2z"/><path fill="#703818" d="M1873 552l12-5-12 0-12 5zM1897 547l12-4-12 0-12 4zM1885 547l12-4-12-1-12 5zM1909 543l12-4-12-1-12 5zM2484 497l12-1-12-4-12 1zM2496 496l12 0-12-4-12 0zM2508 496l12-1-12-4-12 1z"/><path fill="#683818" d="M1861 552l12-5-12 0-12 5zM1873 547l12-5-12 0-12 5zM2520 495l12 0-12-4-12 0z"/><path fill="#503010" d="M1813 553l12-4-12 1-12 4zM1849 543l12-4-12 1-12 4z"/><path fill="#483010" d="M1801 554l12-4-12 1-11 5zM1825 549l12-5-12 1-12 5z"/><path fill="#382810" d="M1778 557l12-4-12 1-12 5zM1801 551l12-5-12 2-11 5zM1813 546l12-4-12 1-12 5zM1837 541l12-5-12 2-12 4z"/><path fill="#201808" d="M1754 561l12-5-12 3-12 4zM1742 563l12-4-12 2-12 5zM1766 556l12-4-12 2-12 5zM1754 559l12-5-12 2-12 5zM1790 550l12-5-12 2-12 5zM1778 552l12-5-12 3-12 4zM1766 554l12-4-12 2-12 4zM1754 556l12-4-12 3-12 4zM1802 545l11-4-11 2-12 4zM1790 547l12-4-12 2-12 5zM1778 550l12-5-12 3-12 4zM1766 552l12-4-12 2-12 5zM1825 539l12-4-12 2-12 4zM1813 541l12-4-12 2-11 4zM1802 543l11-4-11 2-12 4zM1790 545l12-4-12 2-12 5zM1778 548l12-5-12 3-12 4zM1837 535l12-4-12 2-12 4zM1825 537l12-4-12 2-12 4zM1813 539l12-4-11 2-12 4zM1802 541l12-4-12 2-12 4zM1790 543l12-4-12 3-12 4zM1778 546l12-4-12 3-12 4zM1861 529l12-4-12 2-12 4zM1849 531l12-4-12 2-12 4zM1837 533l12-4-12 2-12 4zM1825 535l12-4-12 2-11 4zM1814 537l11-4-11 2-12 4zM1802 539l12-4-12 3-12 4zM1790 542l12-4-12 3-12 4zM1849 529l12-4-12 2-12 4zM1837 531l12-4-12 2-12 4zM1825 533l12-4-11 2-12 4zM1814 535l12-4-12 3-12 4zM1802 538l12-4-12 3-12 4zM1897 520l12-3-12 1-12 4zM1861 525l12-4-12 2-12 4zM1849 527l12-4-12 2-12 4zM1837 529l12-4-12 3-11 3zM1826 531l11-3-11 2-12 4zM1814 534l12-4-12 3-12 4zM1802 537l12-4-12 3-12 4zM1873 521l12-4-12 2-12 4zM1861 523l12-4-12 3-12 3zM1849 525l12-3-12 2-12 4zM1837 528l12-4-12 3-11 3zM1826 530l11-3-11 3-12 3zM1814 533l12-3-12 3-12 3zM1873 519l12-3-12 2-12 4zM1861 522l12-4-12 3-12 3zM1849 524l12-3-12 2-12 4zM1837 527l12-4-11 3-12 4zM1826 530l12-4-12 3-12 4zM1885 516l12-4-12 3-12 3zM1873 518l12-3-12 2-12 4zM1861 521l12-4-12 3-12 3zM1849 523l12-3-12 3-11 3zM1838 526l11-3-11 3-12 3zM1897 512l12-3-12 2-12 4zM1885 515l12-4-12 3-12 3zM1873 517l12-3-12 2-12 4zM1861 520l12-4-12 3-12 4zM1849 523l12-4-11 3-12 4zM1909 509l12-3-12 2-12 3zM1897 511l12-3-12 3-12 3zM1885 514l12-3-12 2-12 3zM1873 516l12-3-12 3-12 3zM1861 519l12-3-12 3-11 3zM1921 506l12-3-12 2-12 3zM1909 508l12-3-12 3-12 3zM1897 511l12-3-12 2-12 3zM1885 513l12-3-12 3-12 3zM1921 505l12-3-12 3-12 3zM1909 508l12-3-12 2-12 3zM1897 510l12-3-12 3-12 3zM1933 502l12-3-12 3-12 3zM1921 505l12-3-12 2-12 3zM1945 499l12-2-12 2-12 3zM1933 502l12-3-12 3-12 2zM1957 497l12-3-12 2-12 3zM1945 499l12-3-12 3-12 3zM1969 494l12-3-12 3-12 2zM1981 491l12-2-12 2-12 3z"/><path fill="#d87030" d="M2101 594l12-4-12-5-12 4zM2125 595l12-5-12-5-12 5zM2161 592l12-5-12-5-12 4zM2196 589l12-4-11-6-12 4zM2244 584l12-4-12-6-12 4z"/><path fill="#c85830" d="M2065 581l12-5-12-4-12 4zM2089 580l12-4-12-4-12 4zM2101 576l12-4-12-5-12 5zM2125 576l12-4-12-5-12 5zM2149 577l12-4-12-5-12 4zM2137 572l12-4-12-5-12 4zM2161 573l12-4-12-5-12 4zM2185 574l12-4-12-5-12 4zM2197 570l12-3-12-6-12 4zM2209 567l12-4-12-5-12 3zM2233 568l12-3-12-5-12 3zM2245 565l12-3-12-6-12 4zM2280 564l12-3-11-6-12 3z"/><path fill="#b04828" d="M2017 566l12-5-12-3-12 5zM2041 565l12-5-12-3-12 4zM2065 564l12-5-12-3-12 4zM2053 560l12-4-12-3-12 4zM2077 559l12-4-12-3-12 4zM2101 559l12-4-12-4-12 4zM2089 555l12-4-12-3-12 4zM2113 555l12-4-12-4-12 4zM2137 555l12-4-12-4-12 4zM2149 551l12-3-12-4-12 3zM2185 549l12-4-12-4-12 3zM2221 546l12-3-12-4-12 3zM2257 545l12-3-12-5-12 3zM2269 542l12-3-12-5-12 3zM2293 544l12-3-12-5-12 3zM2305 541l12-2-12-5-12 2zM2329 544l12-2-12-6-12 3zM2317 539l12-3-12-5-12 3zM2341 542l12-3-12-5-12 2zM2353 539l12-2-12-5-12 2zM2365 537l11-2-11-6-12 3z"/><path fill="#a04028" d="M1993 560l12-4-12-3-12 5zM1981 558l12-5-12-2-12 4zM2005 556l12-5-12-2-12 4zM2029 554l12-4-12-3-12 4zM2017 551l12-4-12-3-12 5zM2041 550l12-4-12-3-12 4zM2065 549l12-4-12-3-12 4zM2053 546l12-4-12-3-12 4zM2077 545l12-4-12-3-12 4zM2101 544l12-4-12-3-12 4zM2293 529l12-3-12-4-12 2zM2305 526l12-2-12-5-12 3zM2329 529l12-2-12-5-12 2zM2341 527l12-3-12-4-12 2zM2365 529l12-2-12-5-12 2zM2353 524l12-2-12-4-12 2zM2377 527l12-1-12-6-12 2zM2389 526l11-2-11-5-12 1zM2400 524l12-2-11-5-12 2z"/><path fill="#883820" d="M1933 550l12-4-12-1-12 4zM1957 547l12-4-12-2-12 5zM1981 545l12-5-12-1-12 4zM1969 543l12-4-12-2-12 4zM1993 540l12-4-12-2-12 5zM2017 538l12-4-12-2-12 4zM2365 509l12-2-12-4-12 2zM2377 507l12-1-12-4-12 1zM2401 510l12-1-12-5-12 2zM2389 506l12-2-12-4-12 2zM2413 509l12-1-12-5-12 1zM2425 508l11-2-11-4-12 1zM2436 506l12-1-11-4-12 1z"/><path fill="#803820" d="M1921 549l12-4-12-1-12 4zM1945 546l12-5-12-1-12 5zM1933 545l12-5-12-1-12 5zM1957 541l12-4-12-1-12 4zM2401 504l12-1-12-4-12 1zM2413 503l12-1-12-5-12 2zM2448 505l12-1-12-4-11 1zM2460 504l12-1-12-4-12 1zM2472 503l12-1-12-4-12 1z"/><path fill="#783820" d="M1909 548l12-4-12-1-12 4zM2448 500l12-1-12-5-11 1zM2460 499l12-1-12-5-12 1zM2484 502l12 0-12-5-12 1z"/><path fill="#583018" d="M1849 547l12-4-12 0-12 5zM1873 542l12-4-12 0-12 5zM1861 543l12-5-12 1-12 4zM1885 538l12-4-12 0-12 4z"/><path fill="#503018" d="M1837 548l12-5-12 1-12 5zM1873 538l12-4-12 1-12 4z"/><path fill="#302010" d="M1790 553l11-5-11 2-12 4zM1825 542l12-4-12 1-12 4zM1861 532l12-4-12 1-12 4z"/><path fill="#d06030" d="M2101 585l12-4-12-5-12 4zM2125 585l12-4-12-5-12 5zM2137 581l12-4-12-5-12 4zM2161 582l12-4-12-5-12 4zM2173 578l12-4-12-5-12 4zM2197 579l12-3-12-6-12 4zM2209 576l12-4-12-5-12 3zM2244 574l12-3-11-6-12 3zM2292 570l12-3-12-6-12 3z"/><path fill="#c05030" d="M2065 572l12-4-12-4-12 4zM2089 572l12-5-12-4-12 5zM2113 572l12-5-12-4-12 4zM2125 567l12-4-12-4-12 4zM2149 568l12-4-12-4-12 3zM2161 564l12-4-12-4-12 4zM2185 565l12-4-12-4-12 3zM2197 561l12-3-12-5-12 4zM2221 563l12-3-12-6-12 4zM2233 560l12-4-12-5-12 3zM2269 558l12-3-12-5-12 3zM2281 555l12-3-12-5-12 3z"/><path fill="#a84028" d="M2017 558l12-4-12-3-12 5zM2041 557l12-4-12-3-12 4zM2065 556l12-4-12-3-12 4zM2053 553l12-4-12-3-12 4zM2077 552l12-4-12-3-12 4zM2101 551l12-4-12-3-12 4zM2089 548l12-4-12-3-12 4zM2113 547l12-3-12-4-12 4zM2137 547l12-3-12-4-12 4zM2125 544l12-4-12-4-12 4zM2149 544l12-4-12-4-12 4zM2173 544l12-3-12-4-12 3zM2161 540l12-3-12-4-12 3zM2185 541l12-4-12-4-12 4zM2209 542l12-3-12-5-12 3zM2197 537l12-3-12-4-12 3zM2221 539l12-4-12-4-12 3zM2233 535l12-2-12-5-12 3zM2257 537l12-3-12-4-12 3zM2245 533l12-3-12-5-12 3zM2269 534l12-2-12-5-12 3zM2293 536l12-2-12-5-12 3zM2281 532l12-3-12-5-12 3zM2305 534l12-3-12-5-12 3zM2317 531l12-2-12-5-12 2zM2353 532l12-3-12-5-12 3z"/><path fill="#903820" d="M1969 549l12-4-12-2-12 4zM1993 547l12-5-12-2-12 5zM2005 542l12-4-12-2-12 4zM2029 540l12-4-12-2-12 4zM2041 536l12-4-12-2-12 4zM2065 535l12-4-12-2-12 3zM2281 518l12-3-12-4-12 2zM2293 515l12-2-12-4-12 2zM2329 515l12-2-12-4-12 2zM2341 513l12-2-12-4-12 2zM2365 516l12-2-12-5-12 2zM2353 511l12-2-12-4-12 2zM2377 514l12-2-12-5-12 2zM2389 512l12-2-12-4-12 1z"/><path fill="#783818" d="M1921 544l12-5-12 0-12 4zM2472 498l12-1-12-4-12 0z"/><path fill="#683018" d="M1897 543l12-5-12 0-12 4zM1909 538l12-4-12 0-12 4zM1933 534l12-4-12 0-12 4zM2448 489l12 0-12-4-11 1zM2472 493l12-1-12-4-12 1zM2460 489l12-1-12-4-12 1zM2484 492l12 0-12-5-12 1zM2496 492l12-1-12-4-12 0z"/><path fill="#603018" d="M1885 542l12-4-12 0-12 4zM1897 538l12-4-12 0-12 4zM1921 534l12-4-12-1-12 5zM2472 488l12-1-12-3-12 0zM2484 487l12 0-12-4-12 1zM2508 491l12 0-12-4-12 0zM2496 487l12 0-12-4-12 0z"/><path fill="#482810" d="M1837 544l12-4-12 1-12 4zM1861 539l12-4-12 0-12 5zM1873 535l12-5-12 1-12 4zM1897 530l12-4-12 0-12 4z"/><path fill="#402810" d="M1825 545l12-4-12 1-12 4zM1849 540l12-5-12 1-12 5zM1861 535l12-4-12 1-12 4z"/><path fill="#783020" d="M1945 540l12-4-12-1-12 4zM1981 533l12-4-12-1-12 4zM2353 499l12-1-12-4-12 1zM2365 498l12-2-12-4-12 2zM2401 499l12-2-12-4-12 2zM2437 501l11-1-11-5-12 1z"/><path fill="#703018" d="M1933 539l12-4-12-1-12 5zM1921 539l12-5-12 0-12 4zM1945 535l12-4-12-1-12 4zM1969 532l12-4-12-1-12 4zM1957 531l12-4-12-1-12 4zM1981 528l12-4-12-1-12 4zM2401 493l12-1-12-4-12 2zM2413 492l12-1-12-4-12 1zM2437 495l11-1-11-4-12 1zM2425 491l12-1-12-4-12 1zM2448 494l12-1-12-4-11 1zM2460 493l12 0-12-4-12 0z"/><path fill="#281808" d="M1813 543l12-4-12 2-11 4zM1849 533l12-4-12 2-12 4zM1885 524l12-4-12 2-12 3zM1921 516l12-4-12 1-12 4z"/><path fill="#c05028" d="M2101 567l12-4-12-4-12 4zM2137 563l12-3-12-5-12 4zM2173 560l12-3-12-5-12 4zM2209 558l12-4-12-4-12 3zM2245 556l12-3-12-5-12 3z"/><path fill="#b84828" d="M2089 563l12-4-12-4-12 4zM2113 563l12-4-12-4-12 4zM2125 559l12-4-12-4-12 4zM2149 560l12-4-12-5-12 4zM2161 556l12-4-12-4-12 3zM2185 557l12-4-12-4-12 3zM2173 552l12-3-12-5-12 4zM2197 553l12-3-12-5-12 4zM2221 554l12-3-12-5-12 4zM2209 550l12-4-12-4-12 3zM2233 551l12-3-12-5-12 3zM2245 548l12-3-12-5-12 3zM2269 550l12-3-12-5-12 3zM2281 547l12-3-12-5-12 3z"/><path fill="#983820" d="M2017 544l12-4-12-2-12 4zM2041 543l12-4-12-3-12 4zM2065 542l12-4-12-3-12 4zM2053 539l12-4-12-3-12 4zM2077 538l12-4-12-3-12 4zM2101 537l12-4-12-3-12 4zM2089 534l12-4-12-3-12 4zM2113 533l12-3-12-3-12 3zM2137 533l12-4-12-3-12 4zM2125 530l12-4-12-3-12 4zM2149 529l12-3-12-3-12 3zM2173 530l12-4-12-3-12 3zM2185 526l12-3-12-3-12 3zM2209 527l12-3-12-4-12 3zM2197 523l12-3-12-3-12 3zM2221 524l12-3-12-3-12 2zM2245 525l12-2-12-4-12 2zM2233 521l12-2-12-4-12 3zM2257 523l12-3-12-4-12 3zM2269 520l12-2-12-5-12 3zM2293 522l12-3-12-4-12 3zM2305 519l12-2-12-4-12 2zM2329 522l12-2-12-5-12 2zM2317 517l12-2-12-4-12 2zM2341 520l12-2-12-5-12 2zM2353 518l12-2-12-5-12 2z"/><path fill="#803020" d="M1981 539l12-5-12-1-12 4zM1969 537l12-4-12-1-12 4zM1993 534l12-4-12-1-12 4zM2017 532l12-4-12-2-12 4zM2005 530l12-4-12-1-12 4zM2029 528l12-4-12-1-12 3zM2053 526l12-3-12-2-12 3zM2041 524l12-3-12-2-12 4zM2065 523l12-4-12-2-12 4zM2089 521l12-3-12-2-12 3zM2101 518l12-3-12-3-12 4zM2125 517l12-3-12-3-12 4zM2161 514l12-3-12-3-12 3zM2281 505l12-2-12-4-12 2zM2293 503l12-2-12-4-12 2zM2317 505l12-2-12-4-12 2zM2305 501l12-2-12-4-12 2zM2329 503l12-2-12-4-12 2zM2341 501l12-2-12-4-12 2zM2365 503l12-1-12-4-12 1zM2377 502l12-2-12-4-12 2zM2389 500l12-1-12-4-12 1zM2425 502l12-1-12-5-12 1z"/><path fill="#783018" d="M1957 536l12-4-12-1-12 4zM1993 529l12-4-12-1-12 4zM2017 526l12-3-12-2-12 4zM2377 496l12-1-12-4-12 1zM2389 495l12-2-12-3-12 1zM2413 497l12-1-12-4-12 1zM2425 496l12-1-12-4-12 1z"/><path fill="#582818" d="M1909 534l12-5-12 1-12 4zM1897 534l12-4-12 0-12 4zM1921 529l12-4-12 0-12 5zM1945 526l12-4-12-1-12 4zM1933 525l12-4-12 1-12 3zM1957 522l12-4-12 0-12 3zM2425 482l12-1-12-3-12 1zM2437 481l11 0-11-4-12 1zM2460 484l12 0-12-4-12 1zM2472 484l12-1-12-3-12 0zM2484 483l12 0-12-4-12 1z"/><path fill="#502810" d="M1885 534l12-4-12 0-12 5zM1909 530l12-5-12 1-12 4zM1921 525l12-3-12 0-12 4zM2448 481l12-1-12-3-11 0zM2460 480l12 0-12-4-12 1zM2472 480l12-1-12-3-12 0z"/><path fill="#382010" d="M1849 536l12-4-12 1-12 5zM1873 531l12-4-12 1-12 4zM1885 527l12-4-12 1-12 4zM1909 522l12-3-12 0-12 4z"/><path fill="#302008" d="M1837 538l12-5-12 2-12 4z"/><path fill="#883020" d="M2005 536l12-4-12-2-12 4zM2029 534l12-4-12-2-12 4zM2053 532l12-3-12-3-12 4zM2041 530l12-4-12-2-12 4zM2065 529l12-4-12-2-12 3zM2089 527l12-3-12-3-12 4zM2077 525l12-4-12-2-12 4zM2101 524l12-4-12-2-12 3zM2125 523l12-3-12-3-12 3zM2113 520l12-3-12-2-12 3zM2137 520l12-3-12-3-12 3zM2149 517l12-3-12-3-12 3zM2173 517l12-3-12-3-12 3zM2185 514l12-3-12-3-12 3zM2209 514l12-3-12-3-12 3zM2197 511l12-3-12-3-12 3zM2221 511l12-2-12-4-12 3zM2245 512l12-2-12-4-12 3zM2233 509l12-3-12-3-12 2zM2257 510l12-3-12-3-12 2zM2281 511l12-2-12-4-12 2zM2269 507l12-2-12-4-12 3zM2293 509l12-2-12-4-12 2zM2305 507l12-2-12-4-12 2zM2329 509l12-2-12-4-12 2zM2341 507l12-2-12-4-12 2zM2353 505l12-2-12-4-12 2z"/><path fill="#682818" d="M1945 530l12-4-12 0-12 4zM1969 527l12-4-12-1-12 4zM1981 523l12-4-12-1-12 4zM2005 520l12-4-12-1-12 4zM2017 516l12-3-12-1-12 3zM2041 514l12-3-12-2-12 4zM2053 511l12-4-12-1-12 3zM2077 509l12-4-12-1-12 3zM2113 504l12-3-12-2-12 3zM2305 490l12-2-12-3-12 2zM2317 488l12-1-12-3-12 1zM2329 487l12-2-12-3-12 2zM2353 489l12-2-12-3-12 1zM2365 487l12-1-12-3-12 1zM2389 490l12-2-12-3-12 1zM2377 486l12-1-12-3-12 1zM2401 488l12-1-12-3-12 1zM2413 487l12-1-12-3-12 1zM2437 490l11-1-11-3-12 0z"/><path fill="#602818" d="M1933 530l12-4-12-1-12 4zM1957 526l12-4-12 0-12 4zM1969 522l12-4-12 0-12 4zM1993 519l12-4-12 0-12 3zM1981 518l12-3-12-1-12 4zM2005 515l12-3-12-1-12 4zM2029 513l12-4-12-1-12 4zM2389 485l12-1-12-4-12 2zM2401 484l12-1-12-3-12 0zM2425 486l12 0-12-4-12 1zM2413 483l12-1-12-3-12 1zM2437 486l11-1-11-4-12 1zM2448 485l12-1-12-3-11 0z"/><path fill="#402010" d="M1885 530l12-4-12 1-12 4zM1897 526l12-4-12 1-12 4zM1921 522l12-4-12 1-12 3zM1933 518l12-4-12 1-12 4zM1957 514l12-4-12 1-12 3zM2436 474l12-1-12-3-12 1zM2448 473l12 0-12-3-12 0z"/><path fill="#482010" d="M1909 526l12-4-12 0-12 4zM1933 522l12-4-12 0-12 4zM1945 518l12-4-12 0-12 4zM1969 514l12-4-12 0-12 4zM1981 510l12-3-12 0-12 3zM2005 507l12-3-12 0-12 3zM2041 501l12-3-12-1-12 4zM2365 475l12-1-12-3-12 1zM2401 476l12-1-12-3-12 1zM2413 475l12-1-12-3-12 1zM2425 474l11 0-12-3-11 0zM2448 477l12-1-12-3-12 1zM2460 476l12 0-12-3-12 0z"/><path fill="#301808" d="M1873 528l12-4-12 1-12 4zM1909 519l12-3-12 1-12 3zM1945 511l12-3-12 0-12 4zM1981 504l12-3-12 0-12 3zM2365 468l12-1-12-2-12 1zM2413 468l11 0-12-2-11 0zM2424 468l12 0-12-3-12 1z"/><path fill="#c85030" d="M2173 569l12-4-12-5-12 4z"/><path fill="#b04028" d="M2125 551l12-4-12-3-12 3zM2161 548l12-4-12-4-12 4zM2197 545l12-3-12-5-12 4zM2233 543l12-3-12-5-12 4zM2245 540l12-3-12-4-12 2zM2281 539l12-3-12-4-12 2z"/><path fill="#a03828" d="M2089 541l12-4-12-3-12 4zM2113 540l12-4-12-3-12 4zM2137 540l12-4-12-3-12 3zM2125 536l12-3-12-3-12 3zM2149 536l12-3-12-4-12 4zM2173 537l12-4-12-3-12 3zM2161 533l12-3-12-4-12 3zM2185 533l12-3-12-4-12 4zM2209 534l12-3-12-4-12 3zM2197 530l12-3-12-4-12 3zM2221 531l12-3-12-4-12 3zM2233 528l12-3-12-4-12 3zM2257 530l12-3-12-4-12 2zM2269 527l12-3-12-4-12 3zM2281 524l12-2-12-4-12 2zM2317 524l12-2-12-5-12 2z"/><path fill="#702818" d="M2005 525l12-4-12-1-12 4zM1993 524l12-4-12-1-12 4zM2017 521l12-3-12-2-12 4zM2041 519l12-4-12-1-12 4zM2029 518l12-4-12-1-12 3zM2053 515l12-3-12-1-12 3zM2077 514l12-4-12-1-12 3zM2065 512l12-3-12-2-12 4zM2089 510l12-3-12-2-12 4zM2113 509l12-3-12-2-12 3zM2101 507l12-3-12-2-12 3zM2125 506l12-3-12-2-12 3zM2137 503l12-3-12-2-12 3zM2161 502l12-2-12-3-12 3zM2173 500l12-3-12-2-12 2zM2197 500l12-3-12-2-12 2zM2209 497l12-2-12-3-12 3zM2233 497l12-2-12-3-12 3zM2245 495l12-2-12-3-12 2zM2269 496l12-2-12-3-12 2zM2257 493l12-2-12-3-12 2zM2281 494l12-2-12-3-12 2zM2293 492l12-2-12-3-12 2zM2317 493l12-1-12-4-12 2zM2329 492l12-2-12-3-12 1zM2353 494l12-2-12-3-12 1zM2341 490l12-1-12-4-12 2zM2365 492l12-1-12-4-12 2zM2377 491l12-1-12-4-12 1z"/><path fill="#502010" d="M1945 521l12-3-12 0-12 4zM1957 518l12-4-12 0-12 4zM1981 514l12-3-12-1-12 4zM1993 511l12-4-12 0-12 3zM2017 508l12-4-12 0-12 3zM2029 504l12-3-12 0-12 3zM2053 502l12-3-12-1-12 3zM2065 499l12-3-12-1-12 3zM2089 497l12-3-12-1-12 3zM2245 481l12-1-12-2-12 1zM2293 479l12-2-12-2-12 1zM2329 478l12-1-12-3-12 2zM2341 477l12-1-12-3-12 1zM2365 478l12-1-12-2-12 1zM2353 476l12-1-12-3-12 1zM2377 477l12-1-12-2-12 1zM2389 476l12 0-12-3-12 1zM2413 479l12-1-12-3-12 1zM2425 478l12-1-12-3-12 1zM2437 477l11 0-12-3-11 0z"/><path fill="#301810" d="M1897 523l12-4-12 1-12 4zM1933 515l12-4-12 1-12 4zM1969 507l12-3-12 0-12 4zM2005 500l12-3-12 0-12 4z"/><path fill="#201008" d="M1873 525l12-3-12 1-12 4zM1861 527l12-4-12 2-12 4zM1885 522l12-4-12 1-12 4zM1873 523l12-4-12 2-12 4zM1909 517l12-4-12 1-12 4zM1897 518l12-4-12 2-12 3zM1885 519l12-3-12 1-12 4zM1921 513l12-4-12 2-12 3zM1909 514l12-3-12 1-12 4zM1897 516l12-4-12 2-12 3zM1885 517l12-3-12 2-12 3zM1945 508l12-3-12 1-12 3zM1933 509l12-3-12 1-12 4zM1921 511l12-4-12 2-12 3zM1909 512l12-3-12 2-12 3zM1897 514l12-3-12 1-12 4zM1957 505l12-3-12 1-12 3zM1945 506l12-3-12 1-12 3zM1933 507l12-3-12 2-12 3zM1921 509l12-3-12 1-12 4zM1909 511l12-4-12 2-12 3zM1981 501l12-3-12 1-12 3zM1969 502l12-3-12 1-12 3zM1957 503l12-3-12 1-12 3zM1945 504l12-3-12 1-12 4zM1933 506l12-4-12 2-12 3zM1921 507l12-3-12 2-12 3zM1993 498l12-3-12 1-12 3zM1981 499l12-3-12 1-12 3zM1969 500l12-3-12 1-12 3zM1957 501l12-3-12 1-12 3zM1945 502l12-3-12 2-12 3zM1933 504l12-3-12 2-12 3zM2017 494l12-2-12 0-12 3zM2005 495l12-3-12 1-12 3zM1993 496l12-3-12 1-12 3zM1981 497l12-3-12 1-12 3zM1969 498l12-3-12 1-12 3zM1957 499l12-3-12 2-12 3zM1945 501l12-3-12 2-12 3zM1933 503l12-3-12 2-12 3zM2029 492l12-3-12 0-12 3zM2017 492l12-3-12 1-12 3zM2005 493l12-3-12 1-12 3zM1993 494l12-3-12 1-12 3zM1981 495l12-3-12 2-12 2zM1969 496l12-2-12 1-12 3zM1957 498l12-3-12 2-12 3zM1945 500l12-3-12 2-12 3zM2053 489l12-3-12 0-12 3zM2029 489l12-2-12 0-12 3zM2017 490l12-3-12 1-12 3zM2005 491l12-3-12 1-12 3zM1993 492l12-3-12 2-12 3zM1981 494l12-3-12 2-12 2zM1969 495l12-2-12 1-12 3zM1957 497l12-3-12 3-12 2zM2065 486l12-3-12 1-12 2zM2041 487l12-3-12 1-12 2zM2029 487l12-2-12 1-12 2zM2017 488l12-2-12 1-12 2zM2005 489l12-2-12 1-12 3zM1993 491l12-3-12 2-12 3zM1981 493l12-3-12 2-12 2zM1969 494l12-2-12 2-12 3zM2053 484l12-2-12 0-12 3zM2041 485l12-3-12 1-12 3zM2029 486l12-3-12 1-12 3zM2017 487l12-3-12 2-12 2zM2005 488l12-2-12 1-12 3zM1993 490l12-3-12 2-12 3zM1981 492l12-3-12 2-12 3zM2101 481l12-2-12 0-12 2zM2065 482l12-3-12 1-12 2zM2053 482l12-2-12 1-12 2zM2041 483l12-2-12 1-12 2zM2029 484l12-2-12 1-12 3zM2017 486l12-3-12 2-12 2zM2005 487l12-2-12 2-12 2zM1993 489l12-2-12 2-12 2zM2077 479l12-2-12 1-12 2zM2065 480l12-2-12 1-12 2zM2053 481l12-2-12 1-12 2zM2041 482l12-2-12 1-12 2zM2029 483l12-2-12 2-12 2zM2017 485l12-2-12 2-12 2zM2005 487l12-2-12 2-12 2zM2137 477l12-2-12-1-12 2zM2089 477l12-2-12 1-12 2zM2077 478l12-2-12 0-12 3zM2065 479l12-3-12 2-12 2zM2053 480l12-2-12 1-12 2zM2041 481l12-2-12 2-12 2zM2029 483l12-2-12 2-12 2zM2017 485l12-2-12 2-12 2zM2101 475l12-2-12 1-12 2zM2089 476l12-2-12 0-12 2zM2077 476l12-2-12 2-12 2zM2065 478l12-2-12 1-12 2zM2053 479l12-2-12 2-12 2zM2041 481l12-2-12 1-12 3zM2173 473l12-2-12 0-12 2zM2113 473l12-2-12 1-12 2zM2101 474l12-2-12 1-12 1zM2089 474l12-1-12 1-12 2zM2077 476l12-2-12 1-12 2zM2065 477l12-2-12 2-12 2zM2053 479l12-2-12 2-12 1zM2137 471l12-2-12 0-12 2zM2125 471l12-2-12 1-12 2zM2113 472l12-2-12 1-12 2zM2101 473l12-2-12 1-12 2zM2089 474l12-2-12 1-12 2zM2077 475l12-2-12 2-12 2zM2149 469l12-2-12 0-12 2zM2137 469l12-2-12 1-12 2zM2125 470l12-2-12 1-12 2zM2113 471l12-2-12 1-12 2zM2101 472l12-2-12 2-12 1zM2089 473l12-1-12 1-12 2zM2161 467l12-2-12 1-12 1zM2149 467l12-1-12 1-12 1zM2137 468l12-1-12 0-12 2zM2125 469l12-2-12 2-12 1zM2113 470l12-1-12 1-12 2zM2101 472l12-2-12 1-12 2zM2173 465l12-1-12 0-12 2zM2161 466l12-2-12 1-12 2zM2149 467l12-2-12 1-12 1zM2137 467l12-1-12 1-12 2zM2125 469l12-2-12 1-12 2zM2257 467l12-2-12-1-12 2zM2197 464l12-1-12 0-12 1zM2185 464l12-1-12 0-12 1zM2173 464l12-1-12 1-12 1zM2161 465l12-1-12 1-12 1zM2149 466l12-1-12 1-12 1zM2137 467l12-1-12 1-12 1zM2209 463l12-2-12 0-12 2zM2197 463l12-2-12 1-12 1zM2185 463l12-1-12 0-12 2zM2173 464l12-2-12 1-12 2zM2161 465l12-2-12 1-12 2zM2293 465l12-1-12-1-12 1zM2233 461l12-1-12 0-12 1zM2221 461l12-1-12 0-12 1zM2209 461l12-1-12 1-12 1zM2197 462l12-1-12 0-12 1zM2185 462l12-1-12 1-12 1zM2173 463l12-1-13 1-11 1zM2257 461l12-1-12-1-12 1zM2245 460l12-1-12 0-12 1zM2233 460l12-1-12 0-12 1zM2221 460l12-1-12 1-12 1zM2209 461l12-1-13 0-11 1zM2197 461l11-1-12 1-11 1zM2269 460l12-1-12-1-12 1zM2257 459l12-1-12 0-12 1zM2245 459l12-1-12 0-12 1zM2233 459l12-1-13 1-11 1zM2221 460l11-1-12 0-12 1zM2208 460l12-1-12 1-12 1zM2341 464l12-1-12-1-12 0zM2305 460l12-1-12-1-12 1zM2293 459l12-1-12 0-12 1zM2281 459l12-1-12 0-12 0zM2269 458l12 0-13-1-11 1zM2257 458l11-1-12 1-11 0zM2245 458l11 0-12 0-12 1zM2232 459l12-1-12 0-12 1zM2220 459l12-1-12 1-12 1zM2329 460l12 0-12-1-12 0zM2317 459l12 0-12-1-12 0zM2305 458l12 0-12-1-12 1zM2293 458l12-1-13 0-11 1zM2281 458l11-1-12 0-12 0zM2268 457l12 0-12 0-12 1zM2256 458l12-1-12 0-12 1zM2244 458l12-1-12 1-12 0zM2377 464l12 0-12-2-12 1zM2365 463l12-1-12-2-12 1zM2353 461l12-1-12-1-12 1zM2341 460l12-1-12-1-12 1zM2329 459l12-1-13-1-11 1zM2317 458l11-1-12 0-11 0zM2305 457l11 0-12-1-12 1zM2292 457l12-1-12 0-12 1zM2280 457l12-1-12 0-12 1zM2268 457l12-1-12 1-12 0zM2256 457l12 0-12 0-12 1zM2389 464l11-1-12-1-11 0zM2377 462l11 0-12-2-11 0zM2365 460l11 0-12-1-11 0zM2353 459l11 0-12-1-11 0zM2341 458l11 0-12-1-12 0zM2328 457l12 0-12-1-12 1zM2316 457l12-1-12 0-12 0zM2304 456l12 0-12 0-12 0zM2292 456l12 0-12 0-12 0zM2280 456l12 0-12 0-12 1zM2412 466l12-1-12-2-12 0zM2400 463l12 0-12-2-12 1zM2388 462l12-1-12-1-12 0zM2376 460l12 0-12-2-12 1zM2364 459l12-1-12-1-12 1zM2352 458l12-1-12-1-12 1zM2340 457l12-1-12 0-12 0zM2328 456l12 0-12-1-12 1zM2316 456l12-1-12 0-12 1zM2304 456l12-1-12 0-12 1zM2292 456l12-1-12 1-12 0z"/><path fill="#903020" d="M2077 531l12-4-12-2-12 4zM2101 530l12-3-12-3-12 3zM2113 527l12-4-12-3-12 4zM2137 526l12-3-12-3-12 3zM2149 523l12-3-12-3-12 3zM2173 523l12-3-12-3-12 3zM2161 520l12-3-12-3-12 3zM2185 520l12-3-12-3-12 3zM2209 520l12-2-12-4-12 3zM2197 517l12-3-12-3-12 3zM2221 518l12-3-12-4-12 3zM2245 519l12-3-12-4-12 3zM2233 515l12-3-12-3-12 2zM2257 516l12-3-12-3-12 2zM2269 513l12-2-12-4-12 3zM2305 513l12-2-12-4-12 2zM2317 511l12-2-12-4-12 2z"/><path fill="#782818" d="M2029 523l12-4-12-1-12 3zM2053 521l12-4-12-2-12 4zM2065 517l12-3-12-2-12 3zM2089 516l12-4-12-2-12 4zM2101 512l12-3-12-2-12 3zM2137 508l12-3-12-2-12 3zM2149 505l12-3-12-2-12 3zM2173 505l12-3-12-2-12 2zM2185 502l12-2-12-3-12 3zM2209 502l12-2-12-3-12 3zM2221 500l12-3-12-2-12 2zM2245 500l12-2-12-3-12 2zM2257 498l12-2-12-3-12 2zM2293 497l12-2-12-3-12 2zM2305 495l12-2-12-3-12 2zM2329 497l12-2-12-3-12 1zM2341 495l12-1-12-4-12 2z"/><path fill="#582010" d="M1969 518l12-4-12 0-12 4zM2005 511l12-3-12-1-12 4zM2041 505l12-3-12-1-12 3zM2077 500l12-3-12-1-12 3zM2125 492l12-2-12-2-12 3zM2161 489l12-3-12-1-12 2zM2197 486l12-3-12-1-12 2zM2233 483l12-2-12-2-12 2zM2281 480l12-1-12-3-12 2zM2317 480l12-2-12-2-12 1zM2401 480l12-1-12-3-12 0z"/><path fill="#381810" d="M1921 519l12-4-12 1-12 3zM1945 514l12-3-12 0-12 4zM1957 511l12-4-12 1-12 3zM1981 507l12-3-12 0-12 3zM1993 504l12-4-12 1-12 3zM2029 497l12-3-12 0-12 3zM2041 494l12-3-12 0-12 3zM2065 492l12-3-12 0-12 2zM2077 489l12-3-12 0-12 3zM2101 487l12-3-12 0-12 2zM2137 482l12-2-12-1-12 3zM2221 474l12-1-12-2-12 2zM2257 472l12-1-12-2-12 2zM2305 470l12-1-12-2-12 1zM2341 470l12-1-12-2-12 1zM2353 469l12-1-12-2-12 1zM2377 470l12-1-12-2-12 1zM2389 469l12 0-12-2-12 0zM2401 469l12-1-12-2-12 1zM2424 471l12-1-12-2-11 0zM2436 470l12 0-12-2-12 0z"/><path fill="#582018" d="M1993 515l12-4-12 0-12 3zM2029 508l12-3-12-1-12 4zM2065 503l12-3-12-1-12 3zM2101 498l12-3-12-1-12 3zM2113 495l12-3-12-1-12 3zM2137 494l12-3-12-1-12 2zM2149 491l12-2-12-2-12 3zM2173 490l12-2-12-2-12 3zM2185 488l12-2-12-2-12 2zM2221 485l12-2-12-2-12 2zM2257 484l12-2-12-2-12 1zM2269 482l12-2-12-2-12 2zM2293 483l12-2-12-2-12 1zM2305 481l12-1-12-3-12 2zM2341 481l12-1-12-3-12 1zM2353 480l12-2-12-2-12 1zM2377 482l12-2-12-3-12 1zM2389 480l12 0-12-4-12 1z"/><path fill="#802820" d="M2077 519l12-3-12-2-12 3zM2113 515l12-4-12-2-12 3zM2137 514l12-3-12-3-12 3zM2149 511l12-3-12-3-12 3zM2173 511l12-3-12-3-12 3zM2185 508l12-3-12-3-12 3zM2209 508l12-3-12-3-12 3zM2221 505l12-2-12-3-12 2zM2245 506l12-2-12-4-12 3zM2257 504l12-3-12-3-12 2zM2269 501l12-2-12-3-12 2z"/><path fill="#602018" d="M2017 512l12-4-12 0-12 3zM2041 509l12-3-12-1-12 3zM2065 507l12-3-12-1-12 3zM2053 506l12-3-12-1-12 3zM2077 504l12-3-12-1-12 3zM2089 501l12-3-12-1-12 3zM2113 499l12-3-12-1-12 3zM2125 496l12-2-12-2-12 3zM2149 495l12-2-12-2-12 3zM2161 493l12-3-12-1-12 2zM2185 492l12-2-12-2-12 2zM2197 490l12-2-12-2-12 2zM2221 490l12-2-12-3-12 3zM2209 488l12-3-12-2-12 3zM2233 488l12-2-12-3-12 2zM2245 486l12-2-12-3-12 2zM2269 486l12-2-12-2-12 2zM2281 484l12-1-12-3-12 2zM2305 485l12-1-12-3-12 2zM2317 484l12-2-12-2-12 1zM2341 485l12-1-12-3-12 1zM2329 482l12-1-12-3-12 2zM2353 484l12-1-12-3-12 1zM2365 483l12-1-12-4-12 2z"/><path fill="#401810" d="M1969 510l12-3-12 0-12 4zM1993 507l12-3-12 0-12 3zM2005 504l12-4-12 0-12 4zM2017 500l12-3-12 0-12 3zM2041 497l12-3-12 0-12 3zM2053 494l12-2-12-1-12 3zM2077 492l12-3-12 0-12 3zM2089 489l12-2-12-1-12 3zM2113 487l12-2-12-1-12 3zM2125 485l12-3-12 0-12 2zM2149 483l12-2-12-1-12 2zM2161 481l12-2-12-1-12 2zM2173 479l12-2-12-1-12 2zM2197 478l12-2-12-1-12 2zM2209 476l12-2-12-1-12 2zM2233 476l12-2-12-1-12 1zM2245 474l12-2-12-1-12 2zM2269 474l12-1-12-2-12 1zM2281 473l12-2-12-1-12 1zM2305 473l12-1-12-2-12 1zM2293 471l12-1-12-2-12 2zM2317 472l12-1-12-2-12 1zM2329 471l12-1-12-2-12 1zM2353 472l12-1-12-2-12 1zM2365 471l12-1-12-2-12 1zM2389 473l12-1-12-3-12 1zM2401 472l12-1-12-2-12 0zM2413 471l11 0-11-3-12 1z"/><path fill="#281008" d="M1933 512l12-4-12 1-12 4zM1957 508l12-4-12 1-12 3zM1969 504l12-3-12 1-12 3zM1993 501l12-4-12 1-12 3zM2005 497l12-3-12 1-12 3zM2029 494l12-3-12 1-12 2zM2041 491l12-2-12 0-12 3zM2077 486l12-3-12 0-12 3zM2089 483l12-2-12 0-12 2zM2113 481l12-2-12 0-12 2zM2125 479l12-2-12-1-12 3zM2149 477l12-2-12 0-12 2zM2161 475l12-2-12 0-12 2zM2197 472l12-2-12-1-12 2zM2209 470l12-1-12-1-12 1zM2233 470l12-2-12-1-12 2zM2245 468l12-1-12-1-12 1zM2269 468l12-1-12-2-12 2zM2281 467l12-2-12-1-12 1zM2317 466l12-1-12-2-12 1zM2329 465l12-1-12-2-12 1zM2353 466l12-1-12-2-12 1zM2365 465l12-1-12-1-12 0zM2389 467l12-1-12-2-12 0zM2401 466l11 0-12-3-11 1z"/><path fill="#983020" d="M2161 526l12-3-12-3-12 3z"/><path fill="#481810" d="M2017 504l12-3-12-1-12 4zM2029 501l12-4-12 0-12 3zM2053 498l12-3-12-1-12 3zM2065 495l12-3-12 0-12 2zM2089 493l12-3-12-1-12 3zM2101 490l12-3-12 0-12 2zM2125 488l12-2-12-1-12 2zM2137 486l12-3-12-1-12 3zM2161 485l12-3-12-1-12 2zM2173 482l12-2-12-1-12 2zM2197 482l12-2-12-2-12 2zM2185 480l12-2-12-1-12 2zM2209 480l12-2-12-2-12 2zM2221 478l12-2-12-2-12 2zM2245 478l12-2-12-2-12 2zM2257 476l12-2-12-2-12 2zM2281 476l12-1-12-2-12 1zM2293 475l12-2-12-2-12 2zM2317 476l12-2-12-2-12 1zM2329 474l12-1-12-2-12 1zM2341 473l12-1-12-2-12 1zM2377 474l12-1-12-3-12 1z"/><path fill="#782820" d="M2125 511l12-3-12-2-12 3zM2161 508l12-3-12-3-12 3zM2197 505l12-3-12-2-12 2zM2233 503l12-3-12-3-12 3zM2281 499l12-2-12-3-12 2zM2317 499l12-2-12-4-12 2z"/><path fill="#682018" d="M2089 505l12-3-12-1-12 3zM2101 502l12-3-12-1-12 3zM2125 501l12-3-12-2-12 3zM2149 500l12-3-12-2-12 3zM2137 498l12-3-12-1-12 2zM2161 497l12-2-12-2-12 2zM2173 495l12-3-12-2-12 3zM2197 495l12-3-12-2-12 2zM2209 492l12-2-12-2-12 2zM2233 492l12-2-12-2-12 2zM2245 490l12-2-12-2-12 2zM2269 491l12-2-12-3-12 2zM2257 488l12-2-12-2-12 2zM2281 489l12-2-12-3-12 2zM2293 487l12-2-12-2-12 1z"/><path fill="#301008" d="M2017 497l12-3-12 0-12 3zM2053 491l12-2-12 0-12 2zM2065 489l12-3-12 0-12 3zM2089 486l12-2-12-1-12 3zM2101 484l12-3-12 0-12 2zM2125 482l12-3-12 0-12 2zM2137 479l12-2-12 0-12 2zM2173 476l12-2-12-1-12 2zM2185 474l12-2-12-1-12 2zM2209 473l12-2-12-1-12 2zM2221 471l12-1-12-1-12 1zM2245 471l12-2-12-1-12 2zM2257 469l12-1-12-1-12 1zM2281 470l12-2-12-1-12 1zM2293 468l12-1-12-2-12 2zM2305 467l12-1-12-2-12 1zM2329 468l12-1-12-2-12 1zM2341 467l12-1-12-2-12 1zM2377 467l12 0-12-3-12 1z"/><path fill="#501810" d="M2077 496l12-3-12-1-12 3zM2101 494l12-3-12-1-12 3zM2113 491l12-3-12-1-12 3zM2137 490l12-3-12-1-12 2zM2149 487l12-2-12-2-12 3zM2173 486l12-2-12-2-12 3zM2185 484l12-2-12-2-12 2zM2209 483l12-2-12-1-12 2zM2221 481l12-2-12-1-12 2zM2233 479l12-1-12-2-12 2zM2257 480l12-2-12-2-12 2zM2269 478l12-2-12-2-12 2zM2305 477l12-1-12-3-12 2z"/><path fill="#200808" d="M2041 489l12-3-12 1-12 2zM2053 486l12-2-12 0-12 3zM2077 483l12-2-12 0-12 3zM2065 484l12-3-12 1-12 2zM2089 481l12-2-12 0-12 2zM2077 481l12-2-12 0-12 3zM2113 479l12-3-12 0-12 3zM2101 479l12-3-12 1-12 2zM2089 479l12-2-12 0-12 2zM2125 476l12-2-12 0-12 2zM2113 476l12-2-12 0-12 3zM2101 477l12-3-12 1-12 2zM2149 475l12-2-12-1-12 2zM2137 474l12-2-12 0-12 2zM2125 474l12-2-12 0-12 2zM2113 474l12-2-12 1-12 2zM2161 473l12-2-12-1-12 2zM2149 472l12-2-12 0-12 2zM2137 472l12-2-12 1-12 1zM2125 472l12-1-12 0-12 2zM2185 471l12-2-12 0-12 2zM2173 471l12-2-12 0-12 1zM2161 470l12-1-12 0-12 1zM2149 470l12-1-12 0-12 2zM2197 469l12-1-12-1-12 2zM2185 469l12-2-12 0-12 2zM2173 469l12-2-12 0-12 2zM2161 469l12-2-12 0-12 2zM2221 469l12-2-12-1-12 2zM2209 468l12-2-12 0-12 1zM2197 467l12-1-12-1-12 2zM2185 467l12-2-12 0-12 2zM2173 467l12-2-12 0-12 2zM2233 467l12-1-12-1-12 1zM2221 466l12-1-12-1-12 2zM2209 466l12-2-12 0-12 1zM2197 465l12-1-12 0-12 1zM2185 465l12-1-12 0-12 1zM2245 466l12-2-12-1-12 2zM2233 465l12-2-12 0-12 1zM2221 464l12-1-12 0-12 1zM2209 464l12-1-12 0-12 1zM2269 465l12-1-12-1-12 1zM2257 464l12-1-12-1-12 1zM2245 463l12-1-12 0-12 1zM2233 463l12-1-12-1-12 2zM2221 463l12-2-12 0-12 2zM2281 464l12-1-12-1-12 1zM2269 463l12-1-12-1-12 1zM2257 462l12-1-12 0-12 1zM2245 462l12-1-12-1-12 1zM2305 464l12-1-12-1-12 1zM2293 463l12-1-12-1-12 1zM2281 462l12-1-12-1-12 1zM2269 461l12-1-12 0-12 1zM2317 463l12-1-12-1-12 1zM2305 462l12-1-12-1-12 1zM2293 461l12-1-12-1-12 1zM2281 460l12-1-12 0-12 1zM2329 462l12 0-12-2-12 1zM2317 461l12-1-12-1-12 1zM2353 463l12 0-12-2-12 1zM2341 462l12-1-12-1-12 0z"/><path fill="#702018" d="M2185 497l12-2-12-3-12 3zM2221 495l12-3-12-2-12 2z"/><path fill="#381010" d="M2113 484l12-2-12-1-12 3zM2149 480l12-2-12-1-12 2zM2185 477l12-2-12-1-12 2zM2197 475l12-2-12-1-12 2zM2233 473l12-2-12-1-12 1zM2269 471l12-1-12-2-12 1zM2317 469l12-1-12-2-12 1z"/><path fill="#d07830" d="M2412 570l12-2-12-7-12 2z"/><path fill="#381008" d="M2161 478l12-2-12-1-12 2z"/><path fill="#b06030" d="M2460 545l12-2-12-6-12 2zM2472 543l12-1-12-6-12 1z"/><path fill="#d8b840" d="M2566 592l12-1-12-8-12 1zM2578 591l12-1-12-8-12 1zM2590 590l12-1-12-8-12 1z"/><path fill="#c89830" d="M2555 567l12-2-12-7-12 1z"/><path fill="#d0c038" d="M2625 587l12-1-11-8-12 1z"/><path fill="#c0c048" d="M2672 611l12 0-12-9-12 1z"/><path fill="#906020" d="M2579 521l12 0-12-6-12 0z"/>
<path fill="none" stroke="#1c1c1c" stroke-width="2.8" stroke-linejoin="round" d="M2005 1103l-12-13-12-13-11-13-12-13-12-12-12-12-11-11-12-11-12-11-12-11-12-10-12-10-11-10-12-9-12-9-12-9-12-8-12-9-12-8-12-7-12-8-11-7-12-6-12-7-12-6-12-6-12-6-12-5-12-5-12-5-12-4-11-4-12-4-12-4-12-3-12-3-12-3-12-3-11-2-12-2-12-2-12-1-12-2-11-1-12 0-12-1-11 0-12 0-12 1-12 0-11 1-12 1-11 2-12 1-12 2-11 2-12 3-11 2-12 3-11 3-11 4-12 3-11 4-11 4-12 5-11 4-11 5-11 5-12 6-11 5-11 6-11 6-11 6-11 7M2017 1093l-12-13-12-13-12-13-11-12-12-12-12-12-12-12-12-11-11-11-12-10-12-10-12-10-12-10-12-9-11-10-12-8-12-9-12-8-12-8-12-8-12-7-12-7-12-7-12-6-11-6-12-6-12-6-12-5-12-5-12-5-12-4-12-5-12-4-11-3-12-4-12-3-12-2-12-3-12-2-12-2-11-2-12-2-12-1-12-1-11 0-12-1-12 0-12 0-11 0-12 1-12 1-11 1-12 1-11 2-12 2-12 2-11 3-12 2-11 3-12 3-11 4-11 3-12 4-11 4-11 5-12 4-11 5-11 5-11 5-12 6-11 6-11 6-11 6-11 6M2028 1084l-11-13-12-13-12-13-12-13-11-12-12-11-12-12-12-11-12-11-11-10-12-11-12-10-12-9-12-10-12-9-12-9-12-8-11-8-12-8-12-8-12-7-12-7-12-7-12-6-12-6-12-6-12-6-11-5-12-5-12-5-12-5-12-4-12-4-12-3-12-4-12-3-11-3-12-2-12-2-12-2-12-2-12-2-11-1-12-1-12 0-12-1-11 0-12 0-12 0-11 1-12 1-12 1-11 1-12 2-12 2-11 2-12 2-11 3-12 3-11 3-12 4-11 3-11 4-12 4-11 4-11 5-12 5-11 5-11 5-11 6-11 6-11 6-12 6-11 6M2040 1075l-12-14-11-13-12-12-12-13-12-12-11-12-12-11-12-11-12-11-12-11-12-10-11-10-12-10-12-9-12-9-12-9-12-8-12-8-12-8-11-8-12-7-12-7-12-7-12-6-12-6-12-6-12-6-12-5-12-5-12-5-11-4-12-5-12-4-12-3-12-4-12-3-12-2-12-3-11-2-12-2-12-2-12-2-12-1-11-1-12 0-12-1-12 0-11 0-12 1-12 0-12 1-11 1-12 2-11 1-12 2-12 2-11 3-12 2-11 3-12 3-11 4-12 3-11 4-11 4-12 5-11 4-11 5-12 5-11 5-11 6-11 6-11 6-11 6-11 6M2052 1065l-12-13-12-13-11-13-12-12-12-12-12-12-12-11-11-11-12-11-12-11-12-10-12-10-12-10-11-9-12-9-12-9-12-8-12-8-12-8-12-8-12-7-12-7-11-7-12-6-12-6-12-6-12-6-12-5-12-5-12-5-12-4-12-4-12-4-11-4-12-3-12-3-12-3-12-3-12-2-12-2-11-2-12-1-12-2-12 0-12-1-11-1-12 0-12 0-12 1-11 0-12 1-12 1-11 2-12 1-12 2-11 2-12 3-11 2-12 3-11 3-12 4-11 3-12 4-11 4-11 5-12 4-11 5-11 5-11 6-12 5-11 6-11 6-11 6-11 7M2063 1056l-11-13-12-13-12-13-11-12-12-12-12-12-12-11-12-11-11-11-12-11-12-10-12-10-12-9-12-10-11-9-12-9-12-8-12-8-12-8-12-8-12-7-12-7-12-7-12-6-12-6-11-6-12-6-12-5-12-5-12-5-12-4-12-4-12-4-12-4-12-3-11-3-12-3-12-2-12-3-12-2-12-1-12-2-11-1-12-1-12-1-12 0-12 0-11 0-12 0-12 1-11 1-12 1-12 1-11 2-12 2-12 2-11 2-12 3-11 3-12 3-11 3-12 4-11 4-11 4-12 4-11 5-11 4-12 6-11 5-11 5-11 6-12 6-11 6-11 7M2075 1047l-12-13-11-13-12-12-12-13-11-12-12-12-12-11-12-11-12-11-11-10-12-11-12-9-12-10-12-9-12-9-12-9-11-9-12-8-12-8-12-7-12-7-12-7-12-7-12-7-12-6-12-6-12-5-11-5-12-5-12-5-12-5-12-4-12-4-12-3-12-4-12-3-12-2-11-3-12-2-12-2-12-2-12-1-12-2-12-1-11 0-12-1-12 0-12 0-11 1-12 0-12 1-11 1-12 2-12 1-11 2-12 2-12 3-11 2-12 3-11 3-12 4-11 3-12 4-11 4-11 5-12 4-11 5-11 5-12 5-11 6-11 6-11 6-11 6-11 6M2087 1039l-12-14-11-13-12-12-12-12-12-12-11-12-12-12-12-11-12-10-12-11-11-10-12-10-12-10-12-9-12-9-12-9-12-8-12-8-11-8-12-8-12-7-12-7-12-7-12-6-12-6-12-6-12-6-12-5-12-5-12-5-11-4-12-4-12-4-12-4-12-3-12-3-12-3-12-2-12-3-11-2-12-1-12-2-12-1-12-1-12-1-11 0-12 0-12 0-12 0-11 1-12 1-12 1-12 1-11 2-12 2-11 2-12 2-12 3-11 3-12 3-11 3-12 4-11 4-12 4-11 4-11 5-12 5-11 5-11 5-11 5-12 6-11 6-11 6-11 7M2099 1030l-12-13-12-13-11-13-12-12-12-12-12-12-11-11-12-11-12-11-12-10-12-11-12-10-11-9-12-9-12-9-12-9-12-9-12-8-12-8-12-7-11-7-12-7-12-7-12-6-12-6-12-6-12-6-12-5-12-5-12-5-12-4-12-4-12-4-11-4-12-3-12-3-12-3-12-3-12-2-12-2-12-2-11-1-12-1-12-1-12-1-12 0-12 0-11 0-12 0-12 1-12 1-11 1-12 1-12 2-11 2-12 2-11 2-12 3-12 3-11 3-12 3-11 4-12 3-11 5-11 4-12 4-11 5-11 5-12 6-11 5-11 6-11 6-12 6-11 6M2110 1022l-11-14-12-13-12-12-11-12-12-12-12-12-12-11-11-12-12-10-12-11-12-10-12-10-12-9-11-10-12-9-12-8-12-9-12-8-12-8-12-7-12-8-12-6-12-7-11-7-12-6-12-5-12-6-12-5-12-5-12-5-12-4-12-5-12-3-12-4-12-3-11-3-12-3-12-3-12-2-12-2-12-2-12-1-12-1-11-1-12-1-12 0-12-1-12 1-11 0-12 1-12 0-12 2-11 1-12 2-12 1-11 3-12 2-11 3-12 2-12 4-11 3-12 4-11 3-12 4-11 5-11 4-12 5-11 5-11 5-12 6-11 6-11 6-11 6-11 6M2122 1013l-11-13-12-13-12-12-12-13-11-12-12-11-12-12-12-11-11-11-12-10-12-10-12-10-12-10-12-9-11-9-12-9-12-8-12-8-12-8-12-7-12-8-12-7-12-6-12-7-12-6-11-6-12-5-12-5-12-5-12-5-12-4-12-5-12-3-12-4-12-3-12-3-12-3-12-3-11-2-12-2-12-2-12-1-12-1-12-1-12-1-11 0-12 0-12 0-12 0-11 1-12 0-12 2-12 1-11 2-12 1-12 3-11 2-12 3-11 2-12 4-12 3-11 4-12 3-11 4-11 5-12 4-11 5-12 5-11 5-11 6-11 6-12 6-11 6-11 6M2134 1005l-12-13-11-13-12-13-12-12-11-12-12-11-12-12-12-11-12-11-11-10-12-10-12-10-12-10-12-9-12-9-12-9-11-8-12-8-12-8-12-7-12-8-12-6-12-7-12-7-12-6-12-5-12-6-12-5-11-5-12-5-12-4-12-4-12-4-12-4-12-3-12-3-12-3-12-3-12-2-12-2-11-2-12-1-12-1-12-1-12-1-12 0-11 0-12 0-12 0-12 1-12 1-11 1-12 1-12 2-11 2-12 2-12 2-11 3-12 3-11 3-12 3-11 4-12 4-11 4-12 4-11 4-12 5-11 5-11 6-12 5-11 6-11 6-11 6-12 6M2146 997l-12-13-11-13-12-13-12-12-12-12-11-11-12-12-12-11-12-11-12-10-11-10-12-10-12-10-12-9-12-9-12-8-12-9-11-8-12-8-12-7-12-7-12-7-12-7-12-6-12-6-12-6-12-6-12-5-12-5-12-5-11-4-12-4-12-4-12-4-12-3-12-3-12-3-12-2-12-3-12-2-12-1-11-2-12-1-12-1-12 0-12-1-12 0-11 0-12 0-12 1-12 1-12 1-11 1-12 2-12 2-11 2-12 2-12 3-11 3-12 3-11 3-12 4-11 4-12 4-11 4-12 5-11 4-12 6-11 5-11 5-11 6-12 6-11 6-11 6M2158 989l-12-13-12-13-11-12-12-13-12-12-12-11-11-12-12-11-12-10-12-11-12-10-11-10-12-9-12-9-12-9-12-9-12-8-12-9-11-7-12-8-12-7-12-7-12-7-12-6-12-6-12-6-12-5-12-6-12-5-12-4-12-5-12-4-12-4-11-3-12-4-12-3-12-2-12-3-12-2-12-2-12-2-12-1-12-1-11-1-12-1-12 0-12-1-12 1-12 0-11 1-12 0-12 1-12 2-11 1-12 2-12 2-11 3-12 2-12 3-11 3-12 4-11 3-12 4-11 4-12 5-11 4-12 5-11 5-11 5-12 6-11 5-11 6-12 6-11 7M2169 981l-11-13-12-13-12-12-11-12-12-12-12-12-11-11-12-11-12-11-12-10-12-11-11-9-12-10-12-9-12-9-12-9-12-8-12-8-12-8-12-7-11-8-12-6-12-7-12-6-12-7-12-5-12-6-12-5-12-5-12-5-12-4-12-4-12-4-12-4-12-3-11-3-12-3-12-2-12-3-12-2-12-1-12-2-12-1-12-1-12 0-11-1-12 0-12 0-12 0-12 1-11 1-12 1-12 1-12 2-11 2-12 2-12 2-11 3-12 3-12 3-11 3-12 4-11 4-12 4-11 4-12 5-11 4-11 5-12 6-11 5-12 6-11 6-11 6-11 6M2181 974l-11-14-12-12-12-13-11-12-12-12-12-12-12-11-11-11-12-11-12-10-12-10-12-10-11-9-12-10-12-8-12-9-12-8-12-9-12-7-12-8-12-7-12-7-11-6-12-7-12-6-12-6-12-5-12-5-12-5-12-5-12-4-12-5-12-3-12-4-12-3-12-3-12-3-12-3-11-2-12-2-12-2-12-1-12-1-12-1-12-1-12 0-11 0-12 0-12 0-12 1-12 1-11 1-12 1-12 2-12 2-11 2-12 2-12 3-11 3-12 3-11 3-12 4-12 3-11 4-12 5-11 4-12 5-11 5-11 5-12 6-11 5-11 6-12 6-11 7M2193 966l-12-13-11-13-12-12-12-12-11-12-12-12-12-11-12-11-11-11-12-10-12-10-12-10-12-10-11-9-12-9-12-8-12-9-12-8-12-8-12-7-12-7-12-7-12-7-11-6-12-6-12-6-12-5-12-6-12-5-12-4-12-5-12-4-12-4-12-3-12-3-12-4-12-2-12-3-12-2-12-2-11-2-12-1-12-1-12-1-12-1-12 0-12 0-11 0-12 0-12 1-12 0-12 2-11 1-12 2-12 1-12 3-11 2-12 3-12 2-11 3-12 4-11 3-12 4-11 4-12 4-11 5-12 5-11 5-12 5-11 5-11 6-12 6-11 6-11 7M2205 959l-12-13-11-13-12-13-12-12-11-12-12-11-12-12-12-10-11-11-12-11-12-10-12-9-12-10-12-9-11-9-12-9-12-8-12-8-12-8-12-7-12-7-12-7-12-7-12-6-12-6-11-6-12-6-12-5-12-5-12-4-12-5-12-4-12-4-12-3-12-4-12-3-12-2-12-3-12-2-12-2-12-2-11-1-12-1-12-1-12-1-12 0-12-1-12 1-12 0-11 1-12 0-12 2-12 1-11 2-12 1-12 2-12 3-11 2-12 3-12 3-11 4-12 3-11 4-12 4-11 4-12 5-11 5-12 5-11 5-12 5-11 6-11 6-12 6-11 6M2217 951l-12-13-11-12-12-13-12-12-12-12-11-11-12-12-12-11-12-10-11-11-12-10-12-9-12-10-12-9-12-9-11-9-12-8-12-8-12-8-12-7-12-7-12-7-12-7-12-6-12-6-12-6-12-5-12-6-11-5-12-4-12-5-12-4-12-4-12-3-12-3-12-3-12-3-12-3-12-2-12-2-12-2-12-1-12-1-11-1-12-1-12 0-12 0-12 0-12 0-12 1-11 1-12 1-12 1-12 2-11 1-12 3-12 2-12 3-11 2-12 3-11 4-12 3-12 4-11 4-12 4-11 5-12 5-11 5-12 5-11 5-11 6-12 6-11 6-11 6M2229 944l-12-13-12-12-11-13-12-12-12-12-11-11-12-12-12-11-12-10-11-11-12-10-12-9-12-10-12-9-12-9-12-9-11-8-12-8-12-8-12-7-12-7-12-7-12-7-12-6-12-6-12-6-12-5-12-5-12-5-12-5-11-4-12-5-12-3-12-4-12-3-12-3-12-3-12-3-12-2-12-2-12-1-12-2-12-1-12-1-11-1-12 0-12 0-12 0-12 0-12 1-12 1-11 1-12 1-12 2-12 2-11 2-12 2-12 3-11 3-12 3-12 3-11 3-12 4-12 4-11 5-12 4-11 5-12 5-11 5-11 5-12 6-11 6-11 6-12 6M2240 937l-11-13-12-12-11-13-12-12-12-12-12-11-11-12-12-10-12-11-12-10-11-10-12-10-12-10-12-9-12-9-12-8-11-9-12-8-12-7-12-8-12-7-12-7-12-6-12-7-12-6-12-6-12-5-12-5-12-5-12-5-12-4-12-4-11-4-12-4-12-3-12-3-12-3-12-2-12-2-12-2-12-2-12-2-12-1-12-1-12 0-12-1-11 0-12 0-12 1-12 0-12 1-12 1-11 2-12 1-12 2-12 2-11 2-12 3-12 3-11 3-12 3-12 4-11 4-12 4-11 4-12 4-11 5-12 5-11 5-12 6-11 5-12 6-11 6-11 7M2252 931l-11-13-12-13-12-13-11-12-12-12-12-11-11-11-12-11-12-11-12-10-11-10-12-10-12-9-12-10-12-8-12-9-12-8-11-8-12-8-12-7-12-8-12-6-12-7-12-6-12-6-12-6-12-6-12-5-12-5-12-4-12-5-12-4-12-4-12-3-11-3-12-3-12-3-12-3-12-2-12-2-12-2-12-1-12-1-12-1-12-1-12 0-12 0-11 0-12 0-12 1-12 1-12 1-12 1-11 2-12 1-12 3-12 2-11 2-12 3-12 3-11 4-12 3-12 4-11 4-12 4-11 5-12 4-11 5-12 6-11 5-12 6-11 6-11 6-12 6M2264 924l-11-13-12-13-12-12-11-12-12-12-12-12-11-11-12-11-12-10-12-11-12-10-11-9-12-10-12-9-12-9-12-8-12-9-12-8-11-7-12-8-12-7-12-7-12-6-12-7-12-6-12-6-12-5-12-5-12-5-12-5-12-4-12-4-12-4-12-4-12-3-12-3-12-3-11-2-12-2-12-2-12-2-12-1-12-2-12-1-12 0-12-1-12 0-12 0-11 1-12 0-12 1-12 1-12 2-12 1-11 2-12 2-12 2-12 3-11 3-12 3-12 3-11 4-12 4-11 4-12 4-12 4-11 5-12 5-11 5-12 6-11 5-11 6-12 6-11 6M2276 917l-12-13-11-12-12-13-11-12-12-12-12-11-12-11-11-11-12-11-12-10-12-10-11-10-12-9-12-9-12-9-12-9-12-8-12-8-12-8-11-7-12-7-12-7-12-7-12-6-12-6-12-6-12-5-12-5-12-5-12-5-12-4-12-4-12-4-12-4-12-3-12-3-12-3-12-2-12-3-11-2-12-1-12-2-12-1-12-1-12 0-12-1-12 0-12 0-12 0-11 1-12 1-12 1-12 1-12 2-12 2-11 2-12 2-12 3-12 3-11 3-12 3-12 3-11 4-12 4-11 4-12 5-11 5-12 5-11 5-12 5-11 6-12 6-11 6M2288 911l-12-13-11-13-12-12-12-12-11-12-12-11-12-12-11-11-12-10-12-10-12-10-12-10-11-10-12-9-12-9-12-8-12-8-12-8-12-8-11-7-12-8-12-6-12-7-12-6-12-6-12-6-12-5-12-6-12-5-12-4-12-5-12-4-12-3-12-4-12-3-12-3-12-3-12-3-12-2-12-2-11-1-12-2-12-1-12-1-12-1-12 0-12 0-12 0-12 0-12 1-11 1-12 1-12 1-12 2-12 2-12 2-11 2-12 3-12 2-11 3-12 4-12 3-11 4-12 4-12 4-11 5-12 4-11 5-12 6-11 5-12 6-11 5-12 6M2300 905l-12-13-11-13-12-12-12-12-11-12-12-12-12-11-12-11-11-10-12-11-12-10-12-9-11-10-12-9-12-9-12-8-12-8-12-8-12-8-12-8-11-7-12-6-12-7-12-6-12-6-12-6-12-5-12-6-12-5-12-4-12-5-12-4-12-3-12-4-12-3-12-3-12-3-12-3-12-2-12-2-12-1-12-2-11-1-12-1-12-1-12 0-12 0-12 0-12 0-12 1-12 1-11 1-12 1-12 2-12 2-12 2-11 2-12 3-12 2-12 3-11 4-12 3-12 4-11 4-12 4-12 5-11 4-12 5-11 5-12 6-11 5-11 6M2312 898l-12-13-12-12-11-13-12-12-11-11-12-12-12-11-12-11-11-10-12-11-12-10-12-9-12-10-11-9-12-9-12-8-12-8-12-8-12-8-12-7-12-8-11-6-12-7-12-6-12-6-12-6-12-5-12-6-12-4-12-5-12-4-12-5-12-3-12-4-12-3-12-3-12-3-12-2-12-3-12-2-12-1-12-2-12-1-11-1-12-1-12 0-12 0-12 0-12 0-12 1-12 1-12 1-11 1-12 2-12 2-12 2-12 2-11 3-12 2-12 3-12 4-11 3-12 4-12 4-11 4-12 5-11 4-12 5-11 5-12 6-11 5-12 6M2324 892l-12-13-12-12-11-13-12-12-12-11-11-12-12-11-12-11-11-10-12-11-12-10-12-9-12-10-11-9-12-9-12-8-12-8-12-8-12-8-12-7-12-7-11-7-12-7-12-6-12-6-12-6-12-5-12-5-12-5-12-5-12-4-12-4-12-4-12-4-12-3-12-3-12-3-12-2-12-2-12-2-12-2-12-1-12-2-12-1-12 0-11-1-12 0-12 0-12 1-12 0-12 1-12 1-12 1-11 2-12 2-12 2-12 2-12 3-11 3-12 3-12 3-11 3-12 4-12 4-11 4-12 5-12 4-11 5-12 6-11 5-12 6M2335 887l-11-13-12-13-11-12-12-12-12-12-11-12-12-11-12-11-12-10-11-10-12-10-12-10-12-9-11-9-12-9-12-9-12-8-12-8-12-8-12-7-12-7-12-7-11-6-12-7-12-6-12-5-12-6-12-5-12-5-12-5-12-4-12-4-12-4-12-3-12-4-12-3-12-2-12-3-12-2-12-2-12-2-12-1-12-1-12-1-12-1-12 0-11 0-12 0-12 0-12 1-12 0-12 1-12 2-12 1-11 2-12 2-12 3-12 2-12 3-11 3-12 3-12 4-11 3-12 4-12 5-11 4-12 5-11 5-12 5-12 5-11 6M2347 881l-11-13-12-13-11-12-12-12-12-12-11-11-12-11-12-11-12-11-11-10-12-10-12-10-12-9-12-9-11-9-12-8-12-9-12-8-12-7-12-8-12-7-12-6-11-7-12-6-12-6-12-6-12-5-12-6-12-4-12-5-12-4-12-4-12-4-12-4-12-3-12-3-12-3-12-2-12-3-12-1-12-2-12-2-12-1-12-1-12 0-12-1-12 0-11 0-12 0-12 1-12 1-12 1-12 1-12 2-12 2-11 2-12 2-12 3-12 2-11 3-12 4-12 3-12 4-11 4-12 4-12 4-11 5-12 5-11 5-12 6M2359 875l-11-13-12-12-12-13-11-12-12-11-12-12-11-11-12-11-12-10-11-11-12-9-12-10-12-9-12-10-11-8-12-9-12-8-12-8-12-8-12-7-12-7-12-7-12-6-11-7-12-6-12-5-12-6-12-5-12-5-12-4-12-5-12-4-12-4-12-3-12-3-12-3-12-3-12-3-12-2-12-2-12-2-12-1-12-1-12-1-12-1-12 0-12 0-12 0-11 0-12 1-12 0-12 2-12 1-12 1-12 2-12 2-11 3-12 2-12 3-12 3-11 3-12 4-12 3-11 4-12 5-12 4-11 5-12 5-12 5-11 5M2371 870l-12-13-11-13-12-12-11-12-12-12-12-11-11-11-12-11-12-11-11-10-12-10-12-9-12-10-12-9-11-9-12-8-12-8-12-8-12-8-12-7-12-7-12-7-12-7-11-6-12-6-12-6-12-5-12-5-12-5-12-5-12-4-12-4-12-4-12-3-12-4-12-3-12-2-12-3-12-2-12-2-12-2-12-1-12-1-12-1-12-1-12 0-12-1-12 0-12 1-11 0-12 1-12 1-12 2-12 1-12 2-12 2-11 2-12 3-12 3-12 3-12 3-11 3-12 4-12 4-11 4-12 5-12 4-11 5-12 5M2383 864l-12-13-11-12-12-13-11-11-12-12-12-12-11-11-12-10-12-11-12-10-11-10-12-10-12-9-12-9-12-9-11-8-12-9-12-8-12-7-12-8-12-7-12-6-12-7-12-6-11-6-12-6-12-5-12-5-12-5-12-5-12-4-12-4-12-4-12-4-12-3-12-3-12-3-12-2-12-2-12-2-12-2-12-1-12-2-12-1-12 0-12-1-12 0-12 0-12 1-12 0-11 1-12 1-12 1-12 2-12 2-12 2-12 2-11 3-12 2-12 3-12 4-11 3-12 4-12 4-12 4-11 4-12 5-11 5-12 5M2395 859l-12-13-11-12-12-13-12-12-11-11-12-12-11-11-12-11-12-10-12-10-11-10-12-10-12-9-12-9-12-9-11-8-12-9-12-8-12-7-12-8-12-7-12-6-12-7-12-6-11-6-12-6-12-5-12-5-12-5-12-5-12-4-12-4-12-4-12-4-12-3-12-3-12-3-12-2-12-2-12-2-12-2-12-1-12-2-12-1-12 0-12-1-12 0-12 0-12 1-12 0-12 1-11 1-12 1-12 2-12 2-12 2-12 2-12 3-11 2-12 3-12 4-12 3-11 4-12 4-12 4-11 4-12 5-12 5M2407 854l-12-13-11-13-12-12-12-12-11-11-12-12-12-11-11-11-12-10-12-10-11-10-12-10-12-9-12-9-12-9-11-8-12-9-12-8-12-7-12-8-12-7-12-6-12-7-12-6-11-6-12-6-12-5-12-5-12-5-12-5-12-4-12-4-12-4-12-3-12-4-12-3-12-2-12-3-12-2-12-2-12-2-12-1-12-1-12-1-12-1-12-1-12 0-12 0-12 1-12 0-12 1-12 1-11 1-12 2-12 2-12 2-12 2-12 3-11 2-12 3-12 4-12 3-12 4-11 4-12 4-12 4-11 5-12 5M2419 849l-12-13-12-13-11-12-12-12-11-11-12-12-12-11-11-11-12-10-12-10-11-10-12-10-12-9-12-9-12-9-11-8-12-8-12-8-12-8-12-7-12-7-12-7-12-7-12-6-11-6-12-6-12-5-12-5-12-5-12-5-12-4-12-4-12-4-12-3-12-3-12-4-12-2-12-3-12-2-12-2-12-2-12-1-12-1-12-1-12-1-12 0-12 0-12 0-12 0-12 0-12 1-12 1-11 2-12 1-12 2-12 2-12 2-12 3-12 3-11 3-12 3-12 3-12 4-11 4-12 4-12 4-11 5M2430 844l-11-13-12-12-11-13-12-12-11-11-12-12-12-11-11-10-12-11-12-10-12-10-11-9-12-10-12-9-12-9-11-8-12-8-12-8-12-8-12-7-12-7-12-7-12-6-12-7-11-5-12-6-12-6-12-5-12-5-12-4-12-4-12-5-12-3-12-4-12-3-12-3-12-3-12-2-12-3-12-2-12-1-12-2-12-1-12-1-12-1-12 0-12 0-12 0-12 0-12 1-12 1-12 1-12 1-11 2-12 1-12 2-12 3-12 2-12 3-12 3-11 3-12 3-12 4-12 4-11 4-12 5-12 4M2442 839l-11-13-12-12-11-12-12-12-11-12-12-11-12-11-11-11-12-10-12-11-12-9-11-10-12-9-12-9-12-9-12-9-11-8-12-8-12-7-12-8-12-7-12-6-12-7-12-6-12-6-11-6-12-5-12-5-12-5-12-5-12-4-12-4-12-4-12-3-12-4-12-3-12-2-12-3-12-2-12-2-12-2-12-1-12-1-12-1-12-1-12 0-12-1-12 0-12 1-12 0-12 1-12 1-12 1-12 2-11 2-12 2-12 2-12 2-12 3-12 3-11 3-12 4-12 4-12 3-11 5-12 4M2454 835l-11-13-12-13-11-12-12-12-12-11-11-12-12-11-12-11-11-10-12-10-12-10-11-10-12-9-12-9-12-9-12-8-11-8-12-8-12-8-12-7-12-7-12-7-12-6-12-7-12-5-11-6-12-6-12-5-12-4-12-5-12-4-12-4-12-4-12-4-12-3-12-3-12-3-12-2-12-2-12-2-12-2-12-2-12-1-12-1-12 0-12-1-12 0-12 0-12 0-12 1-12 1-12 1-12 1-12 1-11 2-12 2-12 3-12 2-12 3-12 3-12 3-11 3-12 4-12 4-12 4-11 4M2466 830l-11-13-12-12-12-12-11-12-12-12-11-11-12-11-12-11-11-10-12-10-12-10-11-10-12-9-12-9-12-9-12-8-11-9-12-7-12-8-12-7-12-7-12-7-12-7-12-6-12-6-11-5-12-6-12-5-12-5-12-4-12-5-12-4-12-4-12-3-12-3-12-3-12-3-12-3-12-2-12-2-12-1-12-2-12-1-12-1-12-1-12 0-12 0-12 0-12 0-12 1-12 0-12 1-12 2-12 1-12 2-11 2-12 2-12 3-12 2-12 3-12 4-11 3-12 4-12 4-12 4-11 4M2478 826l-12-13-11-12-12-13-11-12-12-11-11-11-12-11-12-11-11-11-12-10-12-10-11-9-12-9-12-9-12-9-12-9-11-8-12-8-12-7-12-7-12-8-12-6-12-7-12-6-12-6-11-6-12-5-12-5-12-5-12-5-12-4-12-4-12-4-12-3-12-3-12-3-12-3-12-3-12-2-12-2-12-2-12-1-12-1-12-1-12-1-12 0-12-1-12 1-12 0-12 0-12 1-12 1-12 1-12 2-12 2-12 2-11 2-12 2-12 3-12 3-12 3-12 4-11 3-12 4-12 4M2490 822l-12-13-11-13-12-12-11-12-12-11-11-12-12-11-12-10-11-11-12-10-12-10-12-9-11-10-12-9-12-8-12-9-11-8-12-8-12-7-12-8-12-7-12-6-12-7-12-6-12-6-11-6-12-5-12-5-12-5-12-5-12-4-12-4-12-4-12-3-12-3-12-3-12-3-12-3-12-2-12-2-12-2-12-1-12-1-12-1-12-1-12 0-12-1-12 0-12 1-12 0-12 1-12 1-12 1-12 2-12 2-12 2-11 2-12 2-12 3-12 3-12 3-12 4-11 3-12 4-12 4M2502 817l-12-12-11-13-12-12-11-12-12-11-12-12-11-11-12-10-11-11-12-10-12-10-12-9-11-10-12-9-12-8-12-9-11-8-12-8-12-7-12-8-12-7-12-6-12-7-12-6-12-6-11-6-12-5-12-5-12-5-12-4-12-5-12-4-12-4-12-3-12-3-12-3-12-3-12-3-12-2-12-2-12-2-12-1-12-1-12-1-12-1-12 0-12-1-12 1-12 0-12 0-12 1-12 1-12 1-12 2-12 2-12 2-12 2-11 2-12 3-12 3-12 3-12 4-12 3-11 4M2513 813l-11-12-11-13-12-12-11-12-12-11-12-12-11-11-12-10-12-11-11-10-12-10-12-9-11-9-12-9-12-9-12-8-11-9-12-7-12-8-12-7-12-7-12-7-12-7-12-6-12-6-11-5-12-6-12-5-12-5-12-4-12-5-12-4-12-3-12-4-12-3-12-3-12-3-12-2-12-3-12-2-12-1-12-2-12-1-12-1-12-1-12 0-12 0-12 0-12 0-12 1-12 0-12 1-12 2-12 1-12 2-12 2-12 2-11 2-12 3-12 3-12 3-12 4-12 3-12 4M2525 810l-11-13-12-13-11-12-12-12-11-11-12-11-11-11-12-11-12-10-11-11-12-9-12-10-11-9-12-9-12-9-12-8-12-8-11-8-12-8-12-7-12-7-12-7-12-6-12-6-12-6-11-6-12-5-12-6-12-4-12-5-12-4-12-4-12-4-12-4-12-3-12-3-12-3-12-2-12-2-12-2-12-2-12-1-12-2-12-1-12 0-12-1-12 0-12 0-12 0-12 1-12 1-12 1-12 1-12 1-12 2-12 2-12 2-12 3-11 2-12 3-12 3-12 4-12 3M2537 806l-11-13-12-12-11-12-12-12-11-12-12-11-11-11-12-11-12-10-11-10-12-10-12-10-11-9-12-9-12-8-12-9-12-8-11-8-12-7-12-8-12-7-12-6-12-7-12-6-12-6-11-6-12-5-12-5-12-5-12-4-12-5-12-4-12-4-12-3-12-3-12-3-12-3-12-3-12-2-12-2-12-2-12-1-12-1-12-1-12-1-12 0-12-1-12 0-12 1-12 0-12 1-12 1-12 1-12 2-12 1-12 2-12 3-12 2-12 3-11 3-12 3-12 3-12 4M2549 802l-11-12-12-13-11-12-12-12-11-11-12-12-11-11-12-10-12-11-11-10-12-10-12-9-11-9-12-9-12-9-12-8-12-8-11-8-12-8-12-7-12-7-12-7-12-6-12-6-12-6-11-6-12-5-12-6-12-4-12-5-12-4-12-4-12-4-12-4-12-3-12-3-12-3-12-2-12-2-12-2-12-2-12-1-12-2-12-1-12 0-12-1-12 0-12 0-12 0-12 1-12 0-12 1-12 2-12 1-12 2-12 2-12 2-12 3-12 2-11 3-12 3-12 4M2561 799l-12-13-11-12-11-12-12-12-11-12-12-11-12-11-11-11-12-10-11-10-12-10-12-9-12-10-11-9-12-8-12-9-12-8-11-8-12-7-12-7-12-7-12-7-12-7-12-6-12-6-11-5-12-6-12-5-12-5-12-4-12-5-12-4-12-3-12-4-12-3-12-3-12-3-12-2-12-3-12-2-12-1-12-2-12-1-12-1-12-1-12 0-12 0-12 0-12 0-12 0-12 1-12 1-12 1-12 2-12 2-12 1-12 3-12 2-12 3-12 3-11 3-12 3M2573 795l-12-12-11-13-12-12-11-12-12-11-11-11-12-11-11-11-12-10-12-10-11-10-12-10-12-9-11-9-12-9-12-8-12-8-11-8-12-7-12-8-12-7-12-6-12-7-12-6-12-6-11-6-12-5-12-5-12-5-12-4-12-5-12-4-12-4-12-3-12-3-12-3-12-3-12-3-12-2-12-2-12-2-12-1-12-1-12-1-12-1-12 0-12-1-12 0-12 1-12 0-12 1-12 1-12 1-12 2-12 1-12 2-12 2-12 3-12 2-12 3-11 3M2585 792l-12-13-11-12-12-12-11-12-12-11-11-12-12-10-11-11-12-10-12-11-11-9-12-10-12-9-11-9-12-9-12-8-12-8-11-8-12-7-12-8-12-7-12-6-12-7-12-6-12-6-11-6-12-5-12-5-12-5-12-5-12-4-12-4-12-4-12-3-12-3-12-3-12-3-12-3-12-2-12-2-12-2-12-1-12-1-12-1-12-1-12-1-12 0-12 0-12 0-12 1-12 1-12 1-12 1-12 1-12 2-12 2-12 2-12 3-12 2-12 3-12 3M2596 789l-11-13-11-12-12-12-11-12-12-11-11-12-12-11-11-10-12-11-12-10-11-9-12-10-12-9-11-9-12-9-12-8-12-8-12-8-11-7-12-8-12-7-12-6-12-7-12-6-12-6-11-6-12-5-12-5-12-5-12-4-12-5-12-4-12-4-12-3-12-3-12-3-12-3-12-3-12-2-12-2-12-2-12-1-12-1-12-1-12-1-12-1-12 0-12 0-12 0-12 1-12 1-12 1-12 1-12 1-12 2-12 2-12 2-12 3-12 2-12 3M2608 786l-11-13-12-12-11-12-11-12-12-11-11-12-12-11-12-10-11-10-12-11-11-9-12-10-12-9-12-9-11-9-12-8-12-8-12-8-11-7-12-8-12-7-12-6-12-7-12-6-12-6-11-5-12-6-12-5-12-5-12-4-12-5-12-4-12-3-12-4-12-3-12-3-12-3-12-3-12-2-12-2-12-2-12-1-12-1-12-1-12-1-12 0-12-1-12 0-12 1-12 0-12 1-12 1-12 1-12 1-12 2-12 2-12 2-12 3-12 2-12 3M2620 783l-11-13-12-12-11-12-12-12-11-11-12-11-11-11-12-11-11-10-12-10-12-10-11-10-12-9-12-9-11-8-12-9-12-8-12-8-11-7-12-7-12-7-12-7-12-6-12-7-12-6-11-5-12-6-12-5-12-4-12-5-12-4-12-4-12-4-12-4-12-3-12-3-12-3-12-2-12-3-12-2-12-1-12-2-12-1-12-1-12-1-12 0-12 0-12 0-12 0-12 0-12 1-12 1-12 1-12 2-12 1-12 2-12 2-12 3-12 2M2632 780l-11-12-12-13-11-12-12-12-11-11-12-11-11-11-12-11-11-10-12-10-12-10-11-9-12-9-12-9-11-9-12-8-12-8-12-8-11-8-12-7-12-7-12-7-12-6-12-6-12-6-11-6-12-5-12-5-12-5-12-5-12-4-12-4-12-4-12-3-12-4-12-3-12-2-12-3-12-2-12-2-12-2-12-1-12-2-12-1-12 0-12-1-12 0-12 0-12 0-12 1-12 0-12 1-12 1-12 2-12 2-12 1-12 3-12 2-12 3M2644 778l-12-13-11-12-11-12-12-12-11-12-12-11-11-11-12-10-11-11-12-10-12-9-11-10-12-9-12-9-11-9-12-8-12-8-12-8-11-7-12-8-12-6-12-7-12-7-12-6-12-6-11-5-12-6-12-5-12-5-12-4-12-4-12-5-12-3-12-4-12-3-12-3-12-3-12-2-12-3-12-2-12-1-12-2-12-1-12-1-12-1-12 0-12-1-12 0-12 1-12 0-12 1-12 1-12 1-12 1-12 2-12 2-12 2-12 2-12 3M2655 775l-11-13-11-12-12-12-11-12-11-11-12-11-11-11-12-11-12-10-11-10-12-10-11-9-12-9-12-9-11-9-12-8-12-8-12-8-12-8-11-7-12-7-12-7-12-6-12-6-12-6-11-6-12-5-12-5-12-5-12-5-12-4-12-4-12-4-12-3-12-4-12-3-12-2-12-3-12-2-12-2-12-2-12-1-12-2-12-1-12 0-12-1-12 0-12 0-12 0-12 1-12 0-12 1-12 1-12 2-12 1-12 2-12 2-12 3M2667 773l-11-13-11-12-12-12-11-12-12-11-11-12-12-10-11-11-12-10-11-10-12-10-12-10-11-9-12-9-12-8-11-9-12-8-12-7-12-8-11-7-12-7-12-7-12-6-12-6-12-6-11-6-12-5-12-5-12-5-12-5-12-4-12-4-12-4-12-4-12-3-12-3-12-3-12-2-12-2-12-2-12-2-12-2-12-1-12-1-12-1-12 0-12 0-12 0-12 0-12 0-12 1-12 1-12 1-12 1-12 2-12 2-12 2-12 2M2679 770l-11-12-12-13-11-12-11-11-12-12-11-11-12-11-11-10-12-11-11-10-12-9-12-10-11-9-12-9-12-8-11-9-12-8-12-8-12-7-11-7-12-7-12-7-12-6-12-7-12-6-12-5-11-6-12-5-12-4-12-5-12-4-12-4-12-4-12-4-12-3-12-3-12-3-12-2-12-3-12-2-12-1-12-2-12-1-12-1-12-1-12 0-12-1-12 0-12 1-12 0-12 1-12 1-12 1-12 1-12 2-12 2-12 2M2691 768l-11-12-12-13-11-12-12-11-11-12-11-11-12-11-11-10-12-11-12-10-11-9-12-10-11-9-12-9-12-9-11-8-12-8-12-8-12-7-11-7-12-7-12-7-12-7-12-6-12-6-12-5-11-6-12-5-12-4-12-5-12-4-12-4-12-4-12-4-12-3-12-3-12-3-12-2-12-3-12-2-12-1-12-2-12-1-12-1-12-1-12 0-12-1-12 0-12 0-12 1-12 1-12 0-12 2-12 1-12 2-12 2-12 2M2703 766l-12-12-11-13-11-12-12-11-11-12-12-11-11-11-12-10-11-11-12-10-11-9-12-10-11-9-12-9-12-8-12-9-11-8-12-8-12-7-12-7-11-7-12-7-12-6-12-7-12-6-12-5-11-5-12-6-12-4-12-5-12-4-12-4-12-4-12-4-12-3-12-3-12-3-12-2-12-3-12-2-12-1-12-2-12-1-12-1-12-1-12 0-12-1-12 0-12 0-12 1-12 1-12 0-12 2-12 1-12 2-12 1M2714 764l-11-12-11-13-12-12-11-11-11-12-12-11-11-11-12-10-11-11-12-10-11-9-12-10-12-9-11-9-12-8-12-9-11-8-12-7-12-8-12-7-11-7-12-7-12-6-12-6-12-6-12-6-12-5-11-5-12-5-12-5-12-4-12-4-12-4-12-4-12-3-12-3-12-3-12-2-12-2-12-2-12-2-12-2-12-1-12-1-12-1-12 0-12-1-12 0-12 1-12 0-12 1-12 1-12 1-12 1-12 2-12 2M2726 762l-11-12-11-13-12-11-11-12-12-12-11-11-11-11-12-10-11-10-12-10-12-10-11-9-12-10-11-8-12-9-12-8-11-8-12-8-12-8-12-7-11-7-12-7-12-6-12-6-12-6-12-6-12-5-11-5-12-5-12-5-12-4-12-4-12-4-12-3-12-4-12-3-12-2-12-3-12-2-12-2-12-2-12-1-12-2-12-1-12-1-12 0-12 0-12 0-12 0-12 0-12 1-12 1-12 1-12 1-12 2M2738 761l-11-13-12-12-11-12-11-12-12-11-11-11-12-11-11-11-12-10-11-10-12-10-11-9-12-9-11-9-12-9-12-8-12-8-11-8-12-7-12-8-12-6-11-7-12-7-12-6-12-6-12-5-12-6-11-5-12-5-12-4-12-4-12-4-12-4-12-4-12-3-12-3-12-3-12-2-12-3-12-2-12-2-12-1-12-1-12-1-12-1-12-1-12 0-12 0-12 0-12 0-12 1-12 1-12 1-12 2-12 1M2750 759l-12-13-11-12-11-12-12-11-11-12-11-11-12-11-11-10-12-11-11-10-12-9-11-10-12-9-12-9-11-8-12-9-12-8-11-7-12-8-12-7-12-7-11-7-12-6-12-6-12-6-12-6-12-5-12-5-11-5-12-5-12-4-12-4-12-4-12-3-12-4-12-3-12-2-12-3-12-2-12-2-12-2-12-2-12-1-12-1-12-1-12 0-12-1-12 0-12 0-12 1-12 1-12 0-12 2-12 1-12 1M2761 757l-11-12-11-12-11-12-12-12-11-11-12-11-11-11-11-11-12-10-11-10-12-10-12-9-11-9-12-9-11-9-12-8-12-8-11-8-12-7-12-7-12-7-11-7-12-6-12-7-12-6-12-5-12-5-12-6-11-4-12-5-12-4-12-4-12-4-12-4-12-3-12-3-12-3-12-2-12-3-12-2-12-1-12-2-12-1-12-1-12-1-12-1-12 0-12 0-12 0-12 0-12 1-12 1-12 1-12 1M2773 756l-11-12-11-13-12-12-11-11-11-12-12-11-11-11-12-10-11-10-12-10-11-10-12-9-11-9-12-9-12-9-11-8-12-8-12-8-11-7-12-8-12-7-12-6-11-7-12-6-12-6-12-5-12-6-12-5-12-5-11-4-12-5-12-4-12-3-12-4-12-3-12-3-12-3-12-3-12-2-12-2-12-2-12-1-12-2-12-1-12-1-12 0-12 0-12 0-12 0-12 0-12 1-12 1-12 1-12 1M2785 755l-11-13-12-12-11-12-11-12-12-11-11-11-11-11-12-10-11-11-12-9-11-10-12-10-11-9-12-9-12-8-11-8-12-8-12-8-11-8-12-7-12-7-12-6-11-7-12-6-12-6-12-6-12-5-12-5-12-5-11-4-12-5-12-4-12-4-12-3-12-3-12-4-12-2-12-3-12-2-12-2-12-2-12-2-12-1-12-1-12-1-12 0-12-1-12 0-12 0-12 1-12 0-12 1-12 1M2796 754l-11-13-11-12-11-12-12-12-11-11-11-11-12-11-11-10-12-11-11-10-12-9-11-10-12-9-11-9-12-8-11-8-12-8-12-8-12-8-11-7-12-7-12-7-12-6-11-6-12-6-12-6-12-5-12-5-12-5-12-4-11-5-12-4-12-4-12-3-12-4-12-3-12-2-12-3-12-2-12-2-12-2-12-2-12-1-12-1-12-1-12 0-12-1-12 0-12 0-12 1-12 0-12 1-13 1M2808 753l-11-13-11-12-12-12-11-12-11-11-11-11-12-11-11-10-12-11-11-10-12-9-11-10-12-9-11-9-12-8-12-8-11-8-12-8-12-8-11-7-12-7-12-6-12-7-11-6-12-6-12-6-12-5-12-5-12-5-12-4-12-5-11-4-12-4-12-3-12-3-12-4-12-2-12-3-12-2-12-2-12-2-12-2-12-1-12-1-12-1-12 0-12-1-12 0-12 0-12 1-13 0-12 1M2820 752l-11-13-12-12-11-12-11-12-11-11-12-11-11-11-12-10-11-10-11-10-12-10-11-9-12-10-12-8-11-9-12-8-11-8-12-8-12-7-12-8-11-7-12-6-12-7-12-6-11-6-12-5-12-6-12-5-12-5-12-4-12-5-12-4-11-3-12-4-12-3-12-3-12-3-12-3-12-2-12-2-12-2-12-2-12-1-12-1-12-1-12 0-12-1-12 0-12 0-13 1-12 0-12 1M2832 751l-12-13-11-12-11-12-11-11-12-12-11-11-11-11-12-10-11-10-12-10-11-10-12-9-11-9-12-9-11-9-12-8-12-8-11-8-12-7-12-7-11-7-12-7-12-6-12-7-11-5-12-6-12-5-12-6-12-4-12-5-12-4-12-4-12-4-11-4-12-3-12-3-12-3-12-3-12-2-12-2-12-2-12-1-12-2-12-1-12-1-12 0-12 0-13-1-12 1-12 0-12 0-12 1M2843 750l-11-12-11-13-11-11-12-12-11-11-11-11-12-11-11-11-11-10-12-10-11-9-12-10-11-9-12-9-12-8-11-9-12-8-11-7-12-8-12-7-12-7-11-7-12-6-12-6-12-6-11-6-12-5-12-5-12-5-12-5-12-4-12-4-12-4-12-3-11-4-12-3-12-3-12-2-12-2-12-3-12-1-12-2-12-1-12-1-12-1-12-1-13 0-12 0-12 0-12 0-12 1M2855 749l-11-12-12-12-11-12-11-12-11-11-12-11-11-11-11-10-12-10-11-10-12-10-11-9-12-9-11-9-12-9-11-8-12-8-12-8-11-7-12-8-12-6-11-7-12-7-12-6-12-6-12-5-11-6-12-5-12-5-12-4-12-4-12-5-12-3-12-4-12-3-12-3-12-3-11-3-12-2-12-2-12-2-12-2-12-1-12-1-13-1-12 0-12-1-12 0-12 0-12 1-12 0M2866 749l-11-12-11-13-11-12-11-11-12-11-11-11-11-11-12-11-11-10-11-10-12-9-11-10-12-9-11-9-12-8-12-9-11-8-12-7-11-8-12-7-12-7-12-7-11-6-12-6-12-6-12-6-12-5-11-5-12-5-12-5-12-4-12-4-12-4-12-3-12-4-12-3-12-3-12-2-12-2-12-3-12-1-12-2-12-1-12-1-12-1-12-1-12 0-12 0-12 0-12 0M2878 749l-11-13-11-12-11-12-12-11-11-12-11-11-12-11-11-10-11-10-12-10-11-10-12-9-11-9-12-9-11-9-12-8-11-8-12-8-12-7-11-7-12-7-12-7-11-6-12-6-12-6-12-6-12-5-11-5-12-5-12-5-12-4-12-4-12-4-12-4-12-3-12-3-12-3-12-2-12-3-12-2-12-2-12-1-12-2-12-1-12-1-12 0-12-1-12 0-12 0-12 1M2005 1103l12-10 11-9 12-9 12-10 11-9 12-9 12-8 12-9 11-8 12-9 12-8 12-8 12-8 11-8 12-7 12-8 12-7 12-8 12-7 11-7 12-6 12-7 12-7 12-6 12-6 12-7 12-6 11-5 12-6 12-6 12-5 12-6 12-5 12-5 12-5 11-5 12-5 12-4 12-5 12-4 12-4 12-5 11-4 12-3 12-4 12-4 12-3 12-4 12-3 11-3 12-3 12-3 12-3 12-2 11-3 12-2 12-3 12-2 12-2 11-2 12-2 12-1 12-2 11-2 12-1 12-1 11-1 12-1 12-1 12-1 11-1 12-1 11 0 12 0M1993 1090l12-10 12-9 11-10 12-9 12-9 11-9 12-9 12-8 12-9 12-8 11-8 12-8 12-8 12-8 12-8 11-7 12-7 12-8 12-7 12-7 12-6 12-7 11-7 12-6 12-6 12-7 12-6 12-5 12-6 12-6 11-5 12-6 12-5 12-5 12-5 12-5 12-5 12-4 12-5 11-4 12-4 12-4 12-4 12-4 12-4 12-3 11-4 12-3 12-4 12-3 12-3 12-3 12-2 11-3 12-3 12-2 12-2 12-2 11-2 12-2 12-2 12-2 11-2 12-1 12-1 12-2 11-1 12-1 12-1 11-1 12 0 12-1 11 0 12-1M1981 1077l12-10 12-9 12-10 11-9 12-9 12-9 12-9 11-8 12-9 12-8 12-8 12-8 11-8 12-8 12-7 12-8 12-7 12-7 11-7 12-7 12-7 12-7 12-6 12-7 12-6 11-6 12-6 12-6 12-6 12-5 12-6 12-5 12-5 12-6 11-5 12-4 12-5 12-5 12-4 12-4 12-5 12-4 12-4 11-4 12-3 12-4 12-3 12-4 12-3 12-3 11-3 12-3 12-3 12-2 12-3 12-2 11-3 12-2 12-2 12-2 12-2 11-1 12-2 12-1 12-2 11-1 12-1 12-1 11-1 12-1 12-1 11 0 12-1 12 0M1970 1064l11-10 12-9 12-9 12-10 11-9 12-8 12-9 12-9 11-8 12-8 12-9 12-8 12-7 11-8 12-8 12-7 12-8 12-7 12-7 12-7 11-7 12-6 12-7 12-6 12-6 12-7 12-6 12-5 12-6 11-6 12-5 12-6 12-5 12-5 12-5 12-5 12-4 12-5 11-4 12-5 12-4 12-4 12-4 12-4 12-3 12-4 12-3 11-4 12-3 12-3 12-3 12-3 12-3 12-2 11-3 12-2 12-3 12-2 12-2 11-2 12-1 12-2 12-2 12-1 11-2 12-1 12-1 11-1 12-1 12-1 12 0 11-1 12-1 12 0M1958 1051l12-9 11-10 12-9 12-9 12-9 11-9 12-8 12-9 12-8 11-9 12-8 12-8 12-8 12-7 12-8 11-7 12-8 12-7 12-7 12-7 12-7 12-6 12-7 11-6 12-6 12-7 12-6 12-5 12-6 12-6 12-5 12-5 11-6 12-5 12-5 12-5 12-4 12-5 12-4 12-5 12-4 12-4 12-4 11-4 12-3 12-4 12-3 12-4 12-3 12-3 12-3 11-3 12-3 12-2 12-3 12-2 12-2 11-2 12-2 12-2 12-2 12-2 11-1 12-2 12-1 12-2 11-1 12-1 12-1 12 0 11-1 12-1 12 0 11 0M1946 1039l12-9 12-10 11-9 12-9 12-9 12-9 11-8 12-9 12-8 12-9 12-8 11-8 12-8 12-7 12-8 12-7 12-8 11-7 12-7 12-7 12-7 12-6 12-7 12-6 12-6 12-6 11-6 12-6 12-6 12-5 12-6 12-5 12-5 12-5 12-5 12-5 12-5 11-4 12-5 12-4 12-4 12-4 12-4 12-4 12-4 12-3 12-4 11-3 12-3 12-3 12-3 12-3 12-3 12-3 12-2 11-2 12-3 12-2 12-2 12-2 11-2 12-1 12-2 12-1 12-2 11-1 12-1 12-1 12-1 11-1 12 0 12-1 11 0 12-1M1934 1027l12-9 12-9 12-10 11-9 12-9 12-9 12-8 11-9 12-8 12-8 12-8 12-8 11-8 12-8 12-8 12-7 12-7 12-7 12-7 11-7 12-7 12-7 12-6 12-6 12-7 12-6 12-6 12-6 12-5 11-6 12-5 12-6 12-5 12-5 12-5 12-5 12-4 12-5 12-4 12-4 12-5 11-4 12-4 12-3 12-4 12-4 12-3 12-3 12-4 12-3 12-3 11-2 12-3 12-3 12-2 12-3 12-2 12-2 11-2 12-2 12-2 12-1 12-2 11-1 12-2 12-1 12-1 12-1 11-1 12-1 12 0 11-1 12 0 12-1M1923 1016l11-10 12-9 12-9 11-9 12-9 12-9 12-9 12-8 11-8 12-9 12-8 12-8 12-8 12-7 11-8 12-7 12-8 12-7 12-7 12-7 12-6 12-7 11-6 12-7 12-6 12-6 12-6 12-6 12-5 12-6 12-5 12-6 12-5 11-5 12-5 12-5 12-4 12-5 12-4 12-4 12-5 12-4 12-4 12-3 12-4 12-4 11-3 12-3 12-3 12-4 12-3 12-2 12-3 12-3 12-2 11-2 12-3 12-2 12-2 12-2 12-2 11-1 12-2 12-1 12-2 12-1 11-1 12-1 12-1 12-1 11 0 12-1 12 0 11-1M1911 1005l11-10 12-9 12-9 12-9 11-9 12-9 12-9 12-8 12-9 11-8 12-8 12-8 12-8 12-7 12-8 11-7 12-7 12-8 12-7 12-6 12-7 12-7 12-6 12-7 11-6 12-6 12-6 12-6 12-5 12-6 12-5 12-5 12-6 12-5 12-5 12-4 12-5 11-5 12-4 12-4 12-4 12-4 12-4 12-4 12-4 12-3 12-4 12-3 12-3 12-3 11-3 12-3 12-3 12-2 12-3 12-2 12-2 12-2 11-2 12-2 12-2 12-2 12-1 12-2 11-1 12-1 12-1 12-1 11-1 12-1 12-1 12 0 11-1 12 0M1899 994l12-10 11-9 12-9 12-9 12-9 11-9 12-8 12-9 12-8 12-9 11-8 12-8 12-7 12-8 12-8 12-7 12-7 11-7 12-7 12-7 12-7 12-6 12-7 12-6 12-6 12-6 12-6 11-6 12-6 12-5 12-6 12-5 12-5 12-5 12-5 12-5 12-4 12-5 12-4 12-5 12-4 12-4 11-4 12-3 12-4 12-4 12-3 12-3 12-3 12-4 12-2 12-3 12-3 12-3 11-2 12-2 12-3 12-2 12-2 12-2 12-1 11-2 12-2 12-1 12-1 12-2 11-1 12-1 12 0 12-1 12-1 11 0 12-1 12 0M1887 983l12-9 12-9 11-10 12-9 12-9 12-8 11-9 12-8 12-9 12-8 12-8 11-8 12-8 12-7 12-8 12-7 12-8 12-7 12-7 11-6 12-7 12-7 12-6 12-6 12-7 12-6 12-6 12-5 12-6 12-6 12-5 11-5 12-5 12-5 12-5 12-5 12-5 12-4 12-4 12-5 12-4 12-4 12-4 12-4 12-3 12-4 12-3 11-3 12-4 12-3 12-3 12-2 12-3 12-3 12-2 12-2 12-3 11-2 12-2 12-2 12-1 12-2 12-2 12-1 11-1 12-1 12-2 12-1 12 0 11-1 12-1 12 0 12-1 11 0M1875 973l12-9 12-10 11-9 12-9 12-9 12-9 12-8 11-9 12-8 12-8 12-8 12-8 11-8 12-8 12-7 12-7 12-8 12-7 12-7 12-6 12-7 11-7 12-6 12-6 12-7 12-6 12-6 12-5 12-6 12-5 12-6 12-5 12-5 12-5 12-5 11-5 12-4 12-5 12-4 12-5 12-4 12-4 12-4 12-3 12-4 12-4 12-3 12-3 12-3 12-3 12-3 11-3 12-3 12-2 12-3 12-2 12-2 12-2 12-2 12-2 11-2 12-2 12-1 12-2 12-1 12-1 11-1 12-1 12-1 12-1 12 0 11-1 12 0 12-1M1863 963l12-9 12-10 12-9 11-9 12-9 12-8 12-9 11-9 12-8 12-8 12-8 12-8 12-8 12-7 11-8 12-7 12-7 12-7 12-7 12-7 12-7 12-6 12-7 11-6 12-6 12-6 12-6 12-6 12-6 12-5 12-5 12-6 12-5 12-5 12-5 12-4 12-5 12-5 12-4 12-4 11-4 12-4 12-4 12-4 12-4 12-3 12-3 12-4 12-3 12-3 12-3 12-3 12-2 12-3 12-2 11-3 12-2 12-2 12-2 12-2 12-1 12-2 12-2 11-1 12-1 12-2 12-1 12-1 12 0 11-1 12-1 12 0 12-1 11 0M1852 953l11-9 12-9 12-10 11-9 12-8 12-9 12-9 12-8 11-8 12-9 12-8 12-8 12-7 12-8 12-7 11-8 12-7 12-7 12-7 12-7 12-6 12-7 12-6 12-7 12-6 11-6 12-6 12-5 12-6 12-5 12-6 12-5 12-5 12-5 12-5 12-5 12-4 12-5 12-4 12-4 12-5 12-4 12-3 12-4 12-4 12-3 11-4 12-3 12-3 12-3 12-3 12-3 12-2 12-3 12-2 12-3 12-2 12-2 12-2 11-2 12-2 12-1 12-2 12-1 12-1 12-2 11-1 12-1 12-1 12 0 12-1 11 0 12-1 12 0M1840 944l11-9 12-10 12-9 12-9 11-9 12-8 12-9 12-8 12-9 11-8 12-8 12-8 12-7 12-8 12-8 12-7 11-7 12-7 12-7 12-7 12-7 12-6 12-6 12-7 12-6 12-6 12-6 12-5 11-6 12-6 12-5 12-5 12-5 12-5 12-5 12-5 12-4 12-5 12-4 12-4 12-5 12-4 12-3 12-4 12-4 12-3 12-4 12-3 12-3 12-3 11-3 12-3 12-2 12-3 12-2 12-3 12-2 12-2 12-2 12-2 12-1 12-2 11-2 12-1 12-1 12-2 12-1 12-1 11 0 12-1 12-1 12 0 12-1 11 0M1828 935l12-10 11-9 12-9 12-9 12-9 11-8 12-9 12-8 12-9 12-8 11-8 12-8 12-7 12-8 12-7 12-8 12-7 11-7 12-7 12-7 12-6 12-7 12-6 12-7 12-6 12-6 12-6 12-5 12-6 12-5 12-6 11-5 12-5 12-5 12-5 12-5 12-4 12-5 12-4 12-4 12-4 12-4 12-4 12-4 12-3 12-4 12-3 12-4 12-3 12-3 12-3 12-2 12-3 12-3 12-2 11-2 12-2 12-3 12-1 12-2 12-2 12-2 12-1 12-2 11-1 12-1 12-1 12-1 12-1 12-1 11 0 12-1 12 0 12-1M1816 926l12-9 11-10 12-9 12-9 12-9 11-8 12-9 12-8 12-8 12-9 11-8 12-7 12-8 12-8 12-7 12-7 12-8 12-7 11-7 12-6 12-7 12-6 12-7 12-6 12-6 12-6 12-6 12-6 12-5 12-6 12-5 12-5 12-5 12-5 12-5 12-5 11-5 12-4 12-4 12-5 12-4 12-4 12-3 12-4 12-4 12-3 12-4 12-3 12-3 12-3 12-3 12-3 12-2 12-3 12-2 12-3 12-2 12-2 11-2 12-2 12-1 12-2 12-2 12-1 12-1 12-1 12-1 11-1 12-1 12-1 12-1 12 0 11-1 12 0M1804 918l12-10 11-9 12-9 12-9 12-9 12-9 11-8 12-9 12-8 12-8 12-8 11-8 12-7 12-8 12-7 12-8 12-7 12-7 12-7 12-7 11-6 12-7 12-6 12-6 12-6 12-6 12-6 12-6 12-6 12-5 12-5 12-6 12-5 12-5 12-4 12-5 12-5 12-4 12-5 12-4 12-4 12-4 12-4 11-3 12-4 12-3 12-4 12-3 12-3 12-3 12-3 12-3 12-2 12-3 12-2 12-3 12-2 12-2 12-2 12-2 12-1 11-2 12-2 12-1 12-1 12-1 12-1 12-1 12-1 11-1 12-1 12 0 12-1 12 0M1792 909l12-9 12-9 11-9 12-9 12-9 12-9 11-8 12-9 12-8 12-8 12-8 12-8 11-8 12-7 12-8 12-7 12-7 12-7 12-7 12-7 12-6 11-7 12-6 12-6 12-6 12-6 12-6 12-6 12-6 12-5 12-5 12-6 12-5 12-5 12-4 12-5 12-5 12-4 12-4 12-5 12-4 12-4 12-3 12-4 12-4 12-3 12-4 12-3 12-3 11-3 12-3 12-3 12-2 12-3 12-2 12-2 12-3 12-2 12-2 12-1 12-2 12-2 12-1 12-2 11-1 12-1 12-1 12-1 12-1 12-1 12 0 11-1 12 0 12-1M1780 901l12-9 12-9 11-9 12-9 12-9 12-9 12-8 11-9 12-8 12-8 12-8 12-8 12-7 11-8 12-7 12-8 12-7 12-7 12-7 12-6 12-7 12-6 11-7 12-6 12-6 12-6 12-6 12-6 12-5 12-6 12-5 12-5 12-5 12-5 12-5 12-5 12-4 12-5 12-4 12-4 12-4 12-4 12-4 12-4 12-3 12-4 12-3 12-3 12-3 12-3 12-3 12-3 12-3 12-2 11-3 12-2 12-2 12-2 12-2 12-2 12-2 12-1 12-2 12-1 12-1 12-2 11-1 12-1 12 0 12-1 12-1 12 0 12-1 11 0M1768 894l12-10 12-9 12-9 11-9 12-9 12-8 12-9 11-8 12-8 12-8 12-8 12-8 12-8 11-7 12-8 12-7 12-7 12-7 12-7 12-7 12-6 12-7 12-6 12-6 11-7 12-5 12-6 12-6 12-6 12-5 12-5 12-6 12-5 12-5 12-4 12-5 12-5 12-4 12-4 12-4 12-5 12-4 12-3 12-4 12-4 12-3 12-3 12-4 12-3 12-3 12-3 12-2 12-3 12-3 12-2 12-2 12-2 12-2 11-2 12-2 12-2 12-2 12-1 12-1 12-2 12-1 12-1 12-1 11-1 12 0 12-1 12-1 12 0 12 0M1756 886l12-9 12-9 12-9 11-9 12-9 12-8 12-9 12-8 11-9 12-8 12-8 12-7 12-8 12-8 11-7 12-7 12-7 12-7 12-7 12-7 12-7 12-6 12-6 12-7 12-6 11-6 12-5 12-6 12-6 12-5 12-5 12-6 12-5 12-5 12-4 12-5 12-5 12-4 12-4 12-5 12-4 12-4 12-3 12-4 12-4 12-3 12-3 12-4 12-3 12-3 12-3 12-2 12-3 12-2 12-3 12-2 12-2 12-2 12-2 12-2 12-2 11-1 12-2 12-1 12-2 12-1 12-1 12-1 12-1 12 0 11-1 12 0 12-1 12 0M1745 879l11-9 12-9 12-9 11-9 12-9 12-8 12-9 12-8 11-8 12-9 12-7 12-8 12-8 12-7 11-8 12-7 12-7 12-7 12-7 12-7 12-6 12-7 12-6 12-6 12-6 12-6 12-6 11-6 12-5 12-6 12-5 12-5 12-5 12-5 12-5 12-5 12-4 12-5 12-4 12-4 12-4 12-4 12-4 12-4 12-3 12-4 12-3 12-3 12-3 12-3 12-3 12-3 12-3 12-2 12-3 12-2 12-2 12-2 12-2 12-2 12-2 12-1 12-2 12-1 11-1 12-1 12-2 12 0 12-1 12-1 12-1 12 0 11-1 12 0M1733 873l11-10 12-9 12-9 12-9 11-9 12-8 12-9 12-8 11-8 12-8 12-8 12-8 12-8 12-7 12-7 11-8 12-7 12-7 12-7 12-6 12-7 12-6 12-7 12-6 12-6 12-6 12-6 12-5 12-6 11-5 12-6 12-5 12-5 12-5 12-5 12-4 12-5 12-4 12-5 12-4 12-4 12-4 12-4 12-3 12-4 12-3 12-4 12-3 12-3 12-3 12-3 12-2 12-3 12-3 12-2 12-2 12-2 12-3 12-1 12-2 12-2 12-2 12-1 12-1 12-2 12-1 11-1 12-1 12-1 12 0 12-1 12-1 12 0 12 0M1721 866l11-9 12-9 12-9 12-9 11-9 12-9 12-8 12-8 12-9 11-8 12-8 12-7 12-8 12-7 12-8 12-7 11-7 12-7 12-7 12-7 12-6 12-7 12-6 12-6 12-6 12-6 12-6 12-6 12-5 12-6 12-5 11-5 12-5 12-5 12-5 12-5 12-4 12-5 12-4 12-4 12-4 12-4 12-4 12-3 12-4 12-3 12-4 12-3 12-3 12-3 12-3 12-3 12-2 12-3 12-2 12-2 12-3 12-2 12-2 12-1 12-2 12-2 12-1 12-2 12-1 12-1 12-1 12-1 11-1 12-1 12 0 12-1 12 0 12 0M1709 860l12-9 11-9 12-9 12-9 11-9 12-9 12-8 12-8 12-9 11-8 12-8 12-7 12-8 12-8 12-7 12-7 11-7 12-7 12-7 12-7 12-6 12-7 12-6 12-6 12-6 12-6 12-6 12-6 12-5 12-6 12-5 12-5 12-5 12-5 12-5 12-4 11-5 12-4 12-5 12-4 12-4 12-4 12-4 12-3 12-4 12-3 12-4 12-3 12-3 12-3 12-3 12-3 12-2 12-3 12-2 12-2 12-3 12-2 12-2 12-1 12-2 12-2 12-1 12-2 12-1 12-1 12-1 12-1 12-1 12 0 11-1 12-1 12 0 12 0M1697 854l12-9 11-9 12-9 12-9 12-9 11-9 12-8 12-8 12-8 12-9 11-7 12-8 12-8 12-7 12-8 12-7 12-7 11-7 12-7 12-7 12-6 12-7 12-6 12-6 12-6 12-6 12-6 12-5 12-6 12-5 12-6 12-5 12-5 12-5 12-5 12-4 12-5 12-4 12-4 12-5 12-4 12-4 12-3 12-4 12-4 12-3 12-3 12-4 12-3 12-3 12-2 12-3 12-3 12-2 12-3 12-2 11-2 12-2 12-2 12-2 12-2 12-1 12-2 12-1 12-1 12-2 12-1 12-1 12 0 12-1 12-1 11 0 12-1 12 0M1685 848l12-9 11-9 12-9 12-9 12-9 11-8 12-9 12-8 12-8 12-8 11-8 12-8 12-7 12-8 12-7 12-7 12-8 11-6 12-7 12-7 12-7 12-6 12-6 12-6 12-6 12-6 12-6 12-6 12-5 12-6 12-5 12-5 12-5 12-5 12-5 12-5 12-4 12-5 12-4 12-4 12-4 12-4 12-4 12-3 12-4 12-3 12-4 12-3 12-3 12-3 12-3 12-3 12-2 12-3 12-2 12-2 12-3 12-2 12-1 11-2 12-2 12-2 12-1 12-1 12-2 12-1 12-1 12-1 12-1 12 0 12-1 12-1 11 0 12 0M1673 843l12-9 12-9 11-9 12-9 12-9 12-8 11-9 12-8 12-8 12-8 11-8 12-8 12-8 12-7 12-7 12-8 12-7 11-7 12-6 12-7 12-7 12-6 12-6 12-7 12-6 12-6 12-5 12-6 12-6 12-5 12-5 12-5 12-5 12-5 12-5 12-5 12-4 12-5 12-4 12-4 12-4 12-4 12-4 12-4 12-3 12-4 12-3 12-3 12-3 12-3 12-3 12-3 12-2 12-3 12-2 12-2 12-3 12-2 12-2 12-1 12-2 12-2 11-1 12-2 12-1 12-1 12-1 12-1 12-1 12-1 12 0 12-1 12 0 12 0M1661 838l12-9 12-9 11-9 12-9 12-9 12-8 11-9 12-8 12-8 12-8 12-8 11-8 12-8 12-7 12-7 12-8 12-7 12-7 11-6 12-7 12-7 12-6 12-6 12-7 12-6 12-5 12-6 12-6 12-5 12-6 12-5 12-5 12-5 12-5 12-5 12-5 12-4 12-4 12-5 12-4 12-4 12-4 12-4 12-3 12-4 12-3 12-4 12-3 12-3 12-3 12-3 12-2 12-3 12-3 12-2 12-2 12-2 12-2 12-2 12-2 12-2 12-2 12-1 12-1 11-2 12-1 12-1 12-1 12-1 12 0 12-1 12-1 12 0 12 0M1649 833l12-9 12-9 11-9 12-9 12-9 12-8 11-9 12-8 12-8 12-8 12-8 11-8 12-7 12-8 12-7 12-7 12-7 12-7 11-7 12-7 12-6 12-7 12-6 12-6 12-6 12-6 12-6 12-6 12-5 12-5 12-6 12-5 12-5 12-5 12-5 12-4 12-5 12-4 12-4 12-5 12-4 12-3 12-4 12-4 12-3 12-4 12-3 12-3 12-4 12-2 12-3 12-3 12-3 12-2 12-3 12-2 12-2 12-2 12-2 12-2 12-2 12-1 12-2 12-1 12-1 12-1 11-1 12-1 12-1 12-1 12-1 12 0 12-1 12 0M1637 829l12-9 12-10 12-8 11-9 12-9 12-9 12-8 11-8 12-8 12-8 12-8 12-8 11-8 12-7 12-7 12-8 12-7 12-7 12-6 11-7 12-7 12-6 12-6 12-7 12-6 12-5 12-6 12-6 12-5 12-6 12-5 12-5 12-5 12-5 12-5 12-4 12-5 12-4 12-5 12-4 12-4 12-4 12-4 12-3 12-4 12-3 12-4 12-3 12-3 12-3 12-3 12-2 12-3 12-2 12-3 12-2 12-2 12-2 12-2 12-2 12-2 12-1 12-2 12-1 12-2 12-1 12-1 11-1 12-1 12 0 12-1 12 0 12-1 12 0M1626 825l11-10 12-9 12-9 11-8 12-9 12-9 12-8 11-8 12-9 12-8 12-7 12-8 11-8 12-7 12-8 12-7 12-7 12-7 12-7 11-6 12-7 12-6 12-6 12-7 12-6 12-6 12-5 12-6 12-5 12-6 12-5 12-5 12-5 12-5 12-5 12-5 12-4 12-4 12-5 12-4 12-4 12-4 12-4 12-3 12-4 12-3 12-4 12-3 12-3 12-3 12-3 12-2 12-3 12-3 12-2 12-2 12-2 12-2 12-2 12-2 12-2 12-1 12-2 12-1 12-2 12-1 12-1 12-1 11-1 12 0 12-1 12-1 12 0 12 0M1614 821l11-10 12-9 12-9 11-8 12-9 12-9 12-8 11-8 12-8 12-8 12-8 12-8 11-8 12-7 12-7 12-8 12-7 12-7 12-6 12-7 11-7 12-6 12-6 12-6 12-6 12-6 12-6 12-6 12-5 12-6 12-5 12-5 12-5 12-5 12-5 12-4 12-5 12-4 12-5 12-4 12-4 12-4 12-3 12-4 12-4 12-3 12-3 12-4 12-3 12-3 12-2 12-3 12-3 12-2 12-3 12-2 12-2 12-2 12-2 12-2 12-2 12-1 12-2 12-1 12-1 12-2 12-1 12-1 12 0 11-1 12-1 12 0 12-1 12 0M1602 817l12-9 11-9 12-9 12-9 11-9 12-8 12-9 12-8 11-8 12-8 12-8 12-8 12-7 11-8 12-7 12-7 12-7 12-7 12-7 12-7 11-6 12-7 12-6 12-6 12-6 12-6 12-6 12-5 12-6 12-5 12-5 12-6 12-5 12-4 12-5 12-5 12-4 12-5 12-4 12-4 12-4 12-4 12-4 12-4 12-3 12-4 12-3 12-3 12-3 12-3 12-3 12-3 12-2 12-3 12-2 12-3 12-2 12-2 12-2 12-2 12-1 12-2 12-1 12-2 12-1 12-1 12-1 12-1 12-1 12-1 11 0 12-1 12 0 12-1M1590 814l12-10 11-9 12-9 12-8 11-9 12-9 12-8 12-8 11-8 12-8 12-8 12-8 12-8 11-7 12-7 12-7 12-8 12-6 12-7 12-7 12-6 11-7 12-6 12-6 12-6 12-6 12-6 12-6 12-5 12-5 12-6 12-5 12-5 12-5 12-4 12-5 12-5 12-4 12-4 12-4 12-4 12-4 12-4 12-4 12-3 12-4 12-3 12-3 12-3 12-3 12-3 12-3 12-3 12-2 12-3 12-2 12-2 12-2 12-2 12-2 12-2 12-1 12-2 12-1 12-1 12-1 12-2 12 0 12-1 12-1 12-1 11 0 12-1 12 0M1578 811l12-10 11-9 12-9 12-8 12-9 11-9 12-8 12-8 12-8 11-8 12-8 12-8 12-8 12-7 11-7 12-8 12-7 12-6 12-7 12-7 12-6 11-7 12-6 12-6 12-6 12-6 12-6 12-6 12-5 12-5 12-6 12-5 12-5 12-5 12-5 12-4 12-5 12-4 12-4 12-4 12-4 12-4 12-4 12-4 12-3 12-4 12-3 12-3 12-3 12-3 12-3 12-3 12-3 12-2 12-3 12-2 12-2 12-2 12-2 12-2 12-2 12-1 12-2 12-1 12-1 12-2 12-1 12-1 12 0 12-1 12-1 11 0 12-1 12 0M1566 808l12-9 12-10 11-8 12-9 12-9 11-8 12-9 12-8 12-8 11-8 12-8 12-8 12-7 12-8 11-7 12-7 12-7 12-7 12-7 12-7 12-6 11-7 12-6 12-6 12-6 12-6 12-6 12-5 12-6 12-5 12-5 12-6 12-5 12-4 12-5 12-5 12-4 12-5 12-4 12-4 12-4 12-4 12-4 12-4 12-3 12-4 12-3 12-3 12-3 12-3 12-3 12-3 12-2 12-3 12-2 12-3 12-2 12-2 12-2 12-2 12-1 12-2 12-1 12-2 12-1 12-1 12-1 12-1 12-1 12-1 12-1 11 0 12-1 12 0M1554 805l12-9 12-9 11-9 12-9 12-8 12-9 11-8 12-9 12-8 11-8 12-8 12-7 12-8 12-7 11-8 12-7 12-7 12-7 12-7 12-6 12-7 12-6 11-6 12-7 12-6 12-5 12-6 12-6 12-5 12-6 12-5 12-5 12-5 12-5 12-5 12-4 12-5 12-4 12-5 12-4 12-4 12-4 12-3 12-4 12-4 12-3 12-3 12-4 12-3 12-3 12-3 12-2 12-3 12-2 12-3 12-2 12-2 12-2 12-2 12-2 12-2 12-1 12-2 12-1 12-2 12-1 12-1 12-1 12-1 12-1 12 0 12-1 11 0 12 0M1543 803l11-9 12-9 12-9 11-9 12-9 12-8 11-9 12-8 12-8 12-8 11-8 12-8 12-7 12-8 12-7 11-7 12-7 12-7 12-7 12-6 12-7 12-6 11-7 12-6 12-6 12-6 12-5 12-6 12-6 12-5 12-5 12-5 12-5 12-5 12-5 12-5 12-4 12-4 12-5 12-4 12-4 12-4 12-4 12-3 12-4 12-3 12-4 12-3 12-3 12-3 12-3 12-3 12-2 12-3 12-2 12-2 12-3 12-2 12-2 12-1 12-2 12-2 12-1 12-2 12-1 12-1 12-1 12-1 12-1 12-1 12 0 12-1 11 0 12-1M1531 801l11-9 12-9 12-9 11-9 12-9 12-8 12-9 11-8 12-8 12-8 11-8 12-8 12-7 12-8 12-7 11-7 12-7 12-7 12-7 12-6 12-7 12-6 12-7 11-6 12-6 12-6 12-5 12-6 12-5 12-6 12-5 12-5 12-5 12-5 12-5 12-5 12-4 12-4 12-5 12-4 12-4 12-4 12-4 12-3 12-4 12-3 12-4 12-3 12-3 12-3 12-3 12-3 12-2 12-3 12-2 12-2 12-3 12-2 12-2 12-1 12-2 12-2 12-1 12-2 12-1 12-1 12-1 12-1 12-1 12-1 12-1 12 0 11-1 12 0M1519 799l12-9 11-9 12-9 12-9 11-8 12-9 12-8 11-9 12-8 12-8 12-8 11-7 12-8 12-7 12-8 12-7 11-7 12-7 12-6 12-7 12-7 12-6 12-6 12-6 11-6 12-6 12-6 12-6 12-5 12-6 12-5 12-5 12-5 12-5 12-5 12-4 12-5 12-4 12-4 12-5 12-4 12-4 12-3 12-4 12-4 12-3 12-3 12-4 12-3 12-3 12-3 12-2 12-3 12-2 12-3 12-2 12-2 12-2 12-2 12-2 12-2 12-2 12-1 12-1 12-2 12-1 12-1 12-1 12-1 12-1 12 0 12-1 11 0 12-1M1507 798l12-10 11-9 12-9 12-8 11-9 12-8 12-9 12-8 11-8 12-8 12-8 12-8 11-7 12-8 12-7 12-7 12-7 11-7 12-7 12-7 12-6 12-6 12-7 12-6 11-6 12-6 12-5 12-6 12-6 12-5 12-5 12-5 12-5 12-5 12-5 12-5 12-4 12-5 12-4 12-4 12-4 12-4 12-4 12-3 12-4 12-3 12-4 12-3 12-3 12-3 12-3 12-3 12-2 12-3 12-2 12-3 12-2 12-2 12-2 12-2 12-1 12-2 12-2 12-1 12-1 12-2 12-1 12-1 12-1 12 0 12-1 12-1 11 0 12 0M1495 796l12-9 12-9 11-9 12-9 12-8 11-9 12-8 12-8 11-8 12-8 12-8 12-8 11-7 12-8 12-7 12-7 12-7 11-7 12-7 12-7 12-6 12-7 12-6 12-6 12-6 11-6 12-6 12-5 12-6 12-5 12-5 12-6 12-5 12-4 12-5 12-5 12-4 12-5 12-4 12-4 12-4 12-4 12-4 12-4 12-3 12-4 12-3 12-3 12-3 12-3 12-3 12-3 12-3 12-2 12-3 12-2 12-2 12-2 12-2 12-2 12-2 12-1 12-2 12-1 12-2 12-1 12-1 12-1 12-1 12-1 12 0 12-1 11 0 12-1M1484 795l11-9 12-9 12-9 11-8 12-9 11-9 12-8 12-8 12-8 11-8 12-8 12-8 12-7 11-8 12-7 12-7 12-7 12-7 11-7 12-7 12-6 12-7 12-6 12-6 12-6 12-6 11-6 12-5 12-6 12-5 12-5 12-6 12-5 12-4 12-5 12-5 12-4 12-5 12-4 12-4 12-4 12-4 12-4 12-4 12-3 12-4 12-3 12-3 12-3 12-3 12-3 12-3 12-3 12-2 12-3 12-2 12-2 12-2 12-2 12-2 12-2 12-1 12-2 12-1 12-2 12-1 12-1 12-1 12-1 12-1 12 0 12-1 11 0 12-1M1472 795l12-9 11-9 12-9 11-9 12-9 12-8 11-9 12-8 12-8 11-8 12-8 12-7 12-8 11-7 12-8 12-7 12-7 12-7 12-7 11-6 12-7 12-6 12-6 12-7 12-6 12-6 11-5 12-6 12-5 12-6 12-5 12-5 12-5 12-5 12-5 12-5 12-4 12-4 12-5 12-4 12-4 12-4 12-4 12-3 12-4 12-3 12-4 12-3 12-3 12-3 12-3 12-3 12-2 12-3 12-2 12-3 12-2 12-2 12-2 12-2 12-2 12-1 12-2 12-1 12-2 12-1 12-1 12-1 12-1 12-1 12 0 11-1 12 0 12-1M1460 794l12-9 11-9 12-9 12-9 11-8 12-9 12-8 11-8 12-8 12-8 11-8 12-8 12-7 12-8 11-7 12-7 12-7 12-7 12-7 11-7 12-6 12-7 12-6 12-6 12-6 12-6 12-6 11-5 12-6 12-5 12-5 12-6 12-5 12-5 12-4 12-5 12-4 12-5 12-4 12-4 12-4 12-4 12-4 12-4 12-3 12-4 12-3 12-3 12-4 12-3 12-2 12-3 12-3 12-2 12-3 12-2 12-2 12-2 12-2 12-2 12-2 12-2 12-1 12-2 12-1 12-1 12-1 12-1 12-1 12-1 12-1 11 0 12-1 12 0M1449 794l11-9 12-9 11-9 12-9 11-8 12-9 12-8 11-8 12-9 12-7 12-8 11-8 12-8 12-7 12-7 11-7 12-8 12-6 12-7 12-7 11-6 12-7 12-6 12-6 12-6 12-6 12-6 12-5 11-6 12-5 12-6 12-5 12-5 12-5 12-4 12-5 12-5 12-4 12-4 12-5 12-4 12-4 12-3 12-4 12-4 12-3 12-3 12-4 12-3 12-3 12-3 12-2 12-3 12-3 12-2 12-2 12-3 12-2 12-2 12-2 12-1 12-2 12-2 12-1 12-1 12-2 12-1 12-1 12-1 12 0 11-1 12-1 12 0 12-1M1437 794l11-9 12-9 12-9 11-9 12-8 11-9 12-8 12-8 11-8 12-8 12-8 12-8 11-7 12-8 12-7 12-7 11-7 12-7 12-7 12-7 12-6 11-7 12-6 12-6 12-6 12-6 12-6 12-5 12-6 11-5 12-6 12-5 12-5 12-5 12-4 12-5 12-5 12-4 12-4 12-4 12-5 12-3 12-4 12-4 12-4 12-3 12-3 12-4 12-3 12-3 12-3 12-2 12-3 12-3 12-2 12-2 12-3 12-2 12-2 12-2 12-1 12-2 12-2 12-1 12-1 12-2 12-1 12-1 12-1 11-1 12 0 12-1 12 0 12-1M1425 795l12-10 11-9 12-8 11-9 12-9 12-8 11-9 12-8 12-8 11-8 12-8 12-8 11-7 12-8 12-7 12-7 11-7 12-7 12-7 12-6 12-7 12-6 11-7 12-6 12-6 12-6 12-5 12-6 12-6 12-5 11-5 12-5 12-5 12-5 12-5 12-5 12-4 12-5 12-4 12-4 12-4 12-4 12-4 12-4 12-3 12-4 12-3 12-3 12-4 12-3 12-2 12-3 12-3 12-2 12-3 12-2 12-2 12-3 12-2 12-1 12-2 12-2 12-2 12-1 12-1 12-2 12-1 12-1 12-1 11 0 12-1 12-1 12 0 12-1M1413 795l12-9 12-9 11-9 12-9 11-8 12-9 12-8 11-8 12-8 12-8 11-8 12-8 12-7 11-8 12-7 12-7 12-7 11-7 12-7 12-7 12-6 12-7 12-6 11-6 12-6 12-6 12-6 12-5 12-6 12-5 12-6 11-5 12-5 12-5 12-5 12-4 12-5 12-4 12-4 12-5 12-4 12-4 12-3 12-4 12-4 12-3 12-4 12-3 12-3 12-3 12-3 12-3 12-2 12-3 12-2 12-3 12-2 12-2 12-2 12-2 12-2 12-2 12-1 12-2 12-1 12-1 12-1 12-1 11-1 12-1 12-1 12 0 12-1 12 0M1402 796l11-9 12-9 11-9 12-9 12-8 11-9 12-8 11-8 12-9 12-8 11-7 12-8 12-8 12-7 11-7 12-8 12-7 12-6 11-7 12-7 12-6 12-7 12-6 12-6 11-6 12-6 12-6 12-6 12-5 12-6 12-5 12-5 11-5 12-5 12-5 12-4 12-5 12-4 12-5 12-4 12-4 12-4 12-4 12-3 12-4 12-4 12-3 12-3 12-3 12-3 12-3 12-3 12-3 12-2 12-3 12-2 12-2 12-2 12-2 12-2 12-2 12-2 12-1 12-2 12-1 12-2 12-1 11-1 12-1 12-1 12 0 12-1M1390 797l12-9 11-9 12-9 11-9 12-8 12-9 11-8 12-8 11-8 12-8 12-8 11-8 12-8 12-7 12-7 11-7 12-7 12-7 12-7 11-7 12-6 12-7 12-6 12-6 12-6 11-6 12-6 12-6 12-5 12-5 12-6 12-5 12-5 11-5 12-5 12-4 12-5 12-4 12-5 12-4 12-4 12-4 12-4 12-3 12-4 12-4 12-3 12-3 12-3 12-3 12-3 12-3 12-3 12-2 12-3 12-2 12-2 12-3 12-2 12-1 12-2 12-2 12-2 12-1 12-1 12-2 12-1 11-1 12-1 12-1M1379 799l11-10 12-9 11-8 12-9 11-9 12-8 11-9 12-8 12-8 11-8 12-8 12-8 11-7 12-8 12-7 12-7 11-7 12-7 12-7 12-6 11-7 12-6 12-7 12-6 12-6 12-6 11-6 12-5 12-6 12-5 12-5 12-6 12-5 12-5 12-4 11-5 12-5 12-4 12-4 12-5 12-4 12-4 12-3 12-4 12-4 12-3 12-4 12-3 12-3 12-3 12-3 12-3 12-3 12-2 12-3 12-2 12-2 12-2 12-2 12-2 12-2 12-2 12-1 12-2 12-1 12-2 11-1M1367 800l12-9 11-9 12-9 11-9 12-8 11-9 12-8 11-8 12-8 12-8 11-8 12-8 12-8 11-7 12-7 12-7 12-7 11-7 12-7 12-7 12-6 11-7 12-6 12-6 12-6 12-6 12-6 11-6 12-5 12-6 12-5 12-5 12-5 12-5 12-5 12-4 11-5 12-5 12-4 12-4 12-4 12-4 12-4 12-4 12-3 12-4 12-3 12-3 12-4 12-3 12-3 12-2 12-3 12-3 12-2 12-3 12-2 12-2 12-2 12-2 12-2 12-1 12-2 12-2 12-1M1355 802l12-9 11-9 12-9 11-9 12-8 12-9 11-8 12-8 11-9 12-8 12-7 11-8 12-8 12-7 11-7 12-8 12-7 12-7 11-6 12-7 12-7 12-6 11-6 12-6 12-6 12-6 12-6 12-6 11-5 12-6 12-5 12-5 12-5 12-5 12-5 12-5 12-4 12-5 11-4 12-4 12-4 12-4 12-4 12-4 12-4 12-3 12-3 12-4 12-3 12-3 12-3 12-3 12-2 12-3 12-3 12-2 12-2 12-2 12-2 12-2 12-2 12-2 12-2M1344 804l11-9 12-9 11-9 12-9 11-8 12-9 12-8 11-8 12-8 11-8 12-8 12-8 11-8 12-7 12-7 11-7 12-8 12-6 12-7 11-7 12-6 12-7 12-6 11-6 12-6 12-6 12-6 12-6 12-5 11-6 12-5 12-5 12-5 12-5 12-5 12-5 12-4 12-5 12-4 11-4 12-4 12-4 12-4 12-4 12-4 12-3 12-4 12-3 12-3 12-3 12-3 12-3 12-3 12-2 12-3 12-2 12-2 12-2 12-3 12-1M1332 807l12-9 11-10 12-8 11-9 12-9 11-8 12-9 12-8 11-8 12-8 11-8 12-8 12-7 11-8 12-7 12-7 11-7 12-7 12-7 12-7 11-6 12-7 12-6 12-6 12-6 11-6 12-6 12-5 12-6 12-5 12-6 11-5 12-5 12-5 12-5 12-4 12-5 12-4 12-5 12-4 12-4 11-4 12-4 12-4 12-3 12-4 12-3 12-4 12-3 12-3 12-3 12-3 12-2 12-3 12-3 12-2 12-2 12-2M1321 809l11-9 12-9 11-9 12-9 11-8 12-9 11-8 12-8 12-8 11-8 12-8 11-8 12-8 12-7 11-7 12-7 12-8 11-6 12-7 12-7 12-7 11-6 12-6 12-6 12-6 12-6 11-6 12-6 12-5 12-6 12-5 12-5 11-5 12-5 12-5 12-5 12-5 12-4 12-4 12-5 12-4 12-4 12-4 11-3 12-4 12-3 12-4 12-3 12-3 12-3 12-3 12-3 12-3 12-3 12-2 12-3M1309 812l12-9 11-9 12-9 11-9 12-8 11-9 12-8 11-8 12-9 12-8 11-7 12-8 11-8 12-7 12-7 11-8 12-7 12-7 12-6 11-7 12-7 12-6 11-6 12-7 12-6 12-6 12-5 11-6 12-6 12-5 12-5 12-6 12-5 12-5 11-4 12-5 12-5 12-4 12-5 12-4 12-4 12-4 12-4 12-4 11-3 12-4 12-3 12-4 12-3 12-3 12-3 12-3 12-2 12-3M1298 815l11-9 12-9 11-9 12-9 11-8 12-9 11-8 12-8 11-8 12-8 12-8 11-8 12-8 11-7 12-7 12-8 11-7 12-7 12-6 12-7 11-7 12-6 12-6 12-7 11-6 12-6 12-5 12-6 12-6 11-5 12-5 12-6 12-5 12-5 12-4 11-5 12-5 12-4 12-5 12-4 12-4 12-4 12-4 12-4 12-3 12-4 11-3 12-4 12-3 12-3 12-3M1287 819l11-9 11-9 12-9 11-9 12-9 11-8 12-9 11-8 12-8 11-8 12-8 12-8 11-7 12-8 12-7 11-7 12-7 12-7 11-7 12-7 12-6 11-7 12-6 12-6 12-6 11-6 12-6 12-6 12-5 12-6 11-5 12-5 12-5 12-5 12-5 12-5 12-5 11-4 12-4 12-5 12-4 12-4 12-4 12-4 12-3 12-4 12-3 12-4 11-3M1275 822l12-9 11-9 11-9 12-9 11-8 12-9 11-8 12-8 11-8 12-8 12-8 11-8 12-8 11-7 12-7 12-8 11-7 12-7 12-7 11-6 12-7 12-6 11-7 12-6 12-6 12-6 12-6 11-5 12-6 12-5 12-6 12-5 11-5 12-5 12-5 12-5 12-4 12-5 12-4 11-4 12-4 12-4 12-4 12-4 12-4 12-3 12-4M1264 826l11-9 12-9 11-9 11-9 12-8 11-9 12-8 11-9 12-8 11-8 12-7 12-8 11-8 12-7 11-8 12-7 12-7 11-7 12-7 12-6 11-7 12-6 12-7 12-6 11-6 12-6 12-6 12-6 11-5 12-6 12-5 12-5 12-5 11-5 12-5 12-5 12-4 12-5 12-4 12-5 12-4 11-4 12-4 12-4 12-3M1253 830l11-9 11-9 12-9 11-9 12-8 11-9 11-8 12-8 11-9 12-8 12-7 11-8 12-8 11-7 12-8 12-7 11-7 12-7 11-7 12-6 12-7 12-6 11-7 12-6 12-6 11-6 12-6 12-6 12-5 12-6 11-5 12-5 12-5 12-5 12-5 11-5 12-5 12-4 12-4 12-5 12-4 12-4 11-4M1241 835l12-9 11-10 11-8 12-9 11-9 12-8 11-9 12-8 11-8 12-8 11-8 12-8 11-7 12-8 11-7 12-8 12-7 11-7 12-6 12-7 11-7 12-6 12-7 11-6 12-6 12-6 12-6 11-5 12-6 12-5 12-6 11-5 12-5 12-5 12-5 12-5 12-4 11-5 12-4 12-5 12-4M1230 839l11-9 12-9 11-9 11-9 12-8 11-9 12-8 11-9 12-8 11-8 12-8 11-7 12-8 11-7 12-8 12-7 11-7 12-7 11-7 12-7 12-6 11-7 12-6 12-6 11-6 12-6 12-6 12-6 11-6 12-5 12-5 12-6 12-5 11-5 12-5 12-4 12-5 12-5 12-4M1219 844l11-9 11-9 12-9 11-9 12-9 11-8 11-8 12-9 11-8 12-8 11-8 12-8 11-7 12-8 11-7 12-7 12-7 11-7 12-7 12-7 11-7 12-6 12-6 11-7 12-6 12-6 11-6 12-5 12-6 12-5 11-6 12-5 12-5 12-5 12-5 11-5M1208 849l11-9 11-9 11-9 12-9 11-8 12-9 11-8 12-9 11-8 11-8 12-8 11-7 12-8 12-8 11-7 12-7 11-7 12-7 11-7 12-7 12-7 11-6 12-6 12-7 11-6 12-6 12-6 12-5 11-6 12-5 12-6 12-5 11-5 12-5M1196 855l12-10 11-9 11-9 12-8 11-9 11-9 12-8 11-8 12-9 11-8 12-7 11-8 12-8 11-7 12-8 11-7 12-7 11-7 12-7 12-7 11-6 12-7 12-6 11-6 12-7 12-6 11-5 12-6 12-6 11-5 12-6 12-5M1185 860l11-9 12-9 11-9 11-9 12-9 11-8 12-9 11-8 11-8 12-8 11-8 12-8 11-7 12-8 11-7 12-8 11-7 12-7 12-7 11-6 12-7 11-6 12-7 12-6 11-6 12-6 12-6 11-6 12-5 12-6M1174 866l11-9 12-9 11-9 11-9 12-9 11-8 11-9 12-8 11-8 12-8 11-8 12-8 11-8 11-7 12-8 12-7 11-7 12-7 11-7 12-7 11-6 12-7 12-6 11-6 12-7 12-6 11-5 12-6M1163 872l11-9 12-9 11-9 11-9 11-9 12-8 11-9 12-8 11-8 11-8 12-8 11-8 12-8 11-7 12-8 11-7 12-7 11-7 12-7 11-7 12-6 12-7 11-6 12-7 12-6 11-6M1152 878l11-9 11-9 12-9 11-9 11-9 12-8 11-9 11-8 12-8 11-8 12-8 11-8 11-8 12-7 11-8 12-7 11-7 12-7 12-7 11-7 12-6 11-7 12-6 11-7M1141 885l11-10 11-9 12-9 11-8 11-9 12-9 11-8 11-9 12-8 11-8 11-8 12-8 11-7 12-8 11-7 12-7 11-8 12-7 11-7 12-6 11-7 12-7"/></g>
<ellipse cx="286.3" cy="236.0" rx="4.3" ry="3" fill="#f2b8b8" stroke="#7a4a4a" stroke-width="0.8"/><path d="M501.4 275.7L501.2 290" stroke="#222" stroke-width="0.9"/><ellipse cx="501.2" cy="290.6" rx="4.5" ry="3" fill="#f2b8b8" stroke="#7a4a4a" stroke-width="0.8"/><ellipse cx="720.3" cy="174.8" rx="4.5" ry="3" fill="#e02a2a" stroke="#8a1a1a" stroke-width="0.8"/><ellipse cx="501.4" cy="131.5" rx="4.3" ry="3" fill="#e02a2a" stroke="#8a1a1a" stroke-width="0.8"/><ellipse cx="501.4" cy="127.5" rx="4.3" ry="3" fill="#e02a2a" stroke="#8a1a1a" stroke-width="0.8"/>
<rect x="295.7" y="470.9" width="445.4" height="300.9" fill="url(#hm)"/><path d="M317.9 472.1 315 473.3 312.1 474.6 309.1 476 306.2 477.3 303.3 478.7 300.4 480.1 297.4 481.5M435.8 471.3 433.4 472 431 472.7 428.6 473.4 426.2 474.1 423.8 474.8 421.3 475.6 418.9 476.4 416.5 477.1 414.1 477.9 411.6 478.7 409.2 479.5 406.8 480.3 404.3 481.2 401.9 482 399.4 482.9 397 483.8 394.5 484.7 392.1 485.6 389.6 486.5 387.1 487.4 384.7 488.4 382.2 489.4 379.8 490.3 377.3 491.3 374.8 492.3 372.4 493.4 369.9 494.4 367.5 495.5 365 496.6 362.6 497.6 360.1 498.8 357.6 499.9 355.2 501 352.7 502.2 350.3 503.4 347.9 504.6 345.4 505.8 343 507 340.6 508.3 338.2 509.6 335.8 510.8 333.4 512.2 331 513.5 328.6 514.8 326.2 516.2 323.8 517.6 321.5 519 319.2 520.4 316.8 521.9 314.5 523.3 312.2 524.8 309.9 526.3 307.7 527.8 305.4 529.4 303.2 531 301 532.5 298.8 534.2 296.6 535.8M296.4 718.1 298.8 719.7 301.1 721.3 303.5 722.8 305.9 724.3 308.4 725.8 310.8 727.3 313.3 728.8 315.8 730.2 318.3 731.6 320.9 733 323.4 734.3 326 735.7 328.6 737 331.2 738.3 333.8 739.5 336.5 740.8 339.1 742 341.7 743.2 344.4 744.4 347.1 745.5 349.8 746.7 352.4 747.8 355.1 748.9 357.8 750 360.5 751 363.2 752 366 753.1 368.7 754.1 371.4 755 374.1 756 376.8 756.9 379.6 757.8 382.3 758.7 385 759.6 387.7 760.5 390.4 761.3 393.2 762.1 395.9 762.9 398.6 763.7 401.3 764.5 404 765.3 406.7 766 409.4 766.7 412.1 767.4 414.8 768.1 417.5 768.8 420.2 769.5 422.9 770.1 425.6 770.7 428.2 771.4M740.1 492.4 738.1 492.1 736.2 491.8 734.2 491.5 732.3 491.2 730.4 490.9 728.5 490.6 726.5 490.4 724.6 490.1 722.7 489.8 720.8 489.6 718.9 489.3 717.1 489.1 715.2 488.9 713.3 488.7 711.4 488.5 709.6 488.2 707.7 488 705.8 487.9 704 487.7 702.1 487.5 700.3 487.3 698.5 487.1 696.6 487 694.8 486.8 693 486.7 691.2 486.5 689.4 486.4 687.5 486.3 685.7 486.2 683.9 486 682.2 485.9 680.4 485.8 678.6 485.7 676.8 485.6 675 485.5 673.2 485.4 671.5 485.4 669.7 485.3 668 485.2 666.2 485.1 664.4 485.1 662.7 485 661 485 659.2 484.9 657.5 484.9 655.7 484.9 654 484.8 652.3 484.8 650.5 484.8 648.8 484.8 647.1 484.8 645.4 484.8 643.7 484.8 642 484.8 640.2 484.8 638.5 484.8 636.8 484.8 635.1 484.8 633.4 484.8 631.7 484.9 630 484.9 628.3 484.9 626.7 485 625 485 623.3 485.1 621.6 485.1 619.9 485.2 618.2 485.3 616.5 485.3 614.9 485.4 613.2 485.5 611.5 485.6 609.8 485.7 608.1 485.8 606.5 485.8 604.8 485.9 603.1 486.1 601.4 486.2 599.8 486.3 598.1 486.4 596.4 486.5 594.7 486.6 593.1 486.8 591.4 486.9 589.7 487 588 487.2 586.4 487.3 584.7 487.5 583 487.7 581.4 487.8 579.7 488 578 488.1 576.3 488.3 574.7 488.5 573 488.7 571.3 488.9 569.6 489.1 567.9 489.3 566.2 489.5 564.6 489.7 562.9 489.9 561.2 490.1 559.5 490.3 557.8 490.6 556.1 490.8 554.4 491 552.7 491.3 551 491.5 549.3 491.8 547.6 492 545.9 492.3 544.2 492.6 542.5 492.9 540.8 493.1 539.1 493.4 537.4 493.7 535.7 494 534 494.3 532.2 494.6 530.5 494.9 528.8 495.3 527.1 495.6 525.3 495.9 523.6 496.3 521.9 496.6 520.1 497 518.4 497.3 516.6 497.7 514.9 498 513.1 498.4 511.4 498.8 509.6 499.2 507.8 499.6 506.1 500 504.3 500.4 502.5 500.8 500.8 501.3 499 501.7 497.2 502.1 495.4 502.6 493.6 503 491.8 503.5 490 504 488.2 504.4 486.4 504.9 484.6 505.4 482.8 505.9 481 506.4 479.2 507 477.4 507.5 475.6 508 473.7 508.6 471.9 509.1 470.1 509.7 468.3 510.3 466.4 510.9 464.6 511.5 462.7 512.1 460.9 512.7 459.1 513.3 457.2 513.9 455.4 514.6 453.5 515.2 451.7 515.9 449.8 516.6 447.9 517.3 446.1 518 444.2 518.7 442.4 519.4 440.5 520.1 438.6 520.9 436.8 521.6 434.9 522.4 433.1 523.2 431.2 523.9 429.3 524.7 427.5 525.6 425.6 526.4 423.8 527.2 421.9 528.1 420.1 529 418.2 529.8 416.4 530.7 414.5 531.6 412.7 532.6 410.8 533.5 409 534.4 407.2 535.4 405.4 536.4 403.5 537.4 401.7 538.4 399.9 539.4 398.1 540.4 396.3 541.5 394.6 542.5 392.8 543.6 391 544.7 389.3 545.8 387.5 546.9 385.8 548.1 384.1 549.2 382.4 550.4 380.7 551.6 379 552.8 377.4 554 375.7 555.2 374.1 556.5 372.5 557.7 370.9 559 369.3 560.3 367.8 561.6 366.3 563 364.8 564.3 363.3 565.6 361.8 567 360.4 568.4 358.9 569.8 357.6 571.2 356.2 572.6 354.9 574.1 353.6 575.5 352.3 577 351 578.5 349.8 580 348.6 581.5 347.5 583 346.4 584.6 345.3 586.1 344.3 587.7 343.3 589.3 342.3 590.8 341.4 592.4 340.5 594 339.6 595.7 338.8 597.3 338 598.9 337.3 600.6 336.6 602.2 336 603.9 335.4 605.6 334.9 607.2 334.4 608.9 333.9 610.6 333.5 612.3 333.1 614 332.8 615.7 332.5 617.4 332.3 619.1 332.2 620.8 332 622.5 332 624.2 331.9 625.9 332 627.7 332.1 629.4 332.2 631.1 332.4 632.8 332.6 634.5 332.9 636.2 333.2 637.9 333.6 639.6 334 641.3 334.5 642.9 335 644.6 335.6 646.3 336.2 648 336.9 649.6 337.6 651.2 338.4 652.9 339.2 654.5 340 656.1 340.9 657.7 341.9 659.3 342.9 660.9 343.9 662.5 345 664 346.1 665.6 347.2 667.1 348.4 668.6 349.6 670.1 350.9 671.6 352.2 673.1 353.6 674.5 354.9 676 356.4 677.4 357.8 678.8 359.3 680.2 360.8 681.6 362.3 682.9 363.9 684.3 365.5 685.6 367.1 686.9 368.8 688.2 370.4 689.5 372.1 690.7 373.9 692 375.6 693.2 377.4 694.4 379.2 695.6 381 696.7 382.8 697.9 384.6 699 386.5 700.1 388.4 701.2 390.3 702.3 392.2 703.4 394.1 704.4 396 705.4 398 706.5 399.9 707.4 401.9 708.4 403.9 709.4 405.9 710.3 407.9 711.2 409.9 712.2 411.9 713 413.9 713.9 415.9 714.8 418 715.6 420 716.5 422.1 717.3 424.1 718.1 426.1 718.8 428.2 719.6 430.3 720.4 432.3 721.1 434.4 721.8 436.4 722.5 438.5 723.2 440.5 723.9 442.6 724.6 444.7 725.2 446.7 725.9 448.8 726.5 450.8 727.1 452.9 727.7 454.9 728.3 457 728.8 459 729.4 461.1 730 463.1 730.5 465.2 731 467.2 731.5 469.2 732 471.3 732.5 473.3 733 475.3 733.5 477.3 733.9 479.3 734.4 481.3 734.8 483.3 735.2 485.3 735.6 487.3 736 489.3 736.4 491.3 736.8 493.3 737.2 495.3 737.6 497.2 737.9 499.2 738.3 501.2 738.6 503.1 738.9 505.1 739.3 507 739.6 508.9 739.9 510.9 740.2 512.8 740.5 514.7 740.7 516.6 741 518.5 741.3 520.4 741.5 522.3 741.8 524.2 742 526.1 742.3 528 742.5 529.9 742.7 531.8 742.9 533.6 743.1 535.5 743.3 537.3 743.5 539.2 743.7 541 743.9 542.9 744.1 544.7 744.2 546.5 744.4 548.4 744.5 550.2 744.7 552 744.8 553.8 745 555.6 745.1 557.4 745.2 559.2 745.3 561 745.5 562.8 745.6 564.6 745.7 566.4 745.8 568.2 745.9 569.9 745.9 571.7 746 573.5 746.1 575.2 746.2 577 746.2 578.7 746.3 580.5 746.3 582.2 746.4 584 746.4 585.7 746.5 587.4 746.5 589.2 746.5 590.9 746.6 592.6 746.6 594.4 746.6 596.1 746.6 597.8 746.6 599.5 746.6 601.2 746.6 602.9 746.6 604.6 746.6 606.3 746.6 608 746.6 609.7 746.5 611.4 746.5 613.1 746.5 614.8 746.4 616.5 746.4 618.2 746.3 619.9 746.3 621.6 746.2 623.3 746.2 625 746.1 626.6 746 628.3 746 630 745.9 631.7 745.8 633.4 745.7 635 745.6 636.7 745.5 638.4 745.4 640.1 745.3 641.7 745.2 643.4 745.1 645.1 745 646.8 744.9 648.4 744.7 650.1 744.6 651.8 744.5 653.5 744.3 655.1 744.2 656.8 744 658.5 743.9 660.1 743.7 661.8 743.6 663.5 743.4 665.2 743.2 666.8 743.1 668.5 742.9 670.2 742.7 671.9 742.5 673.6 742.3 675.2 742.1 676.9 741.9 678.6 741.7 680.3 741.5 682 741.3 683.7 741 685.4 740.8 687 740.6 688.7 740.3 690.4 740.1 692.1 739.8 693.8 739.6 695.5 739.3 697.2 739.1 698.9 738.8 700.6 738.5 702.4 738.2 704.1 738 705.8 737.7 707.5 737.4 709.2 737.1 710.9 736.8 712.7 736.4 714.4 736.1 716.1 735.8 717.8 735.5 719.6 735.1 721.3 734.8 723.1 734.4 724.8 734.1 726.5 733.7 728.3 733.3 730.1 733 731.8 732.6 733.6 732.2 735.3 731.8 737.1 731.4 738.9 731 740.6 730.5M740.7 573.8 739.8 573.2 738.8 572.7 737.9 572.1 736.9 571.6 735.9 571.1 735 570.6 734 570.1 733 569.6 732 569.1 731 568.6 730 568.1 729 567.6 728 567.2 727 566.7 726 566.3 725 565.9 723.9 565.4 722.9 565 721.9 564.6 720.9 564.2 719.8 563.8 718.8 563.4 717.8 563.1 716.7 562.7 715.7 562.3 714.7 562 713.6 561.6 712.6 561.3 711.6 561 710.5 560.6 709.5 560.3 708.5 560 707.4 559.7 706.4 559.4 705.4 559.1 704.3 558.8 703.3 558.5 702.3 558.2 701.2 558 700.2 557.7 699.2 557.5 698.2 557.2 697.2 557 696.1 556.7 695.1 556.5 694.1 556.3 693.1 556 692.1 555.8 691.1 555.6 690.1 555.4 689.1 555.2 688.1 555 687.1 554.8 686.1 554.6 685.1 554.4 684.1 554.2 683.1 554.1 682.1 553.9 681.1 553.7 680.2 553.6 679.2 553.4 678.2 553.3 677.2 553.1 676.3 553 675.3 552.8 674.4 552.7 673.4 552.6 672.4 552.4 671.5 552.3 670.5 552.2 669.6 552.1 668.6 551.9 667.7 551.8 666.7 551.7 665.8 551.6 664.9 551.5 663.9 551.4 663 551.3 662.1 551.2 661.2 551.2 660.2 551.1 659.3 551 658.4 550.9 657.5 550.8 656.6 550.8 655.7 550.7 654.7 550.6 653.8 550.6 652.9 550.5 652 550.5 651.1 550.4 650.2 550.3 649.3 550.3 648.4 550.3 647.6 550.2 646.7 550.2 645.8 550.1 644.9 550.1 644 550.1 643.1 550 642.3 550 641.4 550 640.5 550 639.6 549.9 638.8 549.9 637.9 549.9 637 549.9 636.1 549.9 635.3 549.9 634.4 549.9 633.6 549.9 632.7 549.9 631.8 549.9 631 549.9 630.1 549.9 629.3 549.9 628.4 549.9 627.5 549.9 626.7 549.9 625.8 549.9 625 550 624.1 550 623.3 550 622.4 550 621.6 550.1 620.7 550.1 619.9 550.1 619 550.2 618.2 550.2 617.4 550.2 616.5 550.3 615.7 550.3 614.8 550.4 614 550.4 613.1 550.5 612.3 550.5 611.5 550.6 610.6 550.6 609.8 550.7 608.9 550.8 608.1 550.8 607.3 550.9 606.4 550.9 605.6 551 604.7 551.1 603.9 551.2 603 551.2 602.2 551.3 601.4 551.4 600.5 551.5 599.7 551.6 598.8 551.7 598 551.8 597.1 551.8 596.3 551.9 595.5 552 594.6 552.1 593.8 552.2 592.9 552.3 592.1 552.5 591.2 552.6 590.4 552.7 589.5 552.8 588.7 552.9 587.8 553 587 553.1 586.1 553.3 585.3 553.4 584.4 553.5 583.6 553.7 582.7 553.8 581.8 553.9 581 554.1 580.1 554.2 579.3 554.4 578.4 554.5 577.5 554.7 576.7 554.8 575.8 555 574.9 555.1 574.1 555.3 573.2 555.5 572.3 555.6 571.5 555.8 570.6 556 569.7 556.2 568.8 556.4 567.9 556.5 567.1 556.7 566.2 556.9 565.3 557.1 564.4 557.3 563.5 557.5 562.6 557.7 561.7 557.9 560.8 558.2 560 558.4 559.1 558.6 558.2 558.8 557.3 559.1 556.4 559.3 555.5 559.5 554.6 559.8 553.7 560 552.7 560.3 551.8 560.5 550.9 560.8 550 561 549.1 561.3 548.2 561.6 547.3 561.8 546.3 562.1 545.4 562.4 544.5 562.7 543.6 563 542.7 563.3 541.7 563.6 540.8 563.9 539.9 564.2 539 564.5 538 564.9 537.1 565.2 536.2 565.5 535.2 565.9 534.3 566.2 533.4 566.6 532.4 566.9 531.5 567.3 530.6 567.6 529.6 568 528.7 568.4 527.8 568.8 526.8 569.2 525.9 569.6 524.9 570 524 570.4 523.1 570.8 522.1 571.2 521.2 571.6 520.3 572.1 519.3 572.5 518.4 573 517.5 573.4 516.6 573.9 515.6 574.4 514.7 574.8 513.8 575.3 512.9 575.8 512 576.3 511.1 576.8 510.2 577.3 509.3 577.9 508.4 578.4 507.5 578.9 506.6 579.5 505.7 580 504.8 580.6 503.9 581.1 503.1 581.7 502.2 582.3 501.3 582.9 500.5 583.5 499.7 584.1 498.8 584.7 498 585.3 497.2 585.9 496.4 586.6 495.6 587.2 494.8 587.9 494 588.5 493.2 589.2 492.5 589.9 491.7 590.5 491 591.2 490.3 591.9 489.6 592.6 488.9 593.3 488.2 594 487.5 594.8 486.8 595.5 486.2 596.2 485.6 597 485 597.7 484.4 598.5 483.8 599.3 483.2 600 482.7 600.8 482.2 601.6 481.7 602.4 481.2 603.2 480.7 604 480.3 604.8 479.8 605.6 479.4 606.4 479 607.3 478.7 608.1 478.3 608.9 478 609.8 477.7 610.6 477.4 611.4 477.2 612.3 477 613.1 476.8 614 476.6 614.8 476.4 615.7 476.3 616.5 476.2 617.4 476.1 618.3 476 619.1 476 620 476 620.8 476 621.7 476 622.6 476.1 623.4 476.2 624.3 476.3 625.1 476.4 626 476.6 626.8 476.8 627.7 477 628.5 477.3 629.4 477.5 630.2 477.8 631.1 478.1 631.9 478.5 632.7 478.8 633.6 479.2 634.4 479.6 635.2 480 636 480.5 636.8 481 637.6 481.5 638.4 482 639.2 482.5 640 483.1 640.8 483.7 641.5 484.3 642.3 484.9 643 485.5 643.8 486.2 644.5 486.9 645.3 487.5 646 488.3 646.7 489 647.4 489.7 648.1 490.5 648.8 491.3 649.5 492 650.2 492.8 650.8 493.7 651.5 494.5 652.1 495.3 652.8 496.2 653.4 497 654 497.9 654.6 498.8 655.2 499.7 655.8 500.6 656.4 501.5 657 502.5 657.6 503.4 658.1 504.3 658.7 505.3 659.2 506.3 659.8 507.2 660.3 508.2 660.8 509.2 661.3 510.2 661.8 511.2 662.3 512.1 662.8 513.1 663.3 514.2 663.7 515.2 664.2 516.2 664.6 517.2 665.1 518.2 665.5 519.2 665.9 520.3 666.3 521.3 666.8 522.3 667.2 523.3 667.5 524.4 667.9 525.4 668.3 526.4 668.7 527.5 669 528.5 669.4 529.5 669.7 530.6 670.1 531.6 670.4 532.6 670.7 533.7 671.1 534.7 671.4 535.7 671.7 536.8 672 537.8 672.3 538.8 672.6 539.9 672.9 540.9 673.1 541.9 673.4 543 673.7 544 673.9 545 674.2 546 674.4 547 674.7 548.1 674.9 549.1 675.1 550.1 675.3 551.1 675.6 552.1 675.8 553.1 676 554.1 676.2 555.1 676.4 556.1 676.6 557.1 676.8 558.1 677 559.1 677.1 560.1 677.3 561 677.5 562 677.6 563 677.8 564 678 565 678.1 565.9 678.3 566.9 678.4 567.9 678.6 568.8 678.7 569.8 678.8 570.7 679 571.7 679.1 572.6 679.2 573.6 679.3 574.5 679.4 575.5 679.5 576.4 679.7 577.4 679.8 578.3 679.9 579.2 680 580.2 680 581.1 680.1 582 680.2 582.9 680.3 583.9 680.4 584.8 680.5 585.7 680.5 586.6 680.6 587.5 680.7 588.4 680.7 589.3 680.8 590.2 680.9 591.1 680.9 592 681 592.9 681 593.8 681.1 594.7 681.1 595.6 681.2 596.5 681.2 597.4 681.2 598.3 681.3 599.2 681.3 600 681.3 600.9 681.4 601.8 681.4 602.7 681.4 603.6 681.4 604.4 681.5 605.3 681.5 606.2 681.5 607 681.5 607.9 681.5 608.8 681.5 609.6 681.5 610.5 681.5 611.3 681.5 612.2 681.5 613.1 681.5 613.9 681.5 614.8 681.5 615.6 681.5 616.5 681.5 617.3 681.4 618.2 681.4 619 681.4 619.9 681.4 620.7 681.3 621.6 681.3 622.4 681.3 623.3 681.2 624.1 681.2 625 681.2 625.8 681.1 626.7 681.1 627.5 681.1 628.3 681 629.2 681 630 680.9 630.9 680.9 631.7 680.8 632.6 680.7 633.4 680.7 634.2 680.6 635.1 680.6 635.9 680.5 636.8 680.4 637.6 680.4 638.4 680.3 639.3 680.2 640.1 680.1 641 680.1 641.8 680 642.7 679.9 643.5 679.8 644.3 679.7 645.2 679.6 646 679.5 646.9 679.4 647.7 679.3 648.6 679.2 649.4 679.1 650.3 679 651.1 678.9 651.9 678.8 652.8 678.7 653.6 678.6 654.5 678.5 655.3 678.3 656.2 678.2 657.1 678.1 657.9 678 658.8 677.8 659.6 677.7 660.5 677.6 661.3 677.4 662.2 677.3 663 677.2 663.9 677 664.8 676.9 665.6 676.7 666.5 676.5 667.4 676.4 668.2 676.2 669.1 676.1 670 675.9 670.8 675.7 671.7 675.6 672.6 675.4 673.5 675.2 674.4 675 675.2 674.8 676.1 674.6 677 674.4 677.9 674.2 678.8 674 679.7 673.8 680.5 673.6 681.4 673.4 682.3 673.2 683.2 673 684.1 672.8 685 672.5 685.9 672.3 686.8 672.1 687.7 671.9 688.6 671.6 689.5 671.4 690.4 671.1 691.3 670.9 692.3 670.6 693.2 670.3 694.1 670.1 695 669.8 695.9 669.5 696.8 669.3 697.7 669 698.7 668.7 699.6 668.4 700.5 668.1 701.4 667.8 702.4 667.5 703.3 667.2 704.2 666.8 705.2 666.5 706.1 666.2 707 665.9 707.9 665.5 708.9 665.2 709.8 664.8 710.7 664.5 711.7 664.1 712.6 663.7 713.6 663.4 714.5 663 715.4 662.6 716.4 662.2 717.3 661.8 718.2 661.4 719.2 661 720.1 660.6 721 660.2 722 659.7 722.9 659.3 723.8 658.8 724.8 658.4 725.7 657.9 726.6 657.5 727.5 657 728.5 656.5 729.4 656.1 730.3 655.6 731.2 655.1 732.1 654.6 733 654 733.9 653.5 734.8 653 735.7 652.5 736.6 651.9 737.5 651.4 738.4 650.8 739.2 650.2 740.1 649.7 741 649.1" stroke="#222" stroke-width="0.9" fill="none" clip-path="url(#cp)"/><rect x="295.7" y="470.9" width="445.4" height="300.9" fill="none" stroke="#5e6666" stroke-width="1.4"/><rect x="354.2" y="488.4" width="16.4" height="8.6" fill="#fff" stroke="#444" stroke-width="0.8"/><text x="362.4" y="495.4" font-size="8" text-anchor="middle" fill="#222">0.8</text><rect x="348.6" y="740" width="15.9" height="8.3" fill="#fff" stroke="#444" stroke-width="0.8"/><text x="356.6" y="746.7" font-size="8" text-anchor="middle" fill="#222">0.8</text><rect x="327.1" y="607.9" width="10.0" height="8.8" fill="#fff" stroke="#444" stroke-width="0.8"/><text x="332.1" y="615.1" font-size="8" text-anchor="middle" fill="#222">1</text><rect x="468.1" y="604.8" width="16.2" height="8.3" fill="#fff" stroke="#444" stroke-width="0.8"/><text x="476.2" y="611.5" font-size="8" text-anchor="middle" fill="#222">1.2</text><path d="M283 470.9H295.7M283 546.1H295.7M283 621.4H295.7M283 696.6H295.7M283 771.8H295.7M295.7 771.8V780.2M407 771.8V780.2M518.4 771.8V780.2M629.8 771.8V780.2M741.1 771.8V780.2" stroke="#444" stroke-width="0.9"/><g font-size="7.2" fill="#333"><text x="278.8" y="473.5" text-anchor="end">1.00</text><text x="278.8" y="548.7" text-anchor="end">0.50</text><text x="278.8" y="624.0" text-anchor="end">0.00</text><text x="278.8" y="699.2" text-anchor="end">-0.50</text><text x="278.8" y="774.4" text-anchor="end">-1.00</text><text x="295.7" y="790" text-anchor="middle">-1.00</text><text x="407.0" y="790" text-anchor="middle">-0.50</text><text x="518.4" y="790" text-anchor="middle">0.00</text><text x="629.8" y="790" text-anchor="middle">0.50</text><text x="741.1" y="790" text-anchor="middle">1.00</text></g><ellipse cx="295.7" cy="470.9" rx="4.6" ry="3.3" fill="#e42a2a" stroke="#8a1a1a" stroke-width="0.8"/><ellipse cx="741.1" cy="470.9" rx="4.6" ry="3.3" fill="#e42a2a" stroke="#8a1a1a" stroke-width="0.8"/><ellipse cx="295.7" cy="771.8" rx="4.6" ry="3.3" fill="#e42a2a" stroke="#8a1a1a" stroke-width="0.8"/><ellipse cx="741.1" cy="771.8" rx="4.6" ry="3.3" fill="#e42a2a" stroke="#8a1a1a" stroke-width="0.8"/><ellipse cx="518.4" cy="621.4" rx="4.6" ry="3.3" fill="#e42a2a" stroke="#8a1a1a" stroke-width="0.8"/><text x="507.8" y="623.3" font-size="8" fill="#5a2a1a">5</text><text x="405.3" y="463.8" font-size="17.8" fill="#2a2a2a">Ethanol concentration(g/mL)</text><text x="453.8" y="833.5" font-size="12.5" fill="#2a2a2a">A:Fermentation time(h)</text><text transform="translate(213.3 721) rotate(-90)" font-size="12.6" fill="#2a2a2a">C:Inoculum dosage(mL)</text>
</svg>
</body></html>
